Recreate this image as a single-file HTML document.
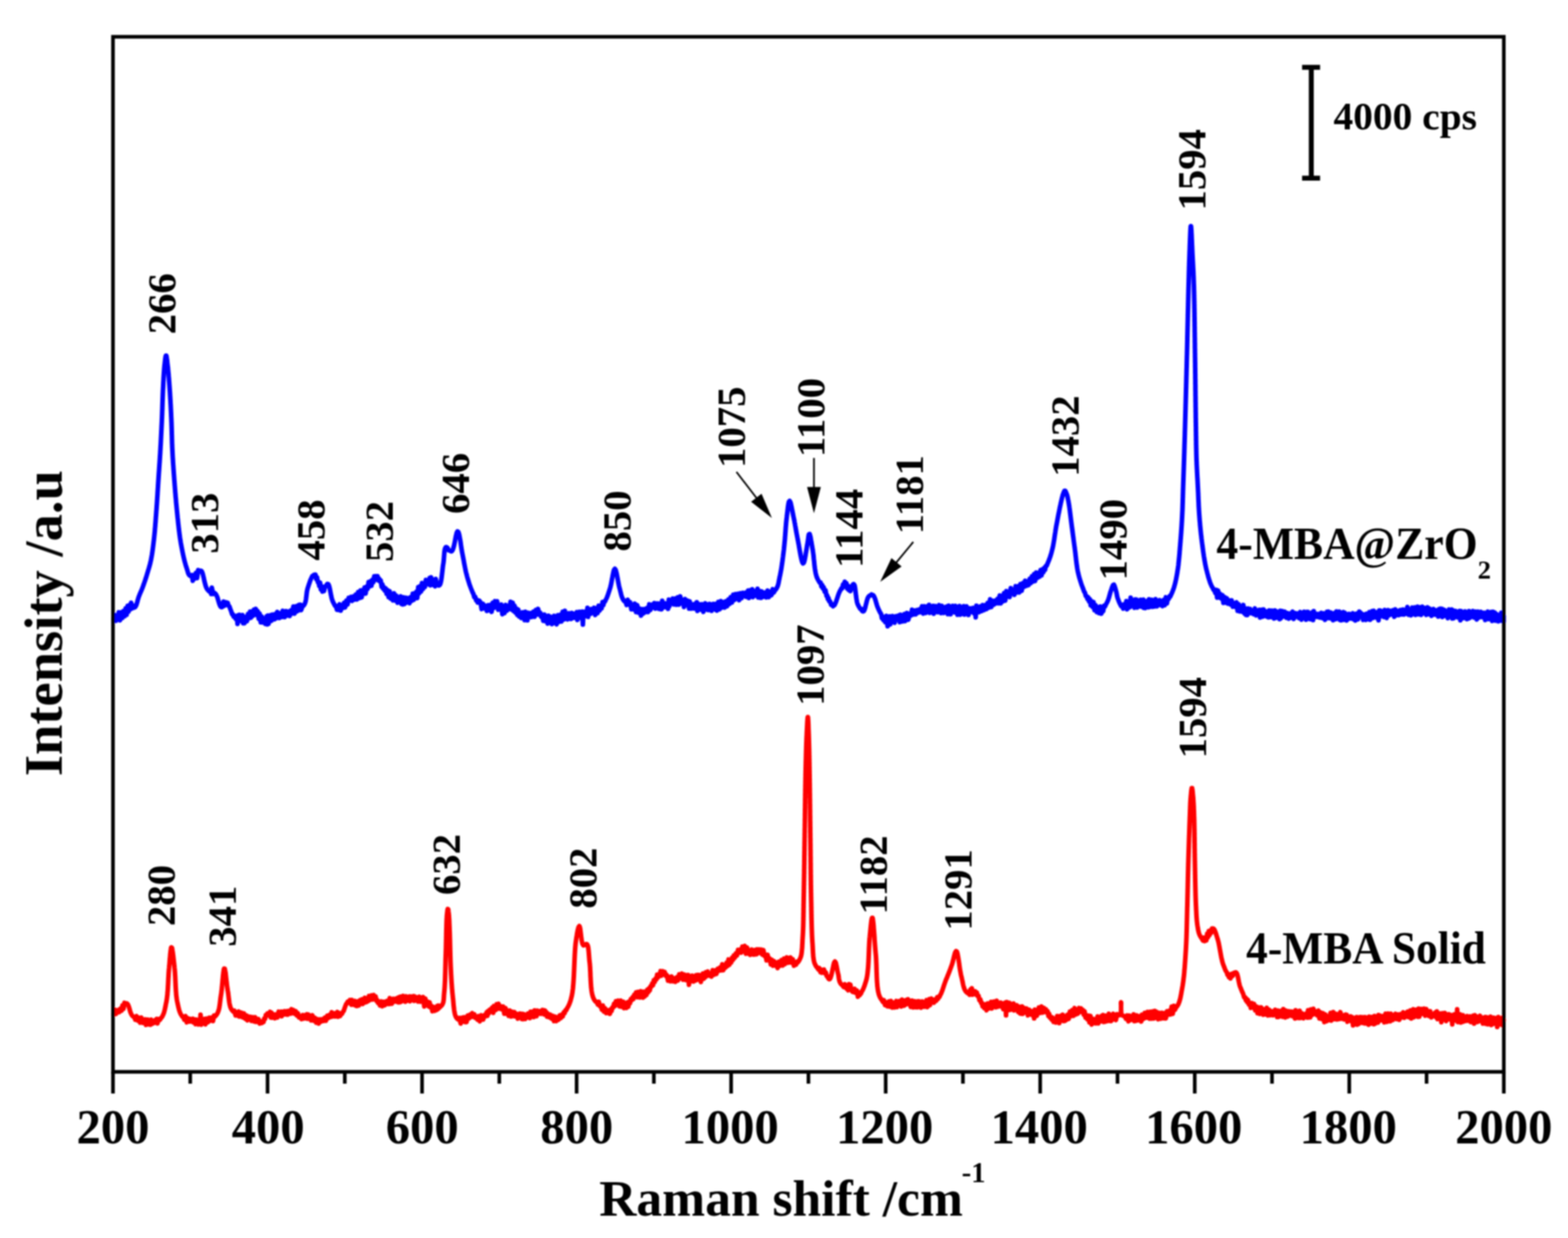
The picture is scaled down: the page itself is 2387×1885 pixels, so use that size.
<!DOCTYPE html>
<html><head><meta charset="utf-8"><title>Raman spectra</title>
<style>html,body{margin:0;padding:0;background:#fff;width:2387px;height:1885px;overflow:hidden}
text{font-family:'Liberation Serif','Times New Roman',serif;font-weight:bold;fill:#000}</style></head>
<body>
<svg width="2387" height="1885" viewBox="0 0 2387 1885" style="display:block;font-family:'Liberation Serif','Times New Roman',serif;font-weight:bold">
<defs><filter id="soft" filterUnits="userSpaceOnUse" x="0" y="0" width="2387" height="1885"><feGaussianBlur stdDeviation="1"/></filter></defs>
<rect width="2387" height="1885" fill="#fff"/>
<g filter="url(#soft)">
<path d="M172.0,940.0 L174.0,943.2 L175.2,936.6 L176.5,945.3 L177.8,938.4 L179.0,943.1 L180.8,932.4 L182.6,944.6 L184.5,932.2 L186.3,941.0 L188.1,930.4 L189.8,938.3 L191.3,926.2 L192.8,936.0 L194.3,922.6 L195.7,931.4 L197.2,921.2 L198.6,927.9 L199.7,917.7 L200.8,926.6 L201.9,921.6 L203.0,925.0 L204.0,925.2 L205.5,924.6 L206.8,922.8 L207.6,921.0 L207.9,920.1 L208.2,919.0 L208.6,917.9 L208.9,916.8 L209.2,915.6 L209.5,914.5 L209.8,913.3 L210.1,912.2 L210.5,911.1 L210.8,910.0 L211.1,909.0 L211.5,908.0 L212.6,905.2 L213.8,902.4 L215.0,899.6 L216.1,897.1 L216.9,894.9 L217.3,894.0 L217.6,893.0 L218.0,892.0 L218.3,891.1 L218.7,890.1 L219.0,889.2 L219.3,888.2 L219.7,887.3 L220.0,886.3 L220.3,885.3 L220.7,884.4 L221.0,883.4 L221.3,882.4 L221.6,881.4 L222.0,880.4 L222.3,879.4 L222.6,878.4 L222.9,877.4 L223.2,876.4 L223.5,875.5 L223.8,874.5 L224.1,873.5 L224.4,872.5 L224.7,871.5 L225.0,870.6 L225.3,869.6 L225.5,868.7 L225.8,867.8 L226.1,866.8 L226.4,865.9 L226.7,865.0 L226.9,864.0 L227.2,863.1 L227.5,862.2 L227.7,861.2 L228.0,860.2 L228.3,859.3 L228.5,858.3 L228.8,857.3 L229.0,856.3 L229.2,855.2 L229.5,854.2 L229.7,853.1 L229.9,852.2 L230.1,851.3 L230.2,850.4 L230.4,849.4 L230.6,848.5 L230.8,847.6 L230.9,846.6 L231.1,845.6 L231.3,844.7 L231.4,843.7 L231.6,842.7 L231.7,841.7 L231.9,840.7 L232.0,839.7 L232.2,838.7 L232.3,837.7 L232.5,836.6 L232.6,835.6 L232.7,834.5 L232.9,833.5 L233.0,832.4 L233.1,831.4 L233.3,830.3 L233.4,829.2 L233.5,828.1 L233.7,827.0 L233.8,825.9 L233.9,824.8 L234.1,823.7 L234.2,822.6 L234.3,821.7 L234.4,820.8 L234.5,819.8 L234.6,818.9 L234.7,817.9 L234.8,817.0 L234.9,816.0 L235.0,815.1 L235.1,814.1 L235.2,813.1 L235.3,812.1 L235.4,811.1 L235.5,810.1 L235.6,809.1 L235.7,808.1 L235.8,807.1 L235.8,806.1 L235.9,805.0 L236.0,804.0 L236.1,803.0 L236.2,801.9 L236.3,800.9 L236.4,799.9 L236.4,798.8 L236.5,797.8 L236.6,796.7 L236.7,795.7 L236.8,794.6 L236.9,793.6 L236.9,792.5 L237.0,791.5 L237.1,790.5 L237.2,789.4 L237.2,788.4 L237.3,787.3 L237.4,786.3 L237.5,785.2 L237.6,784.2 L237.6,783.2 L237.7,782.1 L237.8,781.1 L237.9,780.1 L237.9,779.0 L238.0,778.0 L238.1,777.0 L238.2,776.0 L238.3,775.0 L238.3,774.0 L238.4,772.9 L238.5,771.9 L238.5,770.9 L238.6,769.9 L238.7,768.9 L238.8,767.9 L238.8,766.8 L238.9,765.8 L239.0,764.8 L239.0,763.8 L239.1,762.8 L239.2,761.8 L239.2,760.8 L239.3,759.7 L239.4,758.7 L239.4,757.7 L239.5,756.7 L239.6,755.7 L239.6,754.7 L239.7,753.6 L239.8,752.6 L239.8,751.6 L239.9,750.6 L239.9,749.6 L240.0,748.6 L240.1,747.5 L240.1,746.5 L240.2,745.5 L240.3,744.5 L240.3,743.5 L240.4,742.5 L240.5,741.5 L240.5,740.4 L240.6,739.4 L240.6,738.4 L240.7,737.4 L240.8,736.4 L240.8,735.4 L240.9,734.3 L241.0,733.3 L241.0,732.3 L241.1,731.3 L241.2,730.3 L241.2,729.3 L241.3,728.3 L241.4,727.2 L241.4,726.2 L241.5,725.2 L241.6,724.2 L241.6,723.2 L241.7,722.2 L241.8,721.2 L241.8,720.2 L241.9,719.1 L242.0,718.1 L242.1,717.1 L242.1,716.1 L242.2,715.1 L242.3,714.1 L242.3,713.1 L242.4,712.0 L242.5,711.0 L242.5,710.0 L242.6,709.0 L242.7,708.0 L242.7,707.0 L242.8,706.0 L242.9,705.0 L243.0,703.9 L243.0,702.9 L243.1,701.9 L243.2,700.9 L243.2,699.9 L243.3,698.9 L243.4,697.9 L243.4,696.9 L243.5,695.8 L243.5,694.8 L243.6,693.8 L243.7,692.8 L243.7,691.8 L243.8,690.8 L243.9,689.8 L243.9,688.7 L244.0,687.7 L244.0,686.7 L244.1,685.7 L244.2,684.7 L244.2,683.7 L244.3,682.7 L244.3,681.6 L244.4,680.6 L244.4,679.6 L244.5,678.6 L244.6,677.6 L244.6,676.6 L244.7,675.6 L244.7,674.6 L244.8,673.6 L244.8,672.6 L244.9,671.6 L244.9,670.5 L245.0,669.5 L245.0,668.5 L245.1,667.5 L245.1,666.5 L245.2,665.5 L245.2,664.5 L245.3,663.5 L245.3,662.5 L245.4,661.5 L245.4,660.5 L245.5,659.4 L245.5,658.4 L245.6,657.4 L245.6,656.4 L245.7,655.4 L245.7,654.4 L245.8,653.4 L245.8,652.3 L245.9,651.3 L245.9,650.3 L246.0,649.3 L246.0,648.2 L246.1,647.2 L246.1,646.2 L246.2,645.2 L246.2,644.1 L246.3,643.1 L246.3,642.1 L246.4,641.0 L246.4,640.0 L246.4,639.0 L246.5,638.0 L246.5,637.0 L246.6,636.0 L246.6,635.0 L246.6,634.0 L246.7,633.0 L246.7,632.0 L246.8,631.0 L246.8,630.0 L246.8,629.0 L246.9,627.9 L246.9,626.9 L246.9,625.9 L247.0,624.9 L247.0,623.8 L247.1,622.8 L247.1,621.8 L247.1,620.7 L247.2,619.7 L247.2,618.7 L247.2,617.6 L247.3,616.6 L247.3,615.6 L247.3,614.5 L247.4,613.5 L247.4,612.5 L247.4,611.5 L247.5,610.4 L247.5,609.4 L247.5,608.4 L247.6,607.4 L247.6,606.4 L247.6,605.4 L247.7,604.4 L247.7,603.4 L247.8,602.4 L247.8,601.4 L247.8,600.4 L247.9,599.4 L247.9,598.4 L248.0,597.5 L248.0,596.5 L248.0,595.6 L248.1,594.6 L248.1,593.7 L248.2,592.7 L248.2,591.8 L248.3,590.9 L248.3,590.0 L248.4,588.9 L248.4,587.8 L248.5,586.7 L248.5,585.6 L248.6,584.5 L248.6,583.4 L248.7,582.3 L248.7,581.3 L248.8,580.2 L248.9,579.1 L248.9,578.0 L249.0,577.0 L249.0,575.9 L249.1,574.8 L249.1,573.8 L249.2,572.8 L249.3,571.7 L249.3,570.7 L249.4,569.7 L249.5,568.7 L249.5,567.7 L249.6,566.7 L249.7,565.7 L249.7,564.8 L249.8,563.8 L249.9,562.9 L249.9,562.0 L250.0,561.1 L250.1,560.2 L250.2,559.3 L250.2,558.5 L250.3,557.6 L250.4,556.8 L250.5,556.0 L250.6,554.8 L250.8,553.5 L250.9,552.1 L251.1,550.8 L251.2,549.4 L251.4,548.1 L251.5,546.9 L251.7,545.7 L251.8,544.5 L252.0,543.6 L252.2,542.7 L252.3,542.0 L252.5,541.5 L253.1,541.4 L253.3,542.0 L253.4,542.7 L253.6,543.5 L253.8,544.5 L253.9,545.6 L254.1,546.8 L254.3,548.0 L254.4,549.4 L254.6,550.7 L254.7,552.1 L254.9,553.4 L255.0,554.7 L255.2,556.0 L255.3,556.8 L255.4,557.6 L255.5,558.4 L255.6,559.2 L255.7,560.1 L255.8,561.0 L255.8,561.9 L255.9,562.8 L256.0,563.7 L256.1,564.6 L256.2,565.6 L256.3,566.6 L256.4,567.5 L256.5,568.5 L256.6,569.5 L256.7,570.5 L256.7,571.6 L256.8,572.6 L256.9,573.6 L257.0,574.7 L257.1,575.8 L257.2,576.8 L257.3,577.9 L257.3,579.0 L257.4,580.0 L257.5,581.1 L257.6,582.2 L257.7,583.3 L257.7,584.3 L257.8,585.4 L257.9,586.5 L258.0,587.6 L258.1,588.7 L258.1,589.7 L258.2,590.8 L258.3,591.9 L258.4,592.9 L258.4,594.0 L258.5,595.0 L258.6,596.0 L258.6,596.9 L258.7,597.9 L258.8,598.9 L258.8,599.9 L258.9,600.8 L258.9,601.8 L259.0,602.8 L259.1,603.8 L259.1,604.8 L259.2,605.8 L259.2,606.8 L259.3,607.8 L259.4,608.7 L259.4,609.7 L259.5,610.7 L259.5,611.7 L259.6,612.7 L259.6,613.8 L259.7,614.8 L259.8,615.8 L259.8,616.8 L259.9,617.8 L259.9,618.8 L260.0,619.8 L260.0,620.8 L260.1,621.8 L260.1,622.8 L260.2,623.8 L260.2,624.9 L260.3,625.9 L260.3,626.9 L260.4,627.9 L260.4,628.9 L260.5,629.9 L260.5,630.9 L260.5,631.9 L260.6,632.9 L260.6,634.0 L260.7,635.0 L260.7,636.0 L260.8,637.0 L260.8,638.0 L260.9,639.0 L260.9,640.0 L260.9,641.0 L261.0,642.0 L261.0,643.0 L261.1,644.0 L261.1,645.1 L261.1,646.1 L261.2,647.1 L261.2,648.1 L261.2,649.1 L261.3,650.1 L261.3,651.1 L261.3,652.2 L261.4,653.2 L261.4,654.2 L261.4,655.2 L261.4,656.2 L261.5,657.2 L261.5,658.3 L261.5,659.3 L261.5,660.3 L261.6,661.3 L261.6,662.3 L261.6,663.3 L261.7,664.4 L261.7,665.4 L261.7,666.4 L261.7,667.4 L261.8,668.4 L261.8,669.4 L261.8,670.5 L261.9,671.5 L261.9,672.5 L261.9,673.5 L261.9,674.5 L262.0,675.5 L262.0,676.6 L262.1,677.6 L262.1,678.6 L262.1,679.6 L262.2,680.6 L262.2,681.6 L262.3,682.7 L262.3,683.7 L262.4,684.7 L262.4,685.7 L262.5,686.7 L262.5,687.7 L262.6,688.7 L262.6,689.8 L262.7,690.8 L262.7,691.8 L262.8,692.8 L262.8,693.8 L262.9,694.8 L262.9,695.8 L263.0,696.9 L263.1,697.9 L263.1,698.9 L263.2,699.9 L263.3,700.9 L263.3,701.9 L263.4,702.9 L263.4,703.9 L263.5,705.0 L263.6,706.0 L263.6,707.0 L263.7,708.0 L263.8,709.0 L263.9,710.0 L263.9,711.0 L264.0,712.0 L264.1,713.1 L264.1,714.1 L264.2,715.1 L264.3,716.1 L264.4,717.1 L264.4,718.1 L264.5,719.1 L264.6,720.2 L264.6,721.2 L264.7,722.2 L264.8,723.2 L264.9,724.2 L264.9,725.2 L265.0,726.2 L265.1,727.2 L265.2,728.3 L265.2,729.3 L265.3,730.3 L265.4,731.3 L265.5,732.3 L265.6,733.3 L265.6,734.3 L265.7,735.4 L265.8,736.4 L265.9,737.4 L265.9,738.4 L266.0,739.4 L266.1,740.4 L266.2,741.5 L266.3,742.5 L266.3,743.5 L266.4,744.5 L266.5,745.5 L266.6,746.5 L266.7,747.6 L266.7,748.6 L266.8,749.6 L266.9,750.6 L267.0,751.6 L267.1,752.6 L267.2,753.6 L267.2,754.7 L267.3,755.7 L267.4,756.7 L267.5,757.7 L267.6,758.7 L267.7,759.7 L267.8,760.8 L267.9,761.8 L268.0,762.8 L268.0,763.8 L268.1,764.8 L268.2,765.8 L268.3,766.9 L268.4,767.9 L268.5,768.9 L268.6,769.9 L268.7,770.9 L268.8,771.9 L268.9,772.9 L269.0,774.0 L269.1,775.0 L269.2,776.0 L269.3,777.0 L269.4,778.0 L269.5,779.0 L269.6,780.1 L269.7,781.1 L269.8,782.1 L269.9,783.2 L270.0,784.2 L270.1,785.2 L270.2,786.3 L270.3,787.3 L270.4,788.4 L270.6,789.4 L270.7,790.5 L270.8,791.5 L270.9,792.6 L271.0,793.6 L271.1,794.7 L271.2,795.7 L271.3,796.7 L271.4,797.8 L271.5,798.8 L271.7,799.9 L271.8,800.9 L271.9,801.9 L272.0,803.0 L272.1,804.0 L272.2,805.0 L272.4,806.1 L272.5,807.1 L272.6,808.1 L272.7,809.1 L272.9,810.1 L273.0,811.1 L273.1,812.1 L273.2,813.1 L273.4,814.1 L273.5,815.1 L273.6,816.0 L273.8,817.0 L273.9,817.9 L274.0,818.9 L274.2,819.8 L274.3,820.8 L274.5,821.7 L274.6,822.6 L274.8,823.7 L275.0,824.8 L275.1,825.9 L275.3,826.9 L275.5,828.0 L275.7,829.1 L275.9,830.2 L276.1,831.2 L276.3,832.3 L276.5,833.4 L276.7,834.4 L276.9,835.5 L277.1,836.5 L277.3,837.5 L277.5,838.6 L277.7,839.6 L277.9,840.6 L278.1,841.6 L278.3,842.5 L278.5,843.5 L278.7,844.5 L278.9,845.4 L279.1,846.3 L279.3,847.2 L279.5,848.1 L279.7,849.0 L279.9,849.9 L280.1,850.7 L280.3,851.5 L280.5,852.3 L280.7,853.1 L281.0,854.3 L281.3,855.4 L281.6,856.5 L281.9,857.5 L282.2,858.6 L282.4,859.5 L282.7,860.5 L283.0,861.4 L283.3,862.4 L283.6,863.3 L283.9,864.2 L284.2,865.1 L284.5,866.0 L284.8,867.1 L285.2,868.2 L285.5,869.3 L285.8,870.5 L286.1,871.5 L286.4,872.6 L287.7,875.2 L289.2,876.6 L291.2,877.6 L292.3,875.7 L293.4,884.3 L294.4,875.8 L296.3,881.1 L298.2,872.3 L300.0,880.3 L301.7,868.0 L303.5,870.3 L305.2,869.0 L306.4,869.2 L307.4,870.5 L308.0,871.9 L308.3,872.7 L308.6,873.7 L308.9,874.7 L309.2,875.7 L309.4,876.9 L309.7,878.0 L310.0,879.2 L310.3,880.5 L310.5,881.8 L310.8,883.1 L311.1,884.4 L311.4,885.6 L311.7,886.9 L312.0,888.2 L312.4,889.4 L312.7,890.6 L313.0,891.8 L313.4,892.9 L313.8,894.0 L315.1,896.7 L316.8,898.8 L318.6,900.7 L320.5,899.2 L321.5,904.4 L322.5,894.8 L324.5,904.4 L326.4,902.7 L328.0,904.0 L329.1,905.5 L330.5,908.4 L330.9,909.5 L331.3,910.7 L331.6,911.9 L332.0,913.1 L332.3,914.3 L332.7,915.5 L333.0,916.7 L333.4,917.9 L333.7,919.0 L334.1,920.0 L334.4,921.0 L335.6,923.4 L337.0,924.5 L338.6,924.1 L340.3,916.0 L342.1,922.2 L343.9,917.1 L345.6,919.9 L346.6,917.8 L348.0,922.4 L349.3,923.3 L349.7,924.9 L350.2,926.0 L350.6,927.2 L351.0,928.3 L351.5,929.5 L351.9,930.7 L353.4,935.4 L354.5,935.3 L355.7,939.0 L357.0,937.8 L358.7,942.1 L360.6,937.9 L361.6,949.9 L362.7,936.8 L363.7,945.2 L364.8,936.1 L365.9,945.0 L367.0,937.0 L368.1,946.0 L369.1,936.5 L370.2,948.9 L371.2,939.1 L372.2,948.9 L374.1,939.3 L375.9,945.9 L377.6,934.8 L379.2,941.3 L380.7,931.2 L382.1,940.6 L383.5,931.1 L385.0,937.8 L386.6,928.4 L388.0,935.9 L389.5,927.1 L390.9,936.4 L392.4,930.6 L393.8,942.2 L395.3,934.3 L396.9,947.5 L398.5,938.8 L400.1,947.8 L401.9,942.2 L403.8,949.9 L405.8,938.6 L406.8,950.8 L407.8,937.3 L408.8,949.9 L409.9,941.2 L410.9,945.2 L411.9,936.8 L413.0,945.4 L414.0,936.0 L415.0,943.6 L416.1,935.8 L418.0,942.9 L420.1,934.2 L421.1,941.1 L422.2,931.7 L423.2,938.4 L424.2,935.9 L425.3,941.0 L426.3,933.7 L427.3,937.3 L428.3,935.3 L429.3,939.5 L430.4,930.0 L431.4,938.8 L432.4,932.9 L433.5,939.6 L435.3,930.5 L437.2,937.2 L439.1,931.1 L441.0,938.0 L442.9,929.3 L444.8,934.1 L446.6,923.5 L448.4,934.3 L450.2,923.4 L452.1,930.9 L453.2,922.2 L454.2,929.9 L455.3,920.9 L456.3,927.2 L457.4,920.8 L458.4,929.0 L460.3,923.6 L462.0,922.3 L463.1,920.9 L464.2,918.7 L464.5,917.9 L464.8,917.0 L465.1,916.1 L465.3,915.1 L465.5,914.1 L465.7,913.1 L465.8,912.0 L466.0,910.9 L466.1,909.8 L466.3,908.7 L466.4,907.6 L466.5,906.5 L466.7,905.4 L466.8,904.3 L466.9,903.1 L467.1,902.0 L467.2,901.0 L467.4,899.9 L467.6,898.9 L467.8,897.8 L468.1,896.9 L468.3,895.9 L468.6,895.0 L469.0,893.9 L469.3,892.8 L469.7,891.6 L470.1,890.4 L470.5,889.1 L471.0,887.9 L471.4,886.6 L471.8,885.4 L472.3,884.1 L472.7,883.0 L474.1,880.1 L475.5,877.0 L476.9,877.3 L477.9,875.3 L479.1,877.8 L480.3,874.9 L481.4,881.7 L482.6,878.9 L483.8,886.1 L484.9,885.8 L486.0,892.2 L487.3,887.2 L488.4,897.4 L489.6,892.5 L490.8,900.7 L492.0,896.8 L493.2,900.0 L494.6,893.2 L495.9,892.8 L497.2,890.5 L498.4,889.1 L499.7,889.4 L500.6,891.1 L500.9,891.8 L501.1,892.7 L501.4,893.7 L501.7,894.7 L501.9,895.8 L502.1,896.9 L502.4,898.2 L502.6,899.4 L502.9,900.7 L503.1,902.0 L503.4,903.3 L503.6,904.6 L503.9,905.9 L504.1,907.2 L504.4,908.4 L504.7,909.7 L504.9,910.8 L505.2,912.0 L505.6,913.0 L505.9,914.0 L507.1,916.8 L508.2,918.9 L509.2,921.0 L510.4,923.0 L511.6,922.6 L512.9,928.4 L514.3,922.5 L515.7,928.8 L517.1,920.1 L518.7,929.8 L520.3,921.7 L521.9,925.7 L523.7,917.8 L525.4,924.9 L527.3,914.5 L529.1,920.3 L530.8,910.4 L532.5,912.1 L534.2,909.0 L536.0,915.0 L537.8,908.0 L539.6,913.0 L541.5,905.3 L543.3,912.8 L545.2,901.5 L547.0,910.7 L548.8,899.0 L550.6,909.6 L552.1,898.6 L553.5,904.2 L555.0,894.6 L556.6,903.8 L558.1,893.4 L559.6,896.7 L561.1,886.2 L562.6,893.2 L564.1,885.1 L565.5,891.9 L567.0,882.8 L568.3,886.7 L569.7,877.6 L571.0,883.2 L572.2,877.3 L573.4,882.4 L574.7,877.2 L575.9,883.6 L577.1,881.0 L578.1,885.2 L579.6,883.8 L581.0,893.5 L582.1,889.5 L583.2,896.1 L584.4,893.8 L585.7,899.5 L587.1,895.8 L588.5,904.1 L590.0,898.4 L591.6,909.2 L593.2,900.3 L594.8,911.5 L596.5,905.0 L598.2,914.1 L600.0,903.4 L601.7,914.5 L603.4,906.9 L605.2,917.7 L607.0,909.7 L609.0,915.6 L610.0,908.0 L611.1,919.4 L612.1,910.8 L613.2,920.3 L614.2,909.6 L615.3,919.8 L616.3,910.4 L617.4,918.4 L618.4,910.1 L619.4,915.9 L621.4,910.9 L623.3,918.5 L625.0,909.3 L626.7,915.0 L628.3,904.0 L629.8,913.4 L631.2,903.3 L632.5,909.9 L633.9,901.0 L635.2,910.8 L636.7,894.0 L638.1,903.6 L639.5,892.5 L641.0,900.9 L642.4,887.8 L643.9,896.9 L645.4,888.6 L646.9,893.8 L648.3,882.9 L649.8,888.9 L651.3,883.3 L653.1,889.9 L654.1,880.0 L655.2,891.2 L656.3,879.1 L657.4,887.3 L658.5,882.7 L659.5,890.6 L660.5,883.0 L662.4,892.7 L663.4,881.6 L665.3,889.7 L667.0,891.2 L668.6,891.5 L669.8,890.2 L670.3,889.0 L670.5,888.3 L670.8,887.5 L671.0,886.6 L671.2,885.7 L671.4,884.8 L671.6,883.8 L671.8,882.7 L671.9,881.6 L672.1,880.4 L672.3,879.3 L672.4,878.1 L672.6,876.8 L672.7,875.6 L672.9,874.3 L673.0,873.1 L673.2,871.8 L673.3,870.5 L673.5,869.3 L673.6,868.0 L673.7,866.8 L673.9,865.6 L674.0,864.4 L674.1,863.2 L674.3,862.1 L674.4,861.0 L674.6,859.9 L674.7,858.9 L674.9,858.0 L675.1,856.9 L675.2,855.8 L675.4,854.6 L675.5,853.3 L675.6,852.1 L675.7,850.8 L675.8,849.5 L675.9,848.3 L676.0,847.0 L676.1,845.7 L676.2,844.4 L676.3,843.2 L676.4,842.0 L676.5,840.9 L676.6,839.8 L676.8,838.7 L676.9,837.7 L677.1,836.8 L677.3,836.0 L677.5,835.2 L678.6,833.2 L679.7,833.0 L681.3,834.2 L683.1,838.1 L684.9,838.2 L686.6,839.5 L687.8,839.3 L688.9,837.7 L689.7,836.0 L690.0,835.0 L690.3,833.9 L690.7,832.7 L691.0,831.4 L691.3,830.1 L691.6,828.7 L691.9,827.3 L692.2,825.9 L692.5,824.4 L692.8,823.0 L693.0,821.5 L693.3,820.1 L693.6,818.8 L693.8,817.4 L694.1,816.1 L694.4,814.9 L694.6,813.8 L694.9,812.8 L695.1,811.8 L695.4,811.0 L696.4,809.1 L697.7,809.9 L698.1,810.9 L698.3,811.6 L698.6,812.3 L698.8,813.1 L699.0,813.9 L699.2,814.9 L699.4,815.9 L699.6,816.9 L699.8,818.0 L700.0,819.1 L700.2,820.3 L700.5,821.5 L700.7,822.8 L700.9,824.0 L701.1,825.3 L701.3,826.6 L701.4,827.9 L701.6,829.2 L701.8,830.5 L702.0,831.8 L702.2,833.1 L702.4,834.4 L702.6,835.7 L702.8,836.9 L703.0,838.2 L703.2,839.3 L703.4,840.5 L703.6,841.6 L703.8,842.6 L704.0,843.6 L704.2,844.6 L704.4,845.7 L704.6,846.7 L704.8,847.7 L705.0,848.8 L705.2,849.8 L705.4,850.8 L705.6,851.9 L705.8,852.9 L706.0,853.9 L706.2,854.9 L706.3,856.0 L706.5,857.0 L706.7,858.0 L706.9,859.0 L707.1,860.0 L707.3,861.1 L707.5,862.1 L707.7,863.1 L707.9,864.1 L708.1,865.1 L708.3,866.1 L708.5,867.1 L708.7,868.0 L708.9,869.0 L709.1,870.0 L709.3,871.0 L709.6,871.9 L709.8,872.9 L710.1,873.9 L710.3,874.8 L710.6,875.8 L710.8,876.8 L711.1,877.9 L711.4,878.9 L711.7,879.9 L712.0,880.9 L712.3,881.9 L712.6,882.9 L712.9,883.9 L713.2,884.9 L713.5,885.8 L713.8,886.8 L714.1,887.8 L714.4,888.7 L714.7,889.7 L715.0,890.7 L715.4,891.6 L715.7,892.5 L716.1,893.5 L716.4,894.4 L716.8,895.3 L717.1,896.2 L718.2,898.9 L719.5,902.2 L720.7,904.3 L722.0,909.5 L723.4,908.7 L724.9,914.4 L725.9,913.1 L727.1,917.4 L728.3,916.3 L729.8,914.7 L731.4,917.0 L733.2,927.4 L735.2,919.3 L737.1,926.2 L739.1,922.4 L741.1,930.3 L743.0,921.5 L744.8,929.2 L746.6,921.1 L748.4,931.6 L750.1,917.7 L751.8,925.8 L753.5,915.4 L755.2,924.2 L756.8,915.5 L758.4,928.4 L760.0,921.1 L761.5,927.2 L763.1,920.5 L764.7,935.2 L766.4,923.0 L768.1,933.5 L769.9,921.1 L771.7,929.8 L773.5,922.7 L775.4,927.2 L777.2,916.2 L779.0,928.3 L780.5,917.6 L781.9,930.3 L783.3,922.1 L784.7,932.8 L786.1,926.4 L787.5,936.3 L789.0,928.1 L790.4,938.7 L791.9,936.0 L793.5,941.0 L795.5,932.3 L796.5,940.8 L797.6,932.8 L798.6,944.3 L799.7,931.6 L800.8,941.5 L801.9,935.8 L802.9,944.6 L804.0,932.9 L805.0,939.7 L806.1,934.3 L808.0,939.6 L809.0,933.3 L810.0,939.3 L812.0,931.4 L813.9,939.2 L815.7,928.8 L817.5,935.6 L819.2,927.1 L820.8,936.0 L822.3,932.7 L823.8,939.3 L825.3,935.8 L827.0,945.2 L828.8,935.7 L830.6,945.8 L832.6,938.8 L833.7,949.4 L834.8,937.5 L835.8,948.4 L836.9,938.5 L838.0,947.8 L839.1,942.3 L840.2,950.2 L841.3,939.5 L842.4,947.6 L843.5,937.7 L844.5,948.6 L845.5,941.6 L847.4,950.6 L849.3,936.8 L851.2,946.9 L853.0,936.1 L854.8,946.2 L856.5,931.6 L858.3,943.3 L860.0,930.0 L861.1,940.2 L862.1,934.3 L864.1,943.1 L866.0,933.7 L867.1,940.5 L868.1,935.6 L869.2,942.5 L870.4,933.3 L872.1,941.1 L874.0,934.6 L875.9,940.6 L877.9,932.0 L878.9,944.0 L880.0,933.0 L881.0,939.8 L882.1,931.5 L883.1,939.3 L884.2,932.0 L885.2,941.3 L886.2,931.2 L887.3,951.1 L888.3,931.4 L890.2,937.8 L892.2,930.7 L893.3,938.3 L894.3,925.4 L895.3,939.3 L896.4,928.0 L897.4,933.8 L898.4,929.4 L899.4,934.6 L900.4,927.4 L902.4,933.0 L904.3,925.4 L906.1,936.4 L907.9,926.0 L909.6,933.7 L911.3,922.3 L912.8,929.9 L914.4,922.2 L915.8,926.4 L917.2,916.7 L918.5,921.4 L919.8,915.8 L920.9,916.1 L922.3,913.0 L923.6,910.5 L924.3,908.6 L924.7,907.7 L925.0,906.7 L925.4,905.7 L925.7,904.8 L926.1,903.8 L926.4,902.8 L926.7,901.8 L927.1,900.8 L927.4,899.7 L927.7,898.7 L928.0,897.7 L928.4,896.6 L928.7,895.6 L929.0,894.7 L929.3,893.7 L929.5,892.6 L929.8,891.5 L930.1,890.3 L930.3,889.1 L930.6,887.9 L930.8,886.6 L931.1,885.3 L931.3,884.0 L931.6,882.6 L931.8,881.3 L932.0,880.0 L932.3,878.7 L932.5,877.5 L932.7,876.2 L933.0,875.0 L933.2,873.9 L933.4,872.7 L933.7,871.7 L933.9,870.7 L934.1,869.8 L934.4,869.0 L934.6,868.2 L934.8,867.6 L936.0,866.0 L937.2,867.6 L937.4,868.2 L937.7,869.0 L937.9,869.8 L938.1,870.8 L938.4,871.7 L938.6,872.8 L938.9,873.9 L939.1,875.1 L939.3,876.3 L939.6,877.5 L939.8,878.8 L940.0,880.1 L940.3,881.4 L940.5,882.7 L940.8,884.1 L941.0,885.4 L941.2,886.7 L941.5,887.9 L941.7,889.2 L942.0,890.4 L942.2,891.6 L942.5,892.7 L942.7,893.7 L942.9,894.7 L943.2,895.6 L943.5,896.7 L943.8,897.8 L944.1,898.9 L944.3,900.0 L944.6,901.1 L944.9,902.2 L945.1,903.2 L945.4,904.3 L945.6,905.3 L945.9,906.3 L946.2,907.3 L946.5,908.3 L946.9,909.3 L948.0,911.9 L949.5,914.3 L950.8,915.8 L952.3,915.8 L953.9,921.2 L955.6,913.2 L957.4,920.5 L959.2,916.9 L961.1,927.7 L962.9,920.9 L964.6,928.0 L966.4,919.1 L968.3,931.9 L970.1,921.4 L972.0,932.8 L973.9,926.5 L975.8,937.3 L977.7,927.5 L979.5,934.2 L981.3,927.4 L983.1,931.9 L984.8,925.9 L986.6,932.0 L988.4,920.1 L990.2,928.7 L992.1,920.7 L994.0,925.1 L995.9,918.2 L997.8,926.7 L999.8,918.8 L1000.8,924.2 L1001.8,919.0 L1002.9,926.9 L1003.9,919.1 L1004.9,927.3 L1006.0,918.8 L1007.0,927.8 L1008.1,914.7 L1009.1,925.2 L1010.1,917.6 L1011.1,924.5 L1012.1,918.7 L1014.1,924.6 L1016.0,918.4 L1017.0,927.0 L1018.1,913.1 L1019.1,923.2 L1020.1,914.8 L1022.1,917.6 L1024.0,911.3 L1025.9,920.3 L1027.9,911.2 L1029.8,920.8 L1031.7,909.5 L1033.7,920.6 L1035.5,908.0 L1037.4,918.1 L1039.3,913.5 L1041.2,924.2 L1043.1,912.1 L1045.0,921.3 L1047.0,914.5 L1049.0,926.6 L1050.0,915.8 L1051.9,926.7 L1053.8,920.0 L1055.8,926.4 L1057.7,919.6 L1059.7,927.3 L1060.7,916.9 L1061.7,930.2 L1062.8,920.8 L1063.8,927.3 L1064.8,919.9 L1065.8,927.9 L1066.8,921.2 L1067.8,928.6 L1068.8,920.0 L1070.8,931.6 L1071.8,920.7 L1072.9,926.9 L1073.9,918.6 L1075.0,926.9 L1076.0,921.1 L1077.1,928.6 L1078.1,920.3 L1079.2,928.9 L1080.2,919.4 L1081.2,928.2 L1082.3,921.0 L1083.3,930.0 L1084.4,919.9 L1085.4,927.5 L1086.5,919.5 L1087.5,926.6 L1088.5,926.7 L1089.6,928.6 L1090.6,919.3 L1091.6,929.7 L1093.5,916.5 L1095.5,927.7 L1097.4,915.3 L1099.3,925.1 L1101.3,916.7 L1103.2,925.1 L1105.1,915.5 L1106.9,923.2 L1108.8,912.9 L1110.6,919.6 L1112.4,909.2 L1114.3,917.4 L1116.2,905.5 L1118.0,913.5 L1119.8,904.6 L1121.5,911.8 L1123.3,904.1 L1125.2,913.9 L1127.0,903.2 L1129.0,910.8 L1130.9,902.6 L1132.8,907.1 L1134.8,902.6 L1135.8,908.8 L1136.9,901.9 L1137.9,908.1 L1138.9,899.2 L1140.0,910.5 L1141.0,898.9 L1142.0,906.6 L1143.1,900.8 L1144.1,908.1 L1145.1,897.2 L1146.1,909.2 L1148.1,900.0 L1150.0,906.8 L1151.1,900.1 L1152.2,905.8 L1153.2,896.4 L1154.3,909.8 L1155.4,900.6 L1156.4,905.7 L1157.5,900.2 L1158.5,910.3 L1159.5,900.6 L1160.5,907.4 L1161.5,901.7 L1162.6,908.6 L1164.5,902.3 L1166.5,909.7 L1168.5,899.2 L1170.4,909.3 L1172.4,900.7 L1174.4,906.3 L1176.3,897.1 L1178.0,902.1 L1179.6,899.1 L1181.0,897.6 L1182.0,896.2 L1183.3,893.7 L1183.7,892.8 L1184.0,891.9 L1184.3,891.0 L1184.6,890.0 L1184.8,889.0 L1185.1,888.0 L1185.3,886.9 L1185.5,885.9 L1185.7,884.8 L1185.9,883.7 L1186.1,882.6 L1186.4,881.4 L1186.6,880.3 L1186.8,879.1 L1187.0,878.0 L1187.3,876.8 L1187.5,876.0 L1187.7,875.1 L1187.8,874.3 L1188.0,873.4 L1188.2,872.5 L1188.4,871.6 L1188.5,870.7 L1188.7,869.8 L1188.9,868.9 L1189.0,867.9 L1189.2,867.0 L1189.4,866.0 L1189.5,865.1 L1189.7,864.1 L1189.8,863.1 L1190.0,862.1 L1190.1,861.1 L1190.3,860.1 L1190.4,859.1 L1190.6,858.0 L1190.7,857.0 L1190.9,856.0 L1191.0,854.9 L1191.2,853.9 L1191.3,852.9 L1191.4,851.8 L1191.6,850.8 L1191.7,849.7 L1191.8,848.6 L1192.0,847.6 L1192.1,846.5 L1192.2,845.5 L1192.4,844.4 L1192.5,843.4 L1192.6,842.3 L1192.8,841.3 L1192.9,840.2 L1193.0,839.2 L1193.1,838.1 L1193.3,837.1 L1193.4,836.0 L1193.5,835.0 L1193.6,834.0 L1193.7,833.0 L1193.8,832.0 L1193.9,831.0 L1194.0,830.0 L1194.1,829.0 L1194.2,827.9 L1194.3,826.9 L1194.4,825.9 L1194.5,824.8 L1194.6,823.8 L1194.7,822.7 L1194.8,821.6 L1194.9,820.6 L1195.0,819.5 L1195.0,818.4 L1195.1,817.4 L1195.2,816.3 L1195.3,815.2 L1195.4,814.2 L1195.4,813.1 L1195.5,812.0 L1195.6,811.0 L1195.7,809.9 L1195.8,808.8 L1195.8,807.8 L1195.9,806.7 L1196.0,805.7 L1196.1,804.6 L1196.1,803.6 L1196.2,802.6 L1196.3,801.6 L1196.4,800.5 L1196.5,799.5 L1196.6,798.5 L1196.6,797.5 L1196.7,796.6 L1196.8,795.6 L1196.9,794.6 L1197.0,793.7 L1197.1,792.7 L1197.2,791.8 L1197.3,790.9 L1197.4,790.0 L1197.5,789.1 L1197.6,788.3 L1197.7,787.4 L1197.8,786.2 L1198.0,785.0 L1198.1,783.7 L1198.3,782.4 L1198.4,781.1 L1198.6,779.8 L1198.8,778.4 L1198.9,777.1 L1199.1,775.8 L1199.2,774.5 L1199.4,773.2 L1199.5,772.0 L1199.7,770.8 L1199.9,769.6 L1200.0,768.5 L1200.2,767.5 L1200.4,766.5 L1200.6,765.7 L1200.7,764.9 L1200.9,764.2 L1201.1,763.6 L1202.1,762.6 L1203.0,764.2 L1203.3,764.9 L1203.5,765.7 L1203.8,766.6 L1204.0,767.6 L1204.3,768.7 L1204.5,769.8 L1204.8,771.0 L1205.1,772.2 L1205.3,773.5 L1205.6,774.8 L1205.8,776.1 L1206.1,777.4 L1206.4,778.7 L1206.6,780.1 L1206.9,781.4 L1207.1,782.7 L1207.4,783.9 L1207.6,785.1 L1207.9,786.3 L1208.1,787.4 L1208.3,788.3 L1208.5,789.3 L1208.7,790.2 L1208.9,791.2 L1209.1,792.2 L1209.3,793.1 L1209.5,794.1 L1209.6,795.1 L1209.8,796.1 L1210.0,797.1 L1210.2,798.1 L1210.4,799.1 L1210.5,800.1 L1210.7,801.1 L1210.9,802.1 L1211.1,803.1 L1211.2,804.1 L1211.4,805.2 L1211.6,806.2 L1211.8,807.2 L1212.0,808.3 L1212.1,809.3 L1212.3,810.3 L1212.5,811.4 L1212.7,812.4 L1212.9,813.4 L1213.1,814.5 L1213.3,815.5 L1213.5,816.5 L1213.7,817.6 L1213.9,818.6 L1214.1,819.7 L1214.3,820.7 L1214.5,821.7 L1214.7,822.7 L1214.9,823.8 L1215.1,824.9 L1215.3,826.1 L1215.5,827.3 L1215.8,828.5 L1216.0,829.7 L1216.2,831.0 L1216.4,832.3 L1216.6,833.6 L1216.9,834.9 L1217.1,836.2 L1217.3,837.5 L1217.5,838.8 L1217.8,840.1 L1218.0,841.4 L1218.2,842.6 L1218.5,843.9 L1218.7,845.1 L1218.9,846.3 L1219.2,847.5 L1219.4,848.6 L1219.6,849.7 L1219.9,850.7 L1220.1,851.7 L1220.3,852.6 L1220.5,853.5 L1220.8,854.3 L1221.0,855.0 L1221.2,855.7 L1221.4,856.3 L1222.5,857.9 L1223.6,856.9 L1223.9,856.3 L1224.1,855.6 L1224.4,854.8 L1224.6,854.0 L1224.8,853.0 L1225.1,852.0 L1225.3,850.9 L1225.5,849.7 L1225.7,848.5 L1226.0,847.3 L1226.2,846.0 L1226.4,844.7 L1226.6,843.3 L1226.8,842.0 L1227.1,840.7 L1227.3,839.3 L1227.5,838.0 L1227.7,836.7 L1227.9,835.5 L1228.1,834.2 L1228.3,833.1 L1228.5,831.9 L1228.6,830.9 L1228.8,829.9 L1229.0,829.0 L1229.2,827.8 L1229.4,826.5 L1229.6,825.2 L1229.8,823.8 L1230.0,822.4 L1230.2,821.0 L1230.4,819.7 L1230.5,818.4 L1230.7,817.2 L1230.9,816.1 L1231.0,815.1 L1231.2,814.2 L1231.4,813.5 L1232.5,813.1 L1232.7,813.6 L1232.9,814.2 L1233.1,814.9 L1233.3,815.7 L1233.6,816.5 L1233.8,817.5 L1234.0,818.5 L1234.2,819.6 L1234.4,820.8 L1234.6,822.0 L1234.8,823.2 L1235.1,824.5 L1235.3,825.8 L1235.5,827.1 L1235.7,828.5 L1235.9,829.8 L1236.2,831.1 L1236.4,832.4 L1236.6,833.7 L1236.8,834.9 L1237.0,836.1 L1237.2,837.3 L1237.4,838.2 L1237.5,839.1 L1237.6,840.0 L1237.8,840.9 L1237.9,841.9 L1238.0,842.9 L1238.2,843.9 L1238.3,844.9 L1238.4,845.9 L1238.5,846.9 L1238.6,848.0 L1238.7,849.0 L1238.8,850.1 L1238.9,851.2 L1239.0,852.2 L1239.2,853.3 L1239.3,854.4 L1239.4,855.5 L1239.5,856.6 L1239.6,857.7 L1239.7,858.8 L1239.8,859.8 L1239.9,860.9 L1240.1,862.0 L1240.2,863.1 L1240.3,864.1 L1240.5,865.2 L1240.6,866.2 L1240.8,867.3 L1240.9,868.3 L1241.1,869.3 L1241.3,870.3 L1241.5,871.2 L1241.6,872.2 L1241.8,873.1 L1242.0,874.0 L1242.3,874.9 L1242.5,875.8 L1242.7,876.6 L1243.0,877.5 L1243.2,878.2 L1243.5,879.0 L1244.9,882.1 L1245.9,883.9 L1246.9,885.6 L1248.0,887.3 L1249.2,887.1 L1250.4,892.8 L1251.6,890.6 L1252.7,895.9 L1253.9,894.2 L1255.3,900.7 L1256.7,898.6 L1258.2,907.1 L1259.2,906.5 L1260.2,911.9 L1261.2,910.4 L1262.3,915.5 L1263.7,915.5 L1265.2,920.8 L1266.6,920.2 L1268.0,923.0 L1269.3,922.1 L1270.6,921.0 L1271.9,918.1 L1272.3,917.3 L1272.7,916.2 L1273.1,915.1 L1273.5,913.9 L1273.9,912.7 L1274.3,911.5 L1274.7,910.3 L1275.1,909.1 L1275.5,907.9 L1275.9,906.7 L1276.3,905.5 L1276.7,904.4 L1277.1,903.3 L1278.4,900.3 L1279.4,898.8 L1280.7,896.1 L1282.0,896.0 L1283.4,889.8 L1284.7,892.8 L1286.0,885.7 L1287.2,893.3 L1288.5,887.8 L1289.8,896.3 L1291.0,891.9 L1292.2,898.4 L1293.4,893.5 L1294.7,900.0 L1296.0,894.6 L1297.3,892.1 L1298.5,890.0 L1299.6,889.3 L1300.6,890.6 L1300.9,891.2 L1301.1,891.9 L1301.3,892.8 L1301.4,893.7 L1301.6,894.6 L1301.8,895.7 L1301.9,896.8 L1302.1,898.0 L1302.2,899.2 L1302.4,900.5 L1302.5,901.8 L1302.7,903.1 L1302.8,904.4 L1303.0,905.7 L1303.2,907.1 L1303.3,908.4 L1303.5,909.7 L1303.7,911.0 L1303.9,912.3 L1304.1,913.5 L1304.3,914.7 L1304.5,915.9 L1304.7,917.0 L1305.0,918.0 L1305.3,918.9 L1305.6,919.7 L1307.0,922.8 L1308.3,925.0 L1309.6,927.1 L1311.0,927.0 L1312.3,930.2 L1313.6,930.9 L1315.0,930.4 L1316.1,928.5 L1316.4,927.6 L1316.7,926.6 L1317.0,925.5 L1317.3,924.3 L1317.6,923.1 L1317.9,921.8 L1318.2,920.5 L1318.6,919.2 L1318.9,917.9 L1319.2,916.6 L1319.5,915.4 L1319.8,914.1 L1320.2,913.0 L1320.5,911.9 L1320.9,910.9 L1322.1,908.5 L1323.5,907.2 L1324.5,906.5 L1325.6,906.5 L1326.7,905.1 L1327.8,905.7 L1329.3,906.3 L1330.5,907.9 L1331.6,910.4 L1332.0,911.3 L1332.3,912.4 L1332.7,913.4 L1333.0,914.6 L1333.3,915.7 L1333.6,916.9 L1334.0,918.1 L1334.3,919.3 L1334.7,920.4 L1335.0,921.6 L1335.4,922.7 L1335.8,923.8 L1337.0,926.7 L1338.4,929.7 L1339.9,932.8 L1341.4,935.0 L1342.5,941.1 L1343.6,938.6 L1344.8,944.2 L1346.1,939.9 L1347.5,947.1 L1349.3,937.7 L1351.2,953.5 L1352.2,940.1 L1353.2,951.4 L1354.3,938.6 L1355.4,950.4 L1356.4,939.0 L1357.5,947.1 L1358.7,938.0 L1359.8,946.7 L1360.9,941.3 L1362.0,948.2 L1363.9,938.2 L1365.8,943.1 L1367.7,937.4 L1369.7,947.3 L1370.7,936.0 L1371.7,945.4 L1372.7,937.2 L1373.7,946.2 L1374.7,937.6 L1375.8,944.3 L1376.8,935.1 L1377.8,945.8 L1378.8,934.8 L1379.8,940.5 L1380.8,933.4 L1382.8,943.6 L1384.7,934.5 L1386.6,937.3 L1388.4,928.4 L1390.3,935.8 L1392.1,929.6 L1394.0,935.5 L1395.9,928.9 L1397.8,932.8 L1399.7,927.9 L1401.6,932.0 L1403.6,923.1 L1405.5,934.2 L1407.4,923.1 L1409.4,933.2 L1411.4,923.4 L1413.4,929.8 L1414.4,921.1 L1415.4,933.2 L1416.4,923.9 L1417.4,930.2 L1418.4,924.6 L1419.4,930.8 L1420.5,922.5 L1421.5,934.5 L1422.5,924.9 L1423.6,929.8 L1424.6,922.9 L1425.6,930.8 L1426.7,925.5 L1427.7,932.2 L1429.7,921.4 L1430.7,931.4 L1431.7,925.9 L1432.7,933.6 L1433.7,922.4 L1434.8,930.9 L1435.8,925.3 L1436.8,933.2 L1437.9,925.9 L1438.9,932.5 L1439.9,923.9 L1441.0,931.2 L1442.0,923.3 L1443.0,935.1 L1444.1,922.2 L1445.1,934.2 L1446.2,926.3 L1447.2,935.3 L1448.2,924.0 L1449.3,932.2 L1450.3,922.5 L1451.4,931.6 L1452.4,923.0 L1453.4,932.5 L1454.5,922.5 L1455.5,931.0 L1456.5,925.8 L1457.6,936.1 L1458.6,927.1 L1459.7,932.4 L1460.7,922.7 L1461.8,935.9 L1462.8,926.2 L1463.9,934.1 L1465.0,925.8 L1466.0,933.0 L1467.1,923.0 L1468.1,935.8 L1469.2,926.7 L1470.3,932.4 L1471.3,923.3 L1472.4,934.5 L1473.4,925.8 L1474.4,936.3 L1475.4,926.6 L1476.5,932.6 L1477.5,926.4 L1479.4,931.9 L1481.3,925.6 L1483.2,934.4 L1484.3,925.9 L1485.3,940.0 L1486.4,922.3 L1487.4,931.0 L1488.4,925.7 L1490.4,932.1 L1492.3,923.4 L1494.2,930.5 L1496.0,921.4 L1497.9,929.0 L1499.8,921.3 L1501.7,927.5 L1503.6,918.0 L1505.4,925.3 L1507.3,912.5 L1509.2,924.2 L1511.0,914.7 L1512.9,920.7 L1514.7,914.7 L1516.5,918.7 L1518.4,911.9 L1520.2,918.6 L1521.9,906.8 L1523.6,918.8 L1525.3,907.1 L1527.0,915.5 L1528.6,902.9 L1530.3,914.5 L1532.0,900.0 L1533.6,907.4 L1535.3,901.9 L1537.0,909.1 L1538.7,895.4 L1540.5,903.8 L1542.4,898.0 L1544.2,905.7 L1546.1,892.6 L1548.0,902.1 L1549.8,892.6 L1551.7,902.1 L1553.5,889.4 L1555.4,899.5 L1557.2,887.7 L1558.9,893.6 L1560.6,884.2 L1562.4,892.2 L1564.1,885.3 L1565.8,890.8 L1567.6,881.2 L1569.3,887.9 L1570.9,877.6 L1572.6,885.5 L1574.2,874.4 L1575.7,884.7 L1577.4,871.7 L1579.1,880.0 L1580.8,872.2 L1582.5,878.1 L1584.1,868.1 L1585.6,876.1 L1587.0,866.9 L1588.4,871.3 L1589.6,864.7 L1590.9,867.8 L1592.0,861.9 L1593.4,861.4 L1594.7,858.1 L1596.0,855.0 L1596.7,853.3 L1597.0,852.4 L1597.4,851.5 L1597.7,850.6 L1598.0,849.7 L1598.4,848.8 L1598.7,847.8 L1599.0,846.9 L1599.3,845.9 L1599.6,844.9 L1599.9,843.9 L1600.2,842.9 L1600.5,841.9 L1600.8,840.8 L1601.1,839.8 L1601.4,838.7 L1601.6,837.6 L1601.9,836.5 L1602.2,835.4 L1602.4,834.5 L1602.6,833.7 L1602.8,832.8 L1603.0,831.9 L1603.2,830.9 L1603.3,830.0 L1603.5,829.1 L1603.7,828.1 L1603.9,827.1 L1604.0,826.1 L1604.2,825.1 L1604.4,824.1 L1604.5,823.1 L1604.7,822.1 L1604.9,821.1 L1605.0,820.1 L1605.2,819.0 L1605.3,818.0 L1605.5,816.9 L1605.6,815.9 L1605.8,814.8 L1605.9,813.8 L1606.1,812.7 L1606.3,811.7 L1606.4,810.6 L1606.6,809.6 L1606.7,808.5 L1606.9,807.5 L1607.1,806.4 L1607.2,805.4 L1607.4,804.4 L1607.6,803.3 L1607.7,802.3 L1607.9,801.3 L1608.1,800.3 L1608.3,799.3 L1608.5,798.3 L1608.7,797.2 L1608.9,796.2 L1609.1,795.1 L1609.3,794.1 L1609.5,793.0 L1609.7,791.9 L1609.9,790.8 L1610.1,789.7 L1610.3,788.7 L1610.5,787.6 L1610.7,786.5 L1610.9,785.4 L1611.1,784.3 L1611.3,783.2 L1611.5,782.2 L1611.8,781.1 L1612.0,780.0 L1612.2,779.0 L1612.4,777.9 L1612.6,776.9 L1612.8,775.9 L1613.0,774.9 L1613.2,773.9 L1613.4,772.9 L1613.6,772.0 L1613.8,771.0 L1614.0,770.1 L1614.2,769.2 L1614.4,768.4 L1614.6,767.5 L1614.7,766.7 L1614.9,765.9 L1615.1,765.1 L1615.4,763.9 L1615.7,762.7 L1615.9,761.5 L1616.2,760.4 L1616.4,759.3 L1616.7,758.2 L1616.9,757.2 L1617.2,756.3 L1617.4,755.3 L1617.7,754.4 L1618.0,753.6 L1618.2,752.8 L1618.5,752.0 L1619.0,750.7 L1619.5,749.3 L1620.5,747.3 L1621.6,747.3 L1622.7,749.3 L1623.8,752.0 L1624.1,752.8 L1624.3,753.6 L1624.6,754.4 L1624.8,755.3 L1625.1,756.3 L1625.3,757.2 L1625.5,758.2 L1625.7,759.3 L1625.9,760.4 L1626.1,761.5 L1626.4,762.7 L1626.6,763.9 L1626.8,765.1 L1626.9,765.9 L1627.1,766.7 L1627.2,767.5 L1627.3,768.4 L1627.5,769.2 L1627.6,770.1 L1627.8,771.0 L1627.9,772.0 L1628.0,772.9 L1628.2,773.9 L1628.3,774.9 L1628.4,775.9 L1628.6,776.9 L1628.7,777.9 L1628.8,779.0 L1629.0,780.0 L1629.1,781.1 L1629.2,782.2 L1629.4,783.2 L1629.5,784.3 L1629.6,785.4 L1629.8,786.5 L1629.9,787.6 L1630.0,788.7 L1630.2,789.7 L1630.3,790.8 L1630.4,791.9 L1630.6,793.0 L1630.7,794.1 L1630.8,795.1 L1631.0,796.2 L1631.1,797.2 L1631.2,798.3 L1631.4,799.3 L1631.5,800.3 L1631.6,801.3 L1631.8,802.3 L1631.9,803.3 L1632.0,804.3 L1632.2,805.3 L1632.3,806.3 L1632.4,807.3 L1632.6,808.3 L1632.7,809.3 L1632.8,810.3 L1633.0,811.3 L1633.1,812.3 L1633.2,813.3 L1633.4,814.3 L1633.5,815.3 L1633.6,816.3 L1633.8,817.4 L1633.9,818.4 L1634.1,819.4 L1634.2,820.4 L1634.3,821.4 L1634.5,822.4 L1634.6,823.4 L1634.7,824.4 L1634.9,825.4 L1635.0,826.4 L1635.1,827.4 L1635.3,828.4 L1635.4,829.4 L1635.5,830.4 L1635.7,831.4 L1635.8,832.4 L1635.9,833.4 L1636.1,834.4 L1636.2,835.4 L1636.3,836.4 L1636.5,837.4 L1636.6,838.4 L1636.7,839.5 L1636.8,840.5 L1637.0,841.5 L1637.1,842.5 L1637.2,843.6 L1637.3,844.6 L1637.4,845.6 L1637.5,846.7 L1637.7,847.7 L1637.8,848.8 L1637.9,849.8 L1638.0,850.8 L1638.1,851.9 L1638.2,852.9 L1638.4,853.9 L1638.5,855.0 L1638.6,856.0 L1638.7,857.0 L1638.9,858.0 L1639.0,859.0 L1639.1,860.0 L1639.3,861.0 L1639.4,862.0 L1639.6,863.0 L1639.7,864.0 L1639.9,864.9 L1640.0,865.9 L1640.2,866.8 L1640.4,867.8 L1640.5,868.7 L1640.7,869.6 L1640.9,870.5 L1641.1,871.6 L1641.4,872.7 L1641.6,873.7 L1641.9,874.8 L1642.1,875.8 L1642.4,876.8 L1642.7,877.8 L1642.9,878.9 L1643.2,879.9 L1643.5,880.8 L1643.8,881.8 L1644.1,882.8 L1644.4,883.8 L1644.7,884.7 L1645.0,885.7 L1645.3,886.6 L1645.6,887.6 L1645.9,888.5 L1646.2,889.4 L1646.5,890.4 L1646.9,891.3 L1647.2,892.2 L1647.6,893.1 L1647.9,894.0 L1648.3,895.0 L1648.7,896.1 L1649.1,897.1 L1650.3,900.5 L1651.6,902.4 L1653.0,907.7 L1654.4,908.0 L1655.5,912.2 L1656.5,909.2 L1657.8,915.6 L1659.1,912.2 L1660.4,921.7 L1661.9,915.4 L1663.3,924.2 L1664.7,916.7 L1666.2,929.1 L1667.9,921.5 L1669.7,932.0 L1671.5,924.3 L1673.3,933.5 L1675.1,923.5 L1676.6,934.4 L1678.0,925.6 L1679.4,930.8 L1680.8,922.2 L1682.1,923.6 L1683.4,920.7 L1684.5,918.6 L1685.6,916.6 L1686.8,913.8 L1687.2,912.9 L1687.5,911.8 L1687.9,910.8 L1688.2,909.8 L1688.5,908.8 L1688.7,907.7 L1689.0,906.7 L1689.3,905.7 L1689.6,904.7 L1689.8,903.7 L1690.1,902.7 L1690.4,901.8 L1690.7,900.9 L1691.0,900.0 L1691.4,898.8 L1691.9,897.5 L1692.3,896.2 L1692.7,894.8 L1693.2,893.6 L1694.5,890.7 L1695.7,890.2 L1696.9,892.5 L1697.2,893.7 L1697.6,895.0 L1698.0,896.3 L1698.3,897.6 L1698.7,898.9 L1699.0,900.0 L1699.3,900.9 L1699.5,901.9 L1699.7,902.9 L1699.9,903.9 L1700.1,904.9 L1700.3,905.9 L1700.4,906.9 L1700.7,907.9 L1700.9,908.9 L1701.1,909.9 L1701.5,910.8 L1701.8,911.8 L1702.2,912.8 L1702.6,913.9 L1703.0,915.0 L1704.4,918.4 L1705.5,920.4 L1706.8,923.1 L1708.3,921.3 L1709.9,926.7 L1711.7,919.8 L1713.7,926.0 L1714.7,915.2 L1715.7,927.7 L1716.8,917.0 L1717.9,925.8 L1719.0,916.0 L1720.1,924.4 L1721.2,909.9 L1723.1,921.8 L1725.0,914.8 L1727.0,925.4 L1728.0,912.8 L1729.1,921.8 L1730.1,913.1 L1731.2,925.1 L1732.2,916.6 L1733.3,922.4 L1734.3,914.8 L1735.4,923.3 L1736.4,913.3 L1737.5,923.6 L1738.5,915.8 L1739.6,924.4 L1740.6,913.0 L1741.6,925.6 L1742.7,917.1 L1743.8,925.9 L1744.8,916.9 L1745.9,924.2 L1747.0,914.8 L1748.1,924.7 L1749.2,912.6 L1750.3,924.2 L1751.4,914.2 L1752.4,921.6 L1753.5,913.3 L1754.5,924.0 L1755.5,914.1 L1757.4,923.5 L1759.2,912.3 L1761.2,923.2 L1762.3,915.3 L1763.3,921.8 L1765.2,913.7 L1767.1,921.5 L1768.1,917.3 L1769.7,922.8 L1771.4,913.6 L1773.1,921.5 L1774.8,909.4 L1776.4,918.8 L1777.9,910.9 L1779.3,911.6 L1780.5,907.6 L1781.6,908.2 L1783.1,904.8 L1784.4,902.0 L1785.2,900.0 L1785.6,898.9 L1786.0,897.8 L1786.4,896.7 L1786.7,895.9 L1787.0,895.0 L1787.3,894.2 L1787.5,893.3 L1787.8,892.4 L1788.0,891.5 L1788.3,890.6 L1788.6,889.6 L1788.8,888.7 L1789.0,887.7 L1789.3,886.7 L1789.5,885.7 L1789.7,884.7 L1789.9,883.7 L1790.2,882.7 L1790.4,881.6 L1790.6,880.6 L1790.8,879.5 L1791.0,878.4 L1791.2,877.4 L1791.4,876.3 L1791.6,875.2 L1791.8,874.1 L1792.0,873.0 L1792.2,871.9 L1792.3,870.8 L1792.5,869.7 L1792.7,868.6 L1792.8,867.7 L1793.0,866.8 L1793.1,865.9 L1793.3,864.9 L1793.4,864.0 L1793.5,863.0 L1793.6,862.1 L1793.8,861.1 L1793.9,860.1 L1794.0,859.2 L1794.1,858.2 L1794.2,857.2 L1794.3,856.2 L1794.4,855.2 L1794.5,854.2 L1794.6,853.2 L1794.7,852.2 L1794.8,851.1 L1794.9,850.1 L1795.0,849.1 L1795.1,848.1 L1795.2,847.0 L1795.3,846.0 L1795.4,845.0 L1795.5,843.9 L1795.6,842.9 L1795.7,841.8 L1795.7,840.8 L1795.8,839.8 L1795.9,838.7 L1796.0,837.7 L1796.1,836.6 L1796.2,835.6 L1796.2,834.6 L1796.3,833.5 L1796.4,832.5 L1796.5,831.5 L1796.6,830.5 L1796.7,829.4 L1796.7,828.4 L1796.8,827.4 L1796.9,826.4 L1797.0,825.4 L1797.1,824.4 L1797.1,823.4 L1797.2,822.4 L1797.3,821.4 L1797.4,820.4 L1797.5,819.4 L1797.5,818.4 L1797.6,817.4 L1797.7,816.4 L1797.8,815.4 L1797.8,814.4 L1797.9,813.4 L1798.0,812.4 L1798.1,811.4 L1798.1,810.4 L1798.2,809.4 L1798.3,808.4 L1798.3,807.4 L1798.4,806.4 L1798.5,805.4 L1798.5,804.4 L1798.6,803.4 L1798.7,802.3 L1798.7,801.3 L1798.8,800.3 L1798.9,799.3 L1798.9,798.3 L1799.0,797.3 L1799.0,796.3 L1799.1,795.3 L1799.2,794.3 L1799.2,793.3 L1799.3,792.3 L1799.3,791.3 L1799.4,790.3 L1799.4,789.3 L1799.5,788.3 L1799.5,787.3 L1799.6,786.3 L1799.6,785.3 L1799.7,784.3 L1799.7,783.3 L1799.8,782.3 L1799.8,781.3 L1799.9,780.3 L1799.9,779.3 L1800.0,778.3 L1800.0,777.3 L1800.1,776.3 L1800.1,775.3 L1800.1,774.3 L1800.2,773.3 L1800.2,772.2 L1800.2,771.2 L1800.3,770.2 L1800.3,769.2 L1800.3,768.2 L1800.4,767.2 L1800.4,766.2 L1800.4,765.2 L1800.5,764.2 L1800.5,763.2 L1800.5,762.2 L1800.5,761.2 L1800.6,760.2 L1800.6,759.2 L1800.6,758.2 L1800.7,757.2 L1800.7,756.2 L1800.7,755.2 L1800.7,754.2 L1800.8,753.2 L1800.8,752.1 L1800.8,751.1 L1800.9,750.1 L1800.9,749.1 L1800.9,748.1 L1800.9,747.1 L1801.0,746.1 L1801.0,745.1 L1801.0,744.1 L1801.1,743.1 L1801.1,742.1 L1801.1,741.1 L1801.2,740.1 L1801.2,739.1 L1801.2,738.1 L1801.3,737.1 L1801.3,736.1 L1801.3,735.1 L1801.4,734.2 L1801.4,733.2 L1801.4,732.2 L1801.5,731.2 L1801.5,730.2 L1801.5,729.2 L1801.6,728.2 L1801.6,727.3 L1801.6,726.3 L1801.7,725.3 L1801.7,724.3 L1801.7,723.3 L1801.8,722.3 L1801.8,721.4 L1801.8,720.4 L1801.9,719.4 L1801.9,718.4 L1801.9,717.4 L1802.0,716.4 L1802.0,715.4 L1802.0,714.4 L1802.1,713.4 L1802.1,712.4 L1802.1,711.4 L1802.2,710.4 L1802.2,709.4 L1802.2,708.3 L1802.3,707.3 L1802.3,706.3 L1802.3,705.2 L1802.4,704.2 L1802.4,703.2 L1802.4,702.1 L1802.5,701.1 L1802.5,700.0 L1802.5,699.1 L1802.6,698.1 L1802.6,697.2 L1802.6,696.2 L1802.6,695.3 L1802.7,694.3 L1802.7,693.4 L1802.7,692.4 L1802.8,691.5 L1802.8,690.6 L1802.8,689.6 L1802.9,688.7 L1802.9,687.7 L1802.9,686.8 L1802.9,685.8 L1803.0,684.9 L1803.0,683.9 L1803.0,683.0 L1803.1,682.0 L1803.1,681.1 L1803.1,680.1 L1803.1,679.2 L1803.2,678.2 L1803.2,677.2 L1803.2,676.2 L1803.3,675.3 L1803.3,674.3 L1803.3,673.3 L1803.4,672.3 L1803.4,671.3 L1803.4,670.3 L1803.4,669.3 L1803.5,668.3 L1803.5,667.3 L1803.5,666.2 L1803.6,665.2 L1803.6,664.2 L1803.6,663.1 L1803.7,662.1 L1803.7,661.0 L1803.7,660.0 L1803.7,658.9 L1803.8,657.8 L1803.8,656.7 L1803.8,655.6 L1803.9,654.5 L1803.9,653.4 L1803.9,652.3 L1804.0,651.1 L1804.0,650.0 L1804.0,648.8 L1804.1,647.7 L1804.1,646.5 L1804.1,645.7 L1804.1,644.8 L1804.2,644.0 L1804.2,643.1 L1804.2,642.2 L1804.2,641.4 L1804.3,640.5 L1804.3,639.6 L1804.3,638.7 L1804.3,637.8 L1804.4,636.9 L1804.4,636.0 L1804.4,635.1 L1804.4,634.2 L1804.5,633.3 L1804.5,632.4 L1804.5,631.4 L1804.5,630.5 L1804.6,629.6 L1804.6,628.6 L1804.6,627.7 L1804.6,626.7 L1804.7,625.8 L1804.7,624.8 L1804.7,623.8 L1804.8,622.9 L1804.8,621.9 L1804.8,620.9 L1804.8,619.9 L1804.9,618.9 L1804.9,618.0 L1804.9,617.0 L1804.9,616.0 L1805.0,615.0 L1805.0,614.0 L1805.0,613.0 L1805.1,611.9 L1805.1,610.9 L1805.1,609.9 L1805.1,608.9 L1805.2,607.9 L1805.2,606.9 L1805.2,605.8 L1805.2,604.8 L1805.3,603.8 L1805.3,602.7 L1805.3,601.7 L1805.4,600.7 L1805.4,599.6 L1805.4,598.6 L1805.4,597.5 L1805.5,596.5 L1805.5,595.4 L1805.5,594.4 L1805.5,593.3 L1805.6,592.3 L1805.6,591.2 L1805.6,590.2 L1805.7,589.1 L1805.7,588.1 L1805.7,587.0 L1805.7,586.0 L1805.8,584.9 L1805.8,583.8 L1805.8,582.8 L1805.9,581.7 L1805.9,580.7 L1805.9,579.6 L1805.9,578.5 L1806.0,577.5 L1806.0,576.4 L1806.0,575.4 L1806.0,574.3 L1806.1,573.2 L1806.1,572.2 L1806.1,571.1 L1806.2,570.1 L1806.2,569.0 L1806.2,567.9 L1806.2,566.9 L1806.3,565.8 L1806.3,564.8 L1806.3,563.7 L1806.3,562.7 L1806.4,561.6 L1806.4,560.6 L1806.4,559.5 L1806.5,558.5 L1806.5,557.4 L1806.5,556.4 L1806.5,555.3 L1806.6,554.3 L1806.6,553.3 L1806.6,552.2 L1806.6,551.2 L1806.7,550.2 L1806.7,549.1 L1806.7,548.1 L1806.7,547.1 L1806.8,546.1 L1806.8,545.0 L1806.8,544.0 L1806.8,543.0 L1806.9,542.0 L1806.9,541.0 L1806.9,540.0 L1807.0,539.0 L1807.0,538.0 L1807.0,537.0 L1807.0,535.9 L1807.1,534.9 L1807.1,533.9 L1807.1,532.9 L1807.1,531.8 L1807.2,530.8 L1807.2,529.8 L1807.2,528.7 L1807.2,527.7 L1807.3,526.6 L1807.3,525.6 L1807.3,524.5 L1807.3,523.5 L1807.4,522.4 L1807.4,521.4 L1807.4,520.3 L1807.4,519.3 L1807.5,518.2 L1807.5,517.2 L1807.5,516.1 L1807.5,515.1 L1807.5,514.0 L1807.6,512.9 L1807.6,511.9 L1807.6,510.8 L1807.6,509.7 L1807.7,508.7 L1807.7,507.6 L1807.7,506.5 L1807.7,505.5 L1807.8,504.4 L1807.8,503.3 L1807.8,502.3 L1807.8,501.2 L1807.9,500.1 L1807.9,499.1 L1807.9,498.0 L1807.9,497.0 L1808.0,495.9 L1808.0,494.8 L1808.0,493.8 L1808.0,492.7 L1808.1,491.6 L1808.1,490.6 L1808.1,489.5 L1808.1,488.5 L1808.2,487.4 L1808.2,486.4 L1808.2,485.3 L1808.2,484.3 L1808.3,483.2 L1808.3,482.2 L1808.3,481.1 L1808.3,480.1 L1808.3,479.1 L1808.4,478.0 L1808.4,477.0 L1808.4,476.0 L1808.4,474.9 L1808.5,473.9 L1808.5,472.9 L1808.5,471.9 L1808.5,470.8 L1808.6,469.8 L1808.6,468.8 L1808.6,467.8 L1808.6,466.8 L1808.7,465.8 L1808.7,464.8 L1808.7,463.8 L1808.7,462.8 L1808.7,461.9 L1808.8,460.9 L1808.8,459.9 L1808.8,458.9 L1808.8,458.0 L1808.9,457.0 L1808.9,456.0 L1808.9,455.1 L1808.9,454.1 L1809.0,453.2 L1809.0,452.3 L1809.0,451.3 L1809.0,450.4 L1809.0,449.5 L1809.1,448.6 L1809.1,447.6 L1809.1,446.7 L1809.1,445.8 L1809.2,444.9 L1809.2,444.0 L1809.2,443.2 L1809.2,442.3 L1809.2,441.4 L1809.3,440.6 L1809.3,439.7 L1809.3,438.8 L1809.3,438.0 L1809.4,437.2 L1809.4,436.3 L1809.4,435.5 L1809.4,434.3 L1809.5,433.1 L1809.5,432.0 L1809.5,430.8 L1809.6,429.7 L1809.6,428.6 L1809.6,427.4 L1809.6,426.3 L1809.7,425.2 L1809.7,424.1 L1809.7,423.1 L1809.8,422.0 L1809.8,420.9 L1809.8,419.9 L1809.8,418.8 L1809.9,417.8 L1809.9,416.8 L1809.9,415.7 L1809.9,414.7 L1810.0,413.7 L1810.0,412.7 L1810.0,411.7 L1810.1,410.7 L1810.1,409.7 L1810.1,408.8 L1810.1,407.8 L1810.2,406.8 L1810.2,405.9 L1810.2,404.9 L1810.3,403.9 L1810.3,403.0 L1810.3,402.0 L1810.3,401.1 L1810.4,400.1 L1810.4,399.2 L1810.4,398.2 L1810.5,397.3 L1810.5,396.4 L1810.5,395.4 L1810.6,394.5 L1810.6,393.5 L1810.6,392.6 L1810.7,391.6 L1810.7,390.7 L1810.7,389.8 L1810.8,388.8 L1810.8,387.9 L1810.8,386.9 L1810.9,386.0 L1810.9,385.0 L1810.9,383.9 L1811.0,382.8 L1811.0,381.7 L1811.1,380.5 L1811.1,379.3 L1811.2,378.0 L1811.2,376.8 L1811.2,375.5 L1811.3,374.2 L1811.3,372.9 L1811.4,371.5 L1811.4,370.2 L1811.5,368.9 L1811.5,367.5 L1811.6,366.2 L1811.6,364.9 L1811.7,363.6 L1811.7,362.3 L1811.8,361.0 L1811.8,359.7 L1811.9,358.5 L1811.9,357.3 L1812.0,356.1 L1812.0,355.0 L1812.1,353.9 L1812.1,352.8 L1812.2,351.8 L1812.2,350.8 L1812.3,349.9 L1812.3,349.0 L1812.4,348.2 L1812.4,347.4 L1812.5,346.8 L1812.5,346.1 L1812.6,345.6 L1812.6,345.1 L1812.7,344.7 L1812.7,344.4 L1812.8,344.2 L1813.0,344.2 L1813.1,344.4 L1813.1,344.7 L1813.2,345.1 L1813.2,345.6 L1813.3,346.1 L1813.3,346.8 L1813.4,347.4 L1813.4,348.2 L1813.5,349.0 L1813.6,349.9 L1813.6,350.8 L1813.7,351.8 L1813.7,352.8 L1813.8,353.9 L1813.8,355.0 L1813.9,356.1 L1814.0,357.3 L1814.0,358.5 L1814.1,359.7 L1814.1,361.0 L1814.2,362.3 L1814.2,363.6 L1814.3,364.9 L1814.4,366.2 L1814.4,367.5 L1814.5,368.9 L1814.5,370.2 L1814.6,371.5 L1814.6,372.9 L1814.7,374.2 L1814.8,375.5 L1814.8,376.8 L1814.9,378.0 L1814.9,379.3 L1815.0,380.5 L1815.0,381.7 L1815.1,382.8 L1815.1,383.9 L1815.2,385.0 L1815.2,386.0 L1815.3,386.9 L1815.3,387.9 L1815.4,388.8 L1815.4,389.8 L1815.5,390.7 L1815.5,391.6 L1815.6,392.6 L1815.6,393.5 L1815.7,394.5 L1815.7,395.4 L1815.8,396.4 L1815.8,397.3 L1815.9,398.2 L1815.9,399.2 L1816.0,400.1 L1816.0,401.1 L1816.1,402.0 L1816.1,403.0 L1816.2,403.9 L1816.2,404.9 L1816.3,405.9 L1816.3,406.8 L1816.4,407.8 L1816.4,408.8 L1816.5,409.7 L1816.5,410.7 L1816.6,411.7 L1816.6,412.7 L1816.7,413.7 L1816.7,414.7 L1816.8,415.7 L1816.8,416.8 L1816.8,417.8 L1816.9,418.8 L1816.9,419.9 L1817.0,420.9 L1817.0,422.0 L1817.1,423.1 L1817.1,424.1 L1817.1,425.2 L1817.2,426.3 L1817.2,427.4 L1817.3,428.6 L1817.3,429.7 L1817.3,430.8 L1817.4,432.0 L1817.4,433.1 L1817.5,434.3 L1817.5,435.5 L1817.5,436.3 L1817.6,437.2 L1817.6,438.0 L1817.6,438.8 L1817.6,439.7 L1817.6,440.6 L1817.7,441.4 L1817.7,442.3 L1817.7,443.2 L1817.7,444.0 L1817.8,444.9 L1817.8,445.8 L1817.8,446.7 L1817.8,447.6 L1817.8,448.6 L1817.9,449.5 L1817.9,450.4 L1817.9,451.3 L1817.9,452.3 L1817.9,453.2 L1818.0,454.1 L1818.0,455.1 L1818.0,456.0 L1818.0,457.0 L1818.0,458.0 L1818.1,458.9 L1818.1,459.9 L1818.1,460.9 L1818.1,461.9 L1818.1,462.8 L1818.2,463.8 L1818.2,464.8 L1818.2,465.8 L1818.2,466.8 L1818.2,467.8 L1818.2,468.8 L1818.3,469.8 L1818.3,470.8 L1818.3,471.9 L1818.3,472.9 L1818.3,473.9 L1818.3,474.9 L1818.4,476.0 L1818.4,477.0 L1818.4,478.0 L1818.4,479.1 L1818.4,480.1 L1818.4,481.1 L1818.4,482.2 L1818.5,483.2 L1818.5,484.3 L1818.5,485.3 L1818.5,486.4 L1818.5,487.4 L1818.5,488.5 L1818.5,489.5 L1818.6,490.6 L1818.6,491.6 L1818.6,492.7 L1818.6,493.8 L1818.6,494.8 L1818.6,495.9 L1818.6,497.0 L1818.7,498.0 L1818.7,499.1 L1818.7,500.1 L1818.7,501.2 L1818.7,502.3 L1818.7,503.3 L1818.7,504.4 L1818.7,505.5 L1818.8,506.5 L1818.8,507.6 L1818.8,508.7 L1818.8,509.7 L1818.8,510.8 L1818.8,511.9 L1818.8,512.9 L1818.9,514.0 L1818.9,515.1 L1818.9,516.1 L1818.9,517.2 L1818.9,518.2 L1818.9,519.3 L1818.9,520.3 L1818.9,521.4 L1819.0,522.4 L1819.0,523.5 L1819.0,524.5 L1819.0,525.6 L1819.0,526.6 L1819.0,527.7 L1819.0,528.7 L1819.0,529.8 L1819.1,530.8 L1819.1,531.8 L1819.1,532.9 L1819.1,533.9 L1819.1,534.9 L1819.1,535.9 L1819.1,537.0 L1819.2,538.0 L1819.2,539.0 L1819.2,540.0 L1819.2,541.0 L1819.2,542.0 L1819.2,543.0 L1819.2,544.0 L1819.3,545.0 L1819.3,546.1 L1819.3,547.1 L1819.3,548.1 L1819.3,549.1 L1819.3,550.2 L1819.3,551.2 L1819.4,552.2 L1819.4,553.3 L1819.4,554.3 L1819.4,555.3 L1819.4,556.4 L1819.4,557.4 L1819.4,558.5 L1819.4,559.5 L1819.5,560.6 L1819.5,561.6 L1819.5,562.7 L1819.5,563.7 L1819.5,564.8 L1819.5,565.8 L1819.5,566.9 L1819.5,567.9 L1819.6,569.0 L1819.6,570.1 L1819.6,571.1 L1819.6,572.2 L1819.6,573.2 L1819.6,574.3 L1819.6,575.4 L1819.6,576.4 L1819.7,577.5 L1819.7,578.5 L1819.7,579.6 L1819.7,580.7 L1819.7,581.7 L1819.7,582.8 L1819.7,583.8 L1819.7,584.9 L1819.8,586.0 L1819.8,587.0 L1819.8,588.1 L1819.8,589.1 L1819.8,590.2 L1819.8,591.2 L1819.8,592.3 L1819.8,593.3 L1819.8,594.4 L1819.9,595.4 L1819.9,596.5 L1819.9,597.5 L1819.9,598.6 L1819.9,599.6 L1819.9,600.7 L1819.9,601.7 L1819.9,602.7 L1820.0,603.8 L1820.0,604.8 L1820.0,605.8 L1820.0,606.9 L1820.0,607.9 L1820.0,608.9 L1820.0,609.9 L1820.0,610.9 L1820.0,611.9 L1820.1,613.0 L1820.1,614.0 L1820.1,615.0 L1820.1,616.0 L1820.1,617.0 L1820.1,618.0 L1820.1,618.9 L1820.1,619.9 L1820.2,620.9 L1820.2,621.9 L1820.2,622.9 L1820.2,623.8 L1820.2,624.8 L1820.2,625.8 L1820.2,626.7 L1820.2,627.7 L1820.3,628.6 L1820.3,629.6 L1820.3,630.5 L1820.3,631.4 L1820.3,632.4 L1820.3,633.3 L1820.3,634.2 L1820.3,635.1 L1820.3,636.0 L1820.4,636.9 L1820.4,637.8 L1820.4,638.7 L1820.4,639.6 L1820.4,640.5 L1820.4,641.4 L1820.4,642.2 L1820.4,643.1 L1820.5,644.0 L1820.5,644.8 L1820.5,645.7 L1820.5,646.5 L1820.5,647.7 L1820.5,648.8 L1820.6,650.0 L1820.6,651.1 L1820.6,652.3 L1820.6,653.4 L1820.6,654.5 L1820.6,655.6 L1820.6,656.7 L1820.7,657.8 L1820.7,658.9 L1820.7,660.0 L1820.7,661.0 L1820.7,662.1 L1820.7,663.1 L1820.8,664.2 L1820.8,665.2 L1820.8,666.2 L1820.8,667.3 L1820.8,668.3 L1820.8,669.3 L1820.8,670.3 L1820.9,671.3 L1820.9,672.3 L1820.9,673.3 L1820.9,674.3 L1820.9,675.3 L1820.9,676.2 L1820.9,677.2 L1821.0,678.2 L1821.0,679.2 L1821.0,680.1 L1821.0,681.1 L1821.0,682.0 L1821.1,683.0 L1821.1,683.9 L1821.1,684.9 L1821.1,685.8 L1821.1,686.8 L1821.2,687.7 L1821.2,688.7 L1821.2,689.6 L1821.2,690.6 L1821.2,691.5 L1821.3,692.4 L1821.3,693.4 L1821.3,694.3 L1821.3,695.3 L1821.4,696.2 L1821.4,697.2 L1821.4,698.1 L1821.5,699.1 L1821.5,700.0 L1821.5,701.1 L1821.6,702.1 L1821.6,703.2 L1821.7,704.2 L1821.7,705.2 L1821.7,706.3 L1821.8,707.3 L1821.8,708.3 L1821.9,709.4 L1821.9,710.4 L1822.0,711.4 L1822.0,712.4 L1822.1,713.4 L1822.1,714.4 L1822.2,715.4 L1822.2,716.4 L1822.3,717.4 L1822.3,718.4 L1822.4,719.4 L1822.4,720.4 L1822.5,721.4 L1822.5,722.3 L1822.6,723.3 L1822.6,724.3 L1822.7,725.3 L1822.7,726.3 L1822.8,727.3 L1822.9,728.3 L1822.9,729.2 L1823.0,730.2 L1823.0,731.2 L1823.1,732.2 L1823.1,733.2 L1823.2,734.2 L1823.2,735.1 L1823.3,736.1 L1823.3,737.1 L1823.4,738.1 L1823.4,739.1 L1823.5,740.1 L1823.5,741.1 L1823.6,742.1 L1823.6,743.1 L1823.7,744.1 L1823.7,745.1 L1823.8,746.1 L1823.8,747.1 L1823.9,748.1 L1823.9,749.1 L1824.0,750.1 L1824.0,751.1 L1824.1,752.1 L1824.1,753.2 L1824.1,754.2 L1824.2,755.2 L1824.2,756.2 L1824.3,757.2 L1824.3,758.2 L1824.3,759.2 L1824.4,760.2 L1824.4,761.2 L1824.5,762.2 L1824.5,763.2 L1824.6,764.2 L1824.6,765.2 L1824.7,766.2 L1824.7,767.2 L1824.7,768.2 L1824.8,769.2 L1824.8,770.2 L1824.9,771.2 L1824.9,772.3 L1825.0,773.3 L1825.1,774.3 L1825.1,775.3 L1825.2,776.3 L1825.2,777.3 L1825.3,778.3 L1825.4,779.3 L1825.4,780.3 L1825.5,781.3 L1825.6,782.3 L1825.6,783.3 L1825.7,784.3 L1825.8,785.3 L1825.9,786.3 L1825.9,787.3 L1826.0,788.3 L1826.1,789.3 L1826.2,790.3 L1826.2,791.3 L1826.3,792.3 L1826.4,793.3 L1826.5,794.3 L1826.6,795.3 L1826.7,796.3 L1826.8,797.3 L1826.8,798.3 L1826.9,799.4 L1827.0,800.4 L1827.1,801.4 L1827.2,802.4 L1827.3,803.4 L1827.4,804.4 L1827.5,805.4 L1827.6,806.4 L1827.7,807.4 L1827.8,808.4 L1827.9,809.4 L1828.0,810.4 L1828.1,811.4 L1828.2,812.4 L1828.3,813.4 L1828.4,814.4 L1828.6,815.4 L1828.7,816.4 L1828.8,817.4 L1828.9,818.4 L1829.0,819.4 L1829.1,820.4 L1829.3,821.4 L1829.4,822.4 L1829.5,823.4 L1829.6,824.4 L1829.8,825.4 L1829.9,826.4 L1830.0,827.4 L1830.2,828.4 L1830.3,829.4 L1830.4,830.5 L1830.6,831.5 L1830.7,832.5 L1830.8,833.5 L1831.0,834.6 L1831.1,835.6 L1831.3,836.7 L1831.4,837.7 L1831.5,838.7 L1831.7,839.8 L1831.8,840.8 L1832.0,841.9 L1832.1,842.9 L1832.3,843.9 L1832.4,845.0 L1832.6,846.0 L1832.7,847.1 L1832.9,848.1 L1833.1,849.1 L1833.2,850.1 L1833.4,851.2 L1833.6,852.2 L1833.7,853.2 L1833.9,854.2 L1834.1,855.2 L1834.3,856.2 L1834.4,857.2 L1834.6,858.2 L1834.8,859.2 L1835.0,860.2 L1835.2,861.1 L1835.4,862.1 L1835.6,863.1 L1835.8,864.0 L1836.0,864.9 L1836.2,865.9 L1836.4,866.8 L1836.7,867.7 L1836.9,868.6 L1837.2,869.7 L1837.5,870.8 L1837.7,871.8 L1838.0,872.9 L1838.3,874.0 L1838.6,875.0 L1838.9,876.1 L1839.1,877.2 L1839.4,878.2 L1839.7,879.2 L1840.0,880.3 L1840.3,881.3 L1840.6,882.3 L1841.0,883.3 L1841.3,884.3 L1841.6,885.3 L1841.9,886.3 L1842.3,887.2 L1842.6,888.2 L1843.8,890.9 L1845.0,893.5 L1846.3,895.3 L1847.4,898.1 L1848.7,898.2 L1850.0,902.8 L1851.4,898.2 L1852.8,909.9 L1854.3,899.1 L1855.9,909.6 L1857.5,904.2 L1859.1,911.4 L1860.8,906.0 L1862.4,918.0 L1864.1,908.9 L1865.8,917.7 L1867.6,910.8 L1869.4,919.2 L1871.2,914.1 L1873.1,920.3 L1875.0,914.2 L1876.8,923.8 L1878.7,918.4 L1880.5,923.9 L1882.3,917.1 L1884.0,930.1 L1885.7,920.0 L1887.4,931.0 L1889.1,925.1 L1890.9,931.4 L1892.7,921.1 L1894.6,934.3 L1895.6,926.1 L1896.7,936.2 L1897.7,927.3 L1898.9,936.5 L1900.0,926.5 L1901.6,933.1 L1903.2,927.2 L1904.9,933.7 L1906.6,929.9 L1908.4,935.2 L1910.3,926.4 L1912.2,937.0 L1914.2,929.7 L1916.2,935.6 L1917.2,928.5 L1918.2,940.2 L1919.3,931.5 L1920.3,935.6 L1921.4,928.4 L1922.4,939.0 L1923.5,928.0 L1924.5,937.9 L1925.6,931.7 L1926.7,937.2 L1927.7,931.0 L1928.8,939.1 L1929.9,932.0 L1931.0,940.1 L1932.1,929.5 L1933.1,938.7 L1934.2,930.0 L1935.3,939.5 L1936.4,929.8 L1937.5,939.6 L1938.5,931.1 L1939.6,941.8 L1940.7,929.4 L1941.7,940.9 L1942.8,930.6 L1943.8,938.3 L1944.9,932.0 L1945.9,940.6 L1947.0,931.7 L1948.0,942.8 L1949.0,930.0 L1950.0,941.5 L1952.0,930.5 L1954.0,938.4 L1955.9,931.4 L1957.9,940.6 L1959.8,933.5 L1961.8,942.0 L1963.7,934.0 L1965.6,940.4 L1967.6,931.2 L1969.5,942.4 L1971.5,933.5 L1973.4,938.9 L1975.4,934.1 L1977.3,941.1 L1979.3,931.9 L1981.3,943.5 L1983.3,938.5 L1984.3,939.2 L1985.3,931.4 L1986.3,940.6 L1987.3,933.3 L1988.3,943.6 L1989.4,931.8 L1990.4,940.3 L1991.4,931.7 L1992.5,941.2 L1993.5,934.1 L1994.6,942.8 L1995.7,933.9 L1996.7,939.1 L1997.8,932.2 L1998.9,944.1 L2000.0,930.4 L2001.8,939.5 L2003.7,934.5 L2005.5,939.4 L2007.4,934.8 L2009.3,940.3 L2011.3,933.2 L2013.2,941.2 L2015.2,933.8 L2017.2,943.7 L2018.2,934.8 L2019.2,940.9 L2020.2,931.5 L2021.2,941.1 L2022.2,931.3 L2023.3,941.2 L2024.3,934.7 L2025.3,940.1 L2026.3,932.7 L2027.4,942.1 L2028.4,935.0 L2029.4,944.3 L2030.4,934.8 L2031.5,940.7 L2032.5,932.9 L2033.6,942.7 L2034.6,931.1 L2035.6,941.6 L2036.7,932.1 L2037.7,940.2 L2038.7,931.3 L2039.8,944.0 L2040.8,936.1 L2041.9,944.6 L2042.9,934.8 L2044.0,942.3 L2045.0,932.0 L2046.0,943.7 L2047.1,932.9 L2048.1,942.6 L2049.1,934.9 L2050.2,944.8 L2051.2,936.0 L2052.2,942.7 L2053.3,934.8 L2054.3,941.8 L2055.3,935.1 L2056.3,941.7 L2057.3,935.6 L2058.3,940.8 L2059.4,933.8 L2060.4,942.9 L2061.4,934.9 L2063.4,944.8 L2065.3,934.3 L2067.3,943.0 L2069.2,931.2 L2071.2,932.9 L2073.1,934.8 L2075.1,943.9 L2076.1,936.1 L2077.2,940.0 L2078.3,935.3 L2079.3,943.9 L2080.4,934.4 L2081.5,943.0 L2082.6,934.5 L2083.6,941.8 L2084.7,932.1 L2085.8,943.7 L2086.9,934.2 L2087.9,939.4 L2089.0,930.5 L2090.1,940.9 L2091.2,929.9 L2092.2,939.6 L2093.3,932.1 L2094.4,940.0 L2095.4,933.3 L2096.5,941.1 L2097.6,931.8 L2098.6,944.4 L2099.7,929.6 L2100.7,939.2 L2101.8,929.8 L2102.8,937.3 L2103.8,931.2 L2104.9,937.4 L2105.9,932.0 L2106.9,939.5 L2108.0,928.7 L2109.0,936.9 L2110.0,932.5 L2111.0,940.9 L2113.0,929.0 L2115.0,936.9 L2116.9,930.0 L2118.8,935.3 L2120.7,929.2 L2122.5,939.1 L2124.3,927.9 L2126.1,936.7 L2127.8,930.4 L2129.5,936.6 L2131.2,929.0 L2133.2,935.5 L2134.3,928.5 L2135.4,935.5 L2136.5,928.1 L2137.6,935.8 L2138.6,929.1 L2140.6,934.5 L2142.5,924.2 L2144.3,936.1 L2146.2,928.2 L2148.0,936.9 L2149.9,925.1 L2151.8,934.8 L2153.8,924.9 L2154.8,936.3 L2155.8,927.2 L2156.9,934.8 L2158.0,923.7 L2159.8,935.4 L2161.6,924.7 L2163.4,936.2 L2165.3,923.8 L2167.2,933.7 L2169.2,925.7 L2171.1,936.2 L2173.1,924.7 L2175.1,935.3 L2176.1,926.4 L2177.1,934.8 L2178.1,929.7 L2179.2,937.8 L2180.2,929.7 L2181.2,935.7 L2182.2,927.3 L2183.3,935.7 L2184.3,930.6 L2185.4,935.9 L2186.4,929.3 L2187.4,936.5 L2188.5,929.4 L2189.5,938.8 L2190.6,927.4 L2191.6,936.2 L2192.7,926.7 L2193.7,935.9 L2194.8,926.9 L2195.8,939.5 L2196.9,927.9 L2197.9,938.1 L2199.0,928.7 L2200.0,937.3 L2201.9,931.9 L2203.9,941.3 L2205.8,928.0 L2207.8,937.0 L2209.8,928.0 L2210.8,941.7 L2211.8,929.3 L2212.8,941.4 L2213.9,933.0 L2214.9,936.8 L2215.9,930.2 L2216.9,938.2 L2217.9,931.5 L2219.0,940.1 L2220.0,933.2 L2221.0,937.5 L2222.0,930.3 L2223.1,944.6 L2224.1,930.5 L2225.1,941.2 L2226.1,932.4 L2227.2,941.2 L2228.2,933.2 L2229.2,940.5 L2230.2,931.0 L2231.3,941.0 L2232.3,932.6 L2233.3,942.7 L2234.3,934.2 L2235.3,941.9 L2236.3,930.6 L2237.3,940.8 L2238.3,931.4 L2240.3,939.2 L2242.3,930.3 L2244.3,940.2 L2246.2,931.2 L2248.1,943.2 L2250.0,931.3 L2251.1,940.8 L2252.2,933.4 L2253.4,939.0 L2254.6,931.6 L2255.8,939.5 L2257.0,934.6 L2258.3,940.3 L2259.6,933.0 L2260.9,944.0 L2262.3,933.4 L2263.6,941.8 L2264.9,931.3 L2266.2,942.7 L2267.6,933.2 L2268.9,940.5 L2270.2,931.9 L2271.5,945.4 L2272.8,931.6 L2274.1,941.9 L2275.3,932.4 L2276.5,944.9 L2277.7,934.4 L2278.8,945.1 L2279.9,935.9 L2281.0,946.0 L2282.0,937.5 L2283.8,944.6 L2285.4,933.0 L2286.8,945.1 L2287.8,935.2 L2289.0,946.4 L2289.0,936.7" fill="none" stroke="#0000ff" stroke-width="7" stroke-linejoin="round" stroke-linecap="butt"/>
<path d="M172.0,1542.3 L173.4,1544.2 L175.4,1537.6 L176.6,1543.9 L177.9,1538.8 L179.2,1541.1 L180.4,1537.8 L181.5,1541.1 L183.3,1535.9 L184.9,1539.0 L186.5,1530.7 L188.0,1536.1 L189.5,1526.9 L190.9,1528.5 L192.3,1527.7 L193.4,1527.9 L194.7,1529.5 L195.5,1531.2 L195.9,1532.2 L196.3,1533.3 L196.6,1534.5 L197.0,1535.7 L197.3,1536.9 L197.7,1538.2 L198.0,1539.4 L198.4,1540.6 L198.8,1541.8 L200.2,1544.9 L201.2,1546.4 L202.7,1547.9 L204.3,1548.3 L206.0,1552.6 L207.8,1547.0 L209.6,1554.0 L211.6,1549.6 L213.3,1557.2 L215.2,1549.4 L217.1,1557.5 L219.1,1553.7 L220.1,1557.1 L221.2,1552.1 L222.2,1560.6 L223.2,1552.7 L224.2,1559.9 L225.2,1552.5 L226.2,1559.7 L228.2,1555.4 L229.2,1560.3 L230.2,1552.5 L231.3,1559.1 L232.3,1555.1 L233.4,1557.9 L234.5,1554.5 L235.5,1557.3 L236.6,1552.7 L237.6,1556.5 L238.7,1551.4 L239.7,1558.3 L241.6,1551.5 L243.3,1552.9 L244.9,1550.6 L246.0,1549.3 L247.4,1547.1 L248.6,1544.6 L248.9,1543.8 L249.3,1542.8 L249.6,1541.9 L249.9,1540.9 L250.1,1539.9 L250.4,1538.9 L250.7,1537.9 L250.9,1536.8 L251.2,1535.7 L251.4,1534.7 L251.6,1533.6 L251.9,1532.4 L252.1,1531.3 L252.3,1530.2 L252.5,1529.0 L252.7,1527.9 L253.0,1526.8 L253.2,1525.6 L253.4,1524.8 L253.5,1523.9 L253.7,1523.1 L253.8,1522.2 L253.9,1521.3 L254.1,1520.4 L254.2,1519.5 L254.3,1518.6 L254.4,1517.6 L254.5,1516.6 L254.7,1515.7 L254.8,1514.7 L254.9,1513.7 L254.9,1512.7 L255.0,1511.7 L255.1,1510.6 L255.2,1509.6 L255.3,1508.5 L255.4,1507.5 L255.4,1506.4 L255.5,1505.4 L255.6,1504.3 L255.6,1503.2 L255.7,1502.2 L255.7,1501.1 L255.8,1500.0 L255.9,1498.9 L255.9,1497.9 L256.0,1496.8 L256.0,1495.7 L256.1,1494.6 L256.1,1493.6 L256.2,1492.5 L256.2,1491.4 L256.3,1490.3 L256.3,1489.3 L256.4,1488.2 L256.5,1487.2 L256.5,1486.1 L256.6,1485.1 L256.6,1484.1 L256.7,1483.1 L256.7,1482.1 L256.8,1481.1 L256.9,1480.1 L256.9,1479.1 L257.0,1478.2 L257.1,1477.2 L257.2,1476.3 L257.2,1475.4 L257.3,1474.5 L257.4,1473.6 L257.5,1472.4 L257.6,1471.2 L257.7,1470.0 L257.9,1468.7 L258.0,1467.4 L258.1,1466.0 L258.2,1464.7 L258.3,1463.3 L258.4,1462.0 L258.5,1460.6 L258.6,1459.2 L258.8,1457.9 L258.9,1456.6 L259.0,1455.3 L259.1,1454.0 L259.2,1452.7 L259.3,1451.5 L259.5,1450.4 L259.6,1449.3 L259.7,1448.2 L259.8,1447.2 L259.9,1446.3 L260.1,1445.5 L260.2,1444.7 L260.3,1444.0 L260.4,1443.4 L260.6,1442.9 L260.7,1442.5 L261.7,1442.9 L261.8,1443.4 L262.0,1444.0 L262.1,1444.7 L262.3,1445.5 L262.4,1446.3 L262.6,1447.2 L262.7,1448.2 L262.9,1449.3 L263.0,1450.4 L263.2,1451.5 L263.3,1452.7 L263.5,1454.0 L263.7,1455.2 L263.8,1456.6 L264.0,1457.9 L264.1,1459.2 L264.3,1460.6 L264.4,1461.9 L264.6,1463.3 L264.7,1464.7 L264.9,1466.0 L265.0,1467.4 L265.2,1468.7 L265.3,1470.0 L265.4,1471.2 L265.6,1472.4 L265.7,1473.6 L265.8,1474.5 L265.9,1475.4 L266.0,1476.3 L266.1,1477.2 L266.1,1478.2 L266.2,1479.1 L266.3,1480.1 L266.4,1481.1 L266.4,1482.1 L266.5,1483.1 L266.5,1484.1 L266.6,1485.2 L266.7,1486.2 L266.7,1487.2 L266.8,1488.3 L266.8,1489.4 L266.9,1490.4 L266.9,1491.5 L267.0,1492.6 L267.0,1493.7 L267.1,1494.7 L267.1,1495.8 L267.2,1496.9 L267.2,1498.0 L267.3,1499.1 L267.3,1500.2 L267.4,1501.2 L267.4,1502.3 L267.5,1503.4 L267.6,1504.5 L267.6,1505.5 L267.7,1506.6 L267.8,1507.7 L267.8,1508.7 L267.9,1509.8 L268.0,1510.8 L268.1,1511.8 L268.1,1512.8 L268.2,1513.8 L268.3,1514.8 L268.4,1515.8 L268.5,1516.8 L268.6,1517.7 L268.8,1518.7 L268.9,1519.6 L269.0,1520.5 L269.1,1521.4 L269.3,1522.3 L269.4,1523.1 L269.6,1524.0 L269.7,1524.8 L269.9,1525.6 L270.2,1526.8 L270.4,1527.9 L270.6,1529.1 L270.9,1530.2 L271.1,1531.3 L271.4,1532.4 L271.6,1533.5 L271.9,1534.6 L272.2,1535.7 L272.4,1536.7 L272.7,1537.7 L273.0,1538.7 L273.3,1539.7 L273.7,1540.7 L274.0,1541.6 L275.2,1544.2 L276.6,1546.5 L277.6,1547.9 L278.9,1548.5 L280.6,1552.7 L282.4,1547.1 L284.3,1556.6 L285.3,1550.0 L286.3,1554.5 L287.3,1551.8 L288.4,1555.4 L289.5,1551.3 L290.5,1555.1 L291.6,1552.6 L292.7,1555.6 L293.7,1551.1 L294.8,1556.8 L296.8,1552.5 L297.8,1559.4 L298.9,1552.5 L299.9,1557.0 L301.0,1553.1 L302.1,1559.9 L303.2,1554.5 L304.3,1558.9 L305.3,1544.9 L306.4,1560.2 L307.5,1553.7 L308.6,1557.6 L309.7,1552.7 L310.7,1558.1 L311.7,1551.4 L312.7,1559.7 L314.7,1550.8 L316.6,1556.4 L318.6,1549.7 L320.5,1554.0 L322.4,1549.5 L324.2,1554.7 L325.9,1546.2 L327.4,1547.7 L328.9,1546.1 L330.2,1544.3 L331.4,1542.1 L332.1,1540.4 L332.4,1539.5 L332.7,1538.6 L333.0,1537.7 L333.2,1536.7 L333.5,1535.8 L333.7,1534.8 L333.9,1533.8 L334.0,1532.8 L334.2,1531.7 L334.4,1530.7 L334.5,1529.6 L334.7,1528.5 L334.8,1527.4 L334.9,1526.3 L335.1,1525.2 L335.2,1524.1 L335.3,1523.0 L335.5,1521.9 L335.6,1520.7 L335.7,1519.6 L335.9,1518.5 L336.1,1517.4 L336.2,1516.3 L336.4,1515.2 L336.6,1514.3 L336.7,1513.3 L336.9,1512.2 L337.0,1511.1 L337.1,1510.0 L337.3,1508.8 L337.4,1507.6 L337.6,1506.4 L337.7,1505.1 L337.8,1503.8 L337.9,1502.5 L338.1,1501.2 L338.2,1499.9 L338.3,1498.5 L338.5,1497.2 L338.6,1495.8 L338.7,1494.5 L338.8,1493.2 L338.9,1491.9 L339.1,1490.6 L339.2,1489.3 L339.3,1488.0 L339.4,1486.8 L339.5,1485.6 L339.6,1484.5 L339.8,1483.3 L339.9,1482.3 L340.0,1481.2 L340.1,1480.3 L340.2,1479.3 L340.4,1478.5 L340.5,1477.7 L340.6,1477.0 L340.7,1476.3 L340.8,1475.7 L341.0,1475.2 L341.1,1474.8 L342.2,1474.9 L342.3,1475.4 L342.4,1475.9 L342.6,1476.6 L342.7,1477.3 L342.9,1478.1 L343.0,1479.0 L343.2,1479.9 L343.3,1480.9 L343.4,1482.0 L343.6,1483.1 L343.7,1484.3 L343.9,1485.5 L344.0,1486.7 L344.1,1488.0 L344.3,1489.3 L344.4,1490.6 L344.6,1491.9 L344.7,1493.2 L344.9,1494.5 L345.0,1495.9 L345.2,1497.2 L345.3,1498.5 L345.5,1499.8 L345.6,1501.1 L345.8,1502.4 L346.0,1503.6 L346.1,1504.7 L346.3,1505.9 L346.5,1507.0 L346.6,1508.0 L346.8,1509.0 L347.0,1510.1 L347.2,1511.1 L347.3,1512.2 L347.5,1513.3 L347.6,1514.4 L347.7,1515.5 L347.9,1516.7 L348.0,1517.8 L348.1,1518.9 L348.3,1520.0 L348.4,1521.1 L348.5,1522.2 L348.7,1523.3 L348.8,1524.4 L349.0,1525.5 L349.1,1526.6 L349.3,1527.6 L349.5,1528.6 L349.7,1529.6 L349.9,1530.6 L350.2,1531.6 L350.4,1532.5 L350.7,1533.4 L351.0,1534.2 L352.1,1536.6 L353.7,1538.8 L355.2,1540.3 L356.8,1539.0 L358.6,1546.2 L360.5,1541.7 L362.5,1546.8 L363.5,1540.1 L364.5,1547.8 L365.6,1541.7 L366.6,1547.6 L367.6,1541.9 L369.4,1548.9 L371.4,1543.1 L372.4,1550.6 L373.4,1550.9 L374.5,1551.9 L375.5,1546.3 L376.6,1553.6 L377.6,1547.6 L378.7,1552.0 L379.8,1548.1 L380.8,1552.2 L381.8,1548.3 L382.9,1554.4 L384.8,1548.9 L386.7,1555.1 L388.4,1548.9 L389.5,1555.9 L390.6,1552.4 L391.6,1556.0 L393.5,1551.6 L395.4,1558.5 L397.1,1555.3 L398.8,1557.5 L400.1,1555.0 L401.2,1556.2 L402.2,1550.9 L403.6,1551.1 L404.7,1545.5 L405.8,1546.7 L407.2,1543.0 L409.0,1545.5 L411.1,1540.6 L412.1,1549.2 L413.2,1541.7 L414.3,1549.6 L415.4,1544.1 L416.5,1547.5 L417.6,1544.8 L418.6,1550.4 L420.6,1544.5 L422.4,1549.2 L424.2,1540.4 L426.1,1545.8 L427.9,1540.3 L428.9,1547.4 L430.0,1540.5 L431.9,1544.9 L432.9,1539.8 L434.0,1542.4 L435.1,1540.0 L436.2,1544.6 L437.3,1539.5 L438.4,1544.9 L439.5,1539.2 L440.6,1542.0 L441.7,1538.5 L442.8,1543.4 L443.8,1536.6 L444.8,1542.6 L446.7,1537.9 L448.6,1543.6 L450.3,1539.6 L451.9,1546.3 L453.5,1542.8 L455.1,1549.1 L457.0,1547.1 L458.9,1551.7 L460.9,1545.7 L462.0,1551.0 L463.0,1545.7 L464.1,1550.2 L465.2,1547.1 L466.3,1550.7 L467.4,1544.4 L468.4,1551.3 L469.5,1544.8 L470.6,1550.1 L471.6,1546.6 L473.6,1553.7 L475.5,1545.9 L477.5,1554.1 L479.4,1549.7 L481.3,1557.1 L483.2,1551.8 L485.2,1558.4 L487.1,1552.0 L488.9,1555.5 L490.7,1551.9 L492.6,1554.4 L494.4,1549.6 L496.2,1554.2 L498.1,1546.5 L500.0,1549.9 L501.9,1545.0 L503.8,1548.3 L504.9,1541.3 L506.0,1547.9 L507.1,1543.5 L508.2,1547.0 L509.3,1542.9 L510.4,1547.7 L511.5,1544.6 L512.6,1547.4 L513.7,1540.9 L514.8,1548.1 L515.8,1542.3 L517.7,1547.0 L519.5,1543.6 L520.8,1543.6 L521.9,1540.6 L523.3,1539.2 L523.8,1537.4 L524.2,1536.3 L524.6,1535.1 L525.0,1534.0 L525.4,1532.9 L525.8,1531.8 L527.1,1528.6 L528.1,1528.0 L529.2,1525.3 L530.8,1525.8 L532.6,1522.7 L534.6,1529.6 L535.6,1522.5 L536.7,1529.8 L537.7,1526.3 L538.8,1528.4 L539.9,1524.0 L541.1,1530.9 L542.2,1526.7 L543.3,1531.8 L544.5,1524.7 L546.3,1530.9 L548.1,1522.9 L550.1,1527.4 L551.2,1521.6 L552.2,1528.8 L553.3,1521.4 L554.3,1526.8 L555.4,1519.3 L556.5,1526.2 L557.5,1520.4 L558.6,1525.5 L559.6,1519.9 L560.7,1524.2 L561.7,1516.4 L563.6,1522.3 L565.5,1515.7 L567.2,1521.9 L568.7,1515.0 L570.3,1519.5 L571.8,1517.2 L573.1,1523.8 L574.2,1522.6 L575.4,1527.2 L576.8,1526.1 L578.5,1531.0 L580.1,1524.7 L581.9,1532.2 L583.8,1525.4 L585.9,1530.6 L586.9,1525.2 L587.9,1528.9 L589.0,1524.0 L590.1,1527.7 L591.2,1523.8 L592.2,1528.8 L593.3,1519.7 L594.4,1528.4 L595.4,1521.2 L596.5,1528.3 L598.4,1520.7 L600.4,1525.0 L601.5,1521.1 L602.5,1524.7 L603.5,1520.2 L604.5,1525.2 L605.6,1519.4 L606.6,1526.2 L607.7,1518.2 L608.7,1526.1 L609.8,1517.6 L610.8,1525.1 L611.8,1517.2 L612.9,1523.2 L613.9,1516.4 L615.0,1523.7 L616.0,1518.4 L617.0,1525.3 L618.0,1517.0 L620.0,1523.6 L621.0,1518.5 L622.1,1522.2 L623.1,1517.2 L624.2,1524.6 L625.3,1517.3 L626.3,1522.0 L627.4,1517.6 L628.4,1522.0 L629.5,1516.7 L630.5,1523.9 L631.5,1517.3 L632.5,1522.5 L634.5,1518.7 L636.4,1525.0 L638.3,1517.6 L640.0,1525.3 L641.1,1519.2 L642.1,1524.4 L644.0,1518.0 L645.9,1532.5 L647.6,1520.5 L649.3,1530.0 L650.9,1525.0 L652.5,1532.5 L654.0,1526.2 L655.4,1533.8 L656.8,1531.4 L658.2,1539.7 L659.9,1533.1 L661.6,1539.1 L663.6,1534.7 L664.6,1537.8 L665.6,1531.9 L666.7,1536.6 L667.7,1531.1 L668.7,1534.6 L670.6,1532.6 L672.1,1531.2 L673.3,1529.7 L674.4,1527.5 L674.6,1526.7 L674.9,1525.8 L675.0,1524.9 L675.2,1524.0 L675.3,1523.0 L675.5,1522.0 L675.6,1521.0 L675.6,1519.9 L675.7,1518.8 L675.8,1517.7 L675.8,1516.6 L675.9,1515.4 L676.0,1514.2 L676.1,1513.0 L676.2,1511.8 L676.3,1510.5 L676.4,1509.7 L676.5,1509.0 L676.5,1508.2 L676.6,1507.4 L676.7,1506.6 L676.7,1505.7 L676.8,1504.9 L676.9,1504.0 L676.9,1503.1 L677.0,1502.2 L677.0,1501.3 L677.1,1500.4 L677.1,1499.5 L677.2,1498.5 L677.2,1497.6 L677.3,1496.6 L677.3,1495.6 L677.4,1494.6 L677.4,1493.6 L677.5,1492.6 L677.5,1491.6 L677.5,1490.6 L677.6,1489.5 L677.6,1488.5 L677.6,1487.5 L677.7,1486.4 L677.7,1485.3 L677.7,1484.3 L677.8,1483.2 L677.8,1482.1 L677.8,1481.0 L677.9,1479.9 L677.9,1478.9 L677.9,1477.8 L677.9,1476.7 L678.0,1475.6 L678.0,1474.5 L678.0,1473.4 L678.0,1472.3 L678.1,1471.2 L678.1,1470.1 L678.1,1469.0 L678.2,1467.9 L678.2,1466.8 L678.2,1465.7 L678.2,1464.6 L678.3,1463.6 L678.3,1462.5 L678.3,1461.4 L678.3,1460.3 L678.4,1459.3 L678.4,1458.2 L678.4,1457.2 L678.5,1456.1 L678.5,1455.1 L678.5,1454.0 L678.6,1453.0 L678.6,1452.0 L678.6,1451.0 L678.7,1450.0 L678.7,1448.9 L678.7,1447.9 L678.8,1446.8 L678.8,1445.7 L678.8,1444.6 L678.9,1443.5 L678.9,1442.4 L678.9,1441.3 L678.9,1440.2 L679.0,1439.0 L679.0,1437.9 L679.0,1436.8 L679.0,1435.6 L679.1,1434.5 L679.1,1433.3 L679.1,1432.2 L679.1,1431.0 L679.2,1429.9 L679.2,1428.7 L679.2,1427.6 L679.2,1426.4 L679.3,1425.3 L679.3,1424.2 L679.3,1423.0 L679.3,1421.9 L679.3,1420.8 L679.4,1419.6 L679.4,1418.5 L679.4,1417.4 L679.4,1416.3 L679.5,1415.2 L679.5,1414.2 L679.5,1413.1 L679.6,1412.0 L679.6,1411.0 L679.6,1410.0 L679.6,1409.0 L679.7,1408.0 L679.7,1407.0 L679.7,1406.0 L679.8,1405.1 L679.8,1404.1 L679.8,1403.2 L679.9,1402.3 L679.9,1401.5 L679.9,1400.6 L680.0,1399.8 L680.0,1399.0 L680.1,1398.2 L680.1,1397.4 L680.2,1396.7 L680.2,1396.0 L680.2,1395.3 L680.3,1394.6 L680.3,1394.0 L680.4,1393.4 L680.5,1392.0 L680.7,1390.6 L680.8,1389.2 L681.0,1387.9 L681.1,1386.7 L681.3,1385.6 L681.4,1384.7 L681.6,1384.1 L682.2,1384.3 L682.4,1385.2 L682.6,1386.3 L682.7,1387.6 L682.9,1389.1 L683.0,1390.5 L683.2,1392.0 L683.3,1393.4 L683.4,1394.2 L683.4,1395.0 L683.5,1395.9 L683.6,1396.7 L683.6,1397.6 L683.7,1398.5 L683.8,1399.4 L683.8,1400.4 L683.9,1401.3 L683.9,1402.3 L684.0,1403.3 L684.0,1404.3 L684.0,1405.4 L684.1,1406.4 L684.1,1407.5 L684.2,1408.6 L684.2,1409.7 L684.3,1410.8 L684.3,1412.0 L684.4,1413.2 L684.4,1414.3 L684.4,1415.6 L684.5,1416.8 L684.5,1417.6 L684.6,1418.4 L684.6,1419.2 L684.6,1420.1 L684.7,1420.9 L684.7,1421.8 L684.7,1422.7 L684.7,1423.6 L684.8,1424.5 L684.8,1425.5 L684.8,1426.4 L684.8,1427.4 L684.9,1428.4 L684.9,1429.3 L684.9,1430.3 L685.0,1431.3 L685.0,1432.4 L685.0,1433.4 L685.0,1434.4 L685.1,1435.5 L685.1,1436.5 L685.1,1437.6 L685.1,1438.6 L685.2,1439.7 L685.2,1440.8 L685.2,1441.8 L685.2,1442.9 L685.3,1444.0 L685.3,1445.1 L685.3,1446.2 L685.3,1447.3 L685.4,1448.4 L685.4,1449.5 L685.4,1450.6 L685.5,1451.7 L685.5,1452.8 L685.5,1453.8 L685.5,1454.9 L685.6,1456.0 L685.6,1457.1 L685.6,1458.2 L685.7,1459.3 L685.7,1460.3 L685.7,1461.4 L685.8,1462.5 L685.8,1463.5 L685.8,1464.6 L685.9,1465.6 L685.9,1466.6 L686.0,1467.6 L686.0,1468.6 L686.0,1469.6 L686.1,1470.6 L686.1,1471.6 L686.2,1472.6 L686.2,1473.5 L686.3,1474.5 L686.3,1475.4 L686.4,1476.5 L686.4,1477.6 L686.5,1478.6 L686.5,1479.7 L686.6,1480.8 L686.6,1481.8 L686.7,1482.9 L686.7,1483.9 L686.8,1485.0 L686.9,1486.0 L686.9,1487.1 L687.0,1488.1 L687.0,1489.1 L687.1,1490.2 L687.2,1491.2 L687.2,1492.2 L687.3,1493.2 L687.3,1494.2 L687.4,1495.2 L687.5,1496.2 L687.5,1497.2 L687.6,1498.2 L687.7,1499.2 L687.8,1500.2 L687.8,1501.1 L687.9,1502.1 L688.0,1503.1 L688.0,1504.1 L688.1,1505.0 L688.2,1506.0 L688.3,1506.9 L688.4,1507.9 L688.5,1508.9 L688.5,1509.8 L688.6,1510.8 L688.7,1511.7 L688.8,1512.6 L688.9,1513.6 L689.0,1514.5 L689.1,1515.5 L689.2,1516.4 L689.3,1517.5 L689.4,1518.6 L689.5,1519.7 L689.7,1520.9 L689.8,1522.1 L689.9,1523.2 L690.0,1524.4 L690.1,1525.6 L690.2,1526.8 L690.3,1527.9 L690.4,1529.1 L690.5,1530.3 L690.6,1531.4 L690.8,1532.6 L690.9,1533.7 L691.0,1534.9 L691.2,1536.0 L691.3,1537.0 L691.4,1538.1 L691.6,1539.1 L691.8,1540.1 L691.9,1541.1 L692.1,1542.0 L692.3,1542.9 L692.5,1543.8 L692.7,1544.6 L692.9,1545.4 L693.1,1546.1 L693.4,1546.8 L694.5,1549.2 L695.9,1551.0 L697.5,1552.3 L699.3,1550.0 L701.3,1558.5 L702.4,1550.1 L703.6,1555.8 L704.7,1549.3 L705.9,1553.2 L707.1,1548.8 L708.2,1556.3 L709.3,1548.8 L710.3,1556.2 L712.1,1546.2 L713.9,1550.8 L715.6,1544.8 L717.2,1548.5 L718.8,1542.7 L720.4,1548.2 L722.0,1544.3 L723.6,1549.8 L725.2,1548.2 L726.9,1552.6 L728.7,1547.2 L730.5,1555.1 L732.5,1545.8 L733.6,1551.8 L734.6,1548.0 L735.6,1552.4 L737.5,1545.5 L739.2,1547.2 L740.8,1541.3 L742.0,1546.8 L743.0,1539.6 L744.1,1543.0 L745.6,1537.2 L747.2,1539.1 L749.0,1534.4 L750.9,1542.1 L751.9,1531.7 L753.0,1538.0 L754.0,1532.3 L755.0,1537.9 L756.1,1529.1 L757.1,1535.5 L759.0,1528.4 L760.7,1535.9 L762.4,1532.2 L764.2,1537.0 L765.9,1532.5 L767.7,1543.5 L769.6,1535.0 L771.6,1543.6 L772.7,1538.6 L774.4,1546.7 L776.2,1538.6 L778.1,1547.7 L780.1,1540.7 L782.1,1547.2 L783.1,1541.0 L784.1,1547.4 L785.1,1543.5 L786.2,1547.3 L787.2,1543.8 L788.2,1551.0 L789.3,1544.4 L790.3,1548.5 L791.4,1543.2 L792.4,1549.3 L793.5,1543.8 L794.5,1551.5 L795.5,1543.8 L796.6,1551.9 L797.6,1544.2 L799.6,1551.5 L801.6,1545.1 L802.6,1548.8 L803.6,1543.4 L804.6,1549.2 L805.6,1543.1 L806.7,1550.1 L807.7,1540.6 L808.7,1548.2 L809.7,1540.4 L810.7,1545.9 L811.8,1542.4 L812.8,1548.6 L813.8,1538.6 L814.8,1547.5 L815.8,1540.5 L816.8,1547.2 L817.9,1538.7 L819.8,1543.8 L821.8,1539.7 L823.7,1543.6 L825.7,1537.8 L826.7,1543.0 L827.7,1538.2 L828.7,1544.8 L829.8,1538.6 L830.8,1544.8 L831.8,1541.1 L832.8,1548.0 L833.8,1543.1 L835.8,1548.9 L837.7,1544.9 L839.6,1550.9 L841.5,1546.8 L843.3,1554.7 L845.1,1548.0 L846.8,1554.8 L848.5,1549.2 L850.3,1552.7 L852.0,1546.0 L853.6,1550.3 L855.2,1544.8 L856.7,1547.6 L858.2,1541.4 L859.6,1542.5 L860.9,1538.1 L862.1,1538.1 L863.1,1535.6 L864.6,1533.2 L865.8,1530.8 L866.9,1528.2 L867.3,1527.3 L867.6,1526.3 L867.9,1525.4 L868.3,1524.4 L868.6,1523.4 L868.9,1522.3 L869.2,1521.2 L869.5,1520.1 L869.8,1518.9 L870.1,1517.7 L870.4,1516.4 L870.6,1515.7 L870.7,1515.0 L870.8,1514.3 L871.0,1513.6 L871.1,1512.8 L871.2,1512.0 L871.4,1511.2 L871.5,1510.4 L871.6,1509.6 L871.7,1508.7 L871.8,1507.8 L871.9,1506.9 L872.1,1506.0 L872.2,1505.1 L872.3,1504.1 L872.4,1503.1 L872.4,1502.2 L872.5,1501.2 L872.6,1500.2 L872.7,1499.1 L872.8,1498.1 L872.9,1497.1 L872.9,1496.0 L873.0,1494.9 L873.1,1493.9 L873.2,1492.8 L873.2,1491.7 L873.3,1490.6 L873.4,1489.5 L873.4,1488.3 L873.5,1487.2 L873.6,1486.1 L873.6,1484.9 L873.7,1483.8 L873.7,1482.7 L873.8,1481.5 L873.8,1480.3 L873.9,1479.2 L873.9,1478.0 L874.0,1476.9 L874.0,1475.7 L874.1,1474.5 L874.1,1473.4 L874.2,1472.2 L874.2,1471.0 L874.3,1469.9 L874.3,1468.7 L874.4,1467.5 L874.4,1466.4 L874.5,1465.2 L874.5,1464.1 L874.6,1463.0 L874.6,1461.8 L874.7,1460.7 L874.7,1459.6 L874.8,1458.5 L874.8,1457.3 L874.9,1456.2 L874.9,1455.2 L875.0,1454.1 L875.0,1453.0 L875.1,1451.9 L875.2,1450.9 L875.2,1449.9 L875.3,1448.8 L875.3,1447.8 L875.4,1446.8 L875.5,1445.9 L875.5,1444.9 L875.6,1443.9 L875.7,1443.0 L875.7,1442.1 L875.8,1441.2 L875.9,1440.3 L876.0,1439.4 L876.1,1438.6 L876.1,1437.7 L876.2,1436.9 L876.3,1436.1 L876.4,1435.4 L876.5,1434.6 L876.6,1433.9 L876.7,1433.2 L876.9,1431.9 L877.1,1430.5 L877.3,1429.1 L877.5,1427.7 L877.7,1426.3 L878.0,1424.9 L878.2,1423.6 L878.4,1422.2 L878.6,1420.9 L878.9,1419.6 L879.1,1418.4 L879.3,1417.2 L879.6,1416.1 L879.8,1415.0 L880.0,1414.0 L880.3,1413.2 L880.5,1412.4 L880.7,1411.7 L881.9,1410.0 L882.5,1410.8 L882.6,1411.4 L882.8,1412.1 L883.0,1412.9 L883.2,1413.8 L883.3,1414.9 L883.5,1416.0 L883.6,1417.2 L883.8,1418.5 L884.0,1419.9 L884.1,1421.2 L884.3,1422.6 L884.5,1424.1 L884.6,1425.5 L884.8,1426.9 L885.0,1428.3 L885.2,1429.7 L885.4,1431.0 L885.6,1432.3 L885.9,1433.5 L886.1,1434.7 L886.3,1435.7 L886.6,1436.7 L886.9,1437.5 L888.1,1439.5 L890.2,1438.9 L891.3,1438.0 L892.4,1437.4 L893.6,1437.6 L894.7,1439.6 L894.9,1440.3 L895.1,1441.1 L895.3,1441.9 L895.4,1442.8 L895.6,1443.8 L895.7,1444.8 L895.8,1445.9 L896.0,1447.0 L896.1,1448.1 L896.2,1449.3 L896.3,1450.6 L896.4,1451.8 L896.5,1453.1 L896.6,1454.3 L896.7,1455.6 L896.8,1456.9 L896.9,1458.2 L897.0,1459.5 L897.1,1460.7 L897.2,1462.0 L897.3,1463.2 L897.5,1464.4 L897.6,1465.2 L897.7,1466.1 L897.8,1467.0 L897.9,1467.9 L898.0,1468.8 L898.0,1469.8 L898.1,1470.7 L898.2,1471.7 L898.3,1472.7 L898.3,1473.8 L898.4,1474.8 L898.4,1475.9 L898.5,1476.9 L898.5,1478.0 L898.6,1479.1 L898.7,1480.2 L898.7,1481.4 L898.8,1482.5 L898.8,1483.6 L898.8,1484.7 L898.9,1485.9 L898.9,1487.0 L899.0,1488.2 L899.1,1489.3 L899.1,1490.5 L899.2,1491.6 L899.2,1492.8 L899.3,1493.9 L899.4,1495.1 L899.4,1496.2 L899.5,1497.4 L899.6,1498.5 L899.7,1499.6 L899.7,1500.7 L899.8,1501.8 L899.9,1502.9 L900.0,1504.0 L900.2,1505.0 L900.3,1506.1 L900.4,1507.1 L900.5,1508.1 L900.7,1509.1 L900.8,1510.1 L901.0,1511.1 L901.2,1512.0 L901.3,1512.9 L901.5,1513.8 L901.7,1514.7 L901.9,1515.5 L902.1,1516.3 L902.4,1517.1 L902.6,1517.9 L902.9,1518.6 L903.1,1519.3 L904.3,1521.7 L905.5,1523.6 L906.9,1525.3 L908.4,1525.3 L910.0,1529.6 L911.6,1525.3 L913.2,1532.0 L914.7,1531.0 L916.2,1537.5 L917.8,1531.0 L919.4,1540.1 L921.0,1535.2 L922.6,1542.6 L924.2,1537.9 L925.8,1542.5 L927.3,1538.8 L928.5,1543.6 L929.8,1536.7 L931.0,1539.5 L932.3,1533.7 L933.5,1534.1 L934.8,1528.4 L936.2,1531.8 L937.6,1524.5 L939.1,1529.3 L940.9,1523.6 L942.8,1532.2 L944.8,1523.5 L945.8,1532.8 L946.9,1527.1 L947.9,1532.9 L948.9,1525.3 L949.9,1535.0 L951.8,1529.6 L953.7,1534.7 L955.1,1526.4 L956.5,1532.8 L957.8,1525.0 L959.1,1527.6 L960.4,1521.3 L961.6,1523.1 L962.9,1518.4 L964.2,1521.3 L965.5,1514.9 L966.8,1516.6 L968.2,1511.1 L970.2,1518.4 L971.3,1510.2 L972.3,1515.7 L973.4,1510.3 L974.5,1518.8 L975.5,1509.3 L976.6,1517.5 L977.7,1511.8 L978.7,1519.1 L979.7,1510.1 L981.4,1517.4 L982.8,1509.8 L984.1,1515.2 L985.4,1507.1 L986.7,1511.1 L987.9,1505.1 L989.2,1508.2 L990.4,1501.7 L991.6,1502.2 L992.8,1497.2 L994.1,1500.2 L995.3,1492.5 L996.6,1495.4 L997.9,1490.1 L999.2,1491.3 L1000.4,1484.1 L1001.7,1488.5 L1003.0,1483.3 L1004.3,1485.8 L1005.6,1478.6 L1007.0,1485.6 L1008.5,1478.7 L1010.1,1483.1 L1011.8,1479.8 L1013.5,1485.9 L1015.2,1484.8 L1016.9,1493.1 L1018.7,1487.5 L1020.5,1494.2 L1022.3,1486.9 L1024.2,1494.1 L1026.1,1489.6 L1028.1,1494.9 L1030.1,1488.2 L1032.0,1493.0 L1034.0,1483.6 L1035.9,1489.6 L1037.9,1482.3 L1039.9,1491.7 L1041.8,1483.9 L1043.7,1492.3 L1045.7,1484.8 L1046.7,1492.0 L1047.7,1484.6 L1048.8,1499.5 L1050.0,1487.6 L1051.7,1494.3 L1053.6,1485.5 L1055.5,1494.5 L1057.5,1487.0 L1058.5,1493.1 L1059.5,1485.0 L1060.5,1492.1 L1061.6,1484.5 L1062.7,1491.5 L1063.7,1484.5 L1064.8,1490.1 L1065.9,1486.0 L1066.9,1495.2 L1068.0,1484.4 L1069.1,1488.3 L1070.1,1482.4 L1071.2,1490.4 L1072.2,1484.3 L1073.3,1488.4 L1074.3,1480.6 L1075.3,1486.6 L1077.2,1479.2 L1079.1,1485.4 L1081.0,1485.7 L1083.0,1486.9 L1084.9,1477.3 L1086.8,1484.3 L1088.7,1477.7 L1090.6,1483.0 L1092.5,1475.0 L1094.3,1478.1 L1096.1,1473.1 L1097.8,1477.5 L1099.5,1468.2 L1101.1,1477.3 L1102.7,1469.9 L1104.4,1473.3 L1106.0,1465.9 L1107.5,1470.9 L1109.0,1460.9 L1110.4,1469.0 L1111.7,1461.4 L1113.1,1465.7 L1114.4,1458.3 L1115.8,1461.7 L1117.1,1454.8 L1118.5,1458.4 L1120.2,1451.6 L1121.9,1454.9 L1123.5,1446.3 L1125.2,1450.8 L1126.8,1445.8 L1128.5,1450.5 L1130.1,1441.4 L1131.7,1448.0 L1133.6,1440.2 L1135.5,1452.1 L1137.3,1442.6 L1139.2,1452.0 L1141.2,1447.7 L1142.2,1453.9 L1144.1,1445.7 L1145.1,1452.9 L1146.2,1447.7 L1147.2,1453.5 L1148.2,1446.9 L1149.3,1453.2 L1150.3,1446.4 L1151.4,1453.0 L1152.4,1445.5 L1153.4,1451.9 L1155.4,1445.7 L1157.1,1450.8 L1158.8,1445.8 L1160.4,1453.4 L1162.1,1446.6 L1163.7,1455.5 L1165.3,1453.4 L1166.9,1462.3 L1168.5,1453.7 L1170.1,1461.9 L1171.8,1459.4 L1173.4,1468.5 L1175.1,1461.5 L1176.8,1470.4 L1178.4,1463.3 L1180.1,1470.3 L1181.7,1465.7 L1183.7,1474.0 L1185.7,1464.4 L1187.7,1470.5 L1189.6,1461.9 L1191.6,1470.1 L1193.6,1459.6 L1194.6,1468.1 L1195.6,1460.7 L1196.7,1464.7 L1197.7,1457.7 L1198.7,1466.0 L1199.7,1458.4 L1201.7,1465.4 L1203.5,1457.9 L1205.2,1465.8 L1206.9,1460.6 L1208.6,1470.4 L1210.2,1466.4 L1211.8,1468.9 L1213.3,1464.4 L1214.7,1465.1 L1216.1,1463.2 L1217.3,1461.0 L1218.4,1458.6 L1218.7,1457.9 L1218.9,1457.2 L1219.2,1456.4 L1219.4,1455.6 L1219.6,1454.8 L1219.8,1454.0 L1220.0,1453.1 L1220.1,1452.2 L1220.3,1451.3 L1220.4,1450.4 L1220.5,1449.4 L1220.6,1448.4 L1220.7,1447.4 L1220.8,1446.4 L1220.9,1445.4 L1221.0,1444.3 L1221.1,1443.3 L1221.2,1442.2 L1221.2,1441.1 L1221.3,1440.0 L1221.3,1438.9 L1221.4,1437.8 L1221.5,1436.6 L1221.5,1435.5 L1221.6,1434.3 L1221.6,1433.2 L1221.7,1432.0 L1221.7,1430.9 L1221.8,1429.7 L1221.9,1428.5 L1221.9,1427.4 L1222.0,1426.2 L1222.1,1425.3 L1222.1,1424.5 L1222.2,1423.6 L1222.2,1422.7 L1222.3,1421.8 L1222.3,1420.9 L1222.4,1420.0 L1222.4,1419.1 L1222.4,1418.2 L1222.5,1417.3 L1222.5,1416.4 L1222.6,1415.5 L1222.6,1414.5 L1222.6,1413.6 L1222.7,1412.7 L1222.7,1411.7 L1222.7,1410.8 L1222.8,1409.8 L1222.8,1408.8 L1222.8,1407.9 L1222.8,1406.9 L1222.9,1405.9 L1222.9,1404.9 L1222.9,1403.9 L1222.9,1403.0 L1222.9,1402.0 L1223.0,1400.9 L1223.0,1399.9 L1223.0,1398.9 L1223.0,1397.9 L1223.0,1396.9 L1223.1,1395.9 L1223.1,1394.8 L1223.1,1393.8 L1223.1,1392.8 L1223.1,1391.7 L1223.1,1390.7 L1223.2,1389.6 L1223.2,1388.6 L1223.2,1387.5 L1223.2,1386.4 L1223.2,1385.4 L1223.2,1384.3 L1223.2,1383.2 L1223.3,1382.1 L1223.3,1381.0 L1223.3,1379.9 L1223.3,1378.8 L1223.3,1377.8 L1223.3,1376.6 L1223.4,1375.5 L1223.4,1374.4 L1223.4,1373.3 L1223.4,1372.2 L1223.4,1371.1 L1223.5,1370.0 L1223.5,1368.8 L1223.5,1367.7 L1223.5,1366.8 L1223.5,1365.9 L1223.6,1365.0 L1223.6,1364.1 L1223.6,1363.2 L1223.6,1362.3 L1223.6,1361.4 L1223.6,1360.5 L1223.7,1359.5 L1223.7,1358.6 L1223.7,1357.7 L1223.7,1356.7 L1223.7,1355.8 L1223.7,1354.8 L1223.8,1353.9 L1223.8,1352.9 L1223.8,1352.0 L1223.8,1351.0 L1223.8,1350.0 L1223.8,1349.1 L1223.9,1348.1 L1223.9,1347.1 L1223.9,1346.1 L1223.9,1345.1 L1223.9,1344.1 L1223.9,1343.2 L1224.0,1342.2 L1224.0,1341.2 L1224.0,1340.2 L1224.0,1339.2 L1224.0,1338.2 L1224.0,1337.1 L1224.1,1336.1 L1224.1,1335.1 L1224.1,1334.1 L1224.1,1333.1 L1224.1,1332.1 L1224.1,1331.0 L1224.2,1330.0 L1224.2,1329.0 L1224.2,1328.0 L1224.2,1326.9 L1224.2,1325.9 L1224.2,1324.9 L1224.2,1323.8 L1224.3,1322.8 L1224.3,1321.7 L1224.3,1320.7 L1224.3,1319.7 L1224.3,1318.6 L1224.3,1317.6 L1224.4,1316.5 L1224.4,1315.5 L1224.4,1314.4 L1224.4,1313.4 L1224.4,1312.3 L1224.4,1311.3 L1224.4,1310.2 L1224.5,1309.2 L1224.5,1308.1 L1224.5,1307.1 L1224.5,1306.0 L1224.5,1305.0 L1224.5,1303.9 L1224.5,1302.9 L1224.6,1301.8 L1224.6,1300.8 L1224.6,1299.7 L1224.6,1298.7 L1224.6,1297.6 L1224.6,1296.6 L1224.7,1295.5 L1224.7,1294.5 L1224.7,1293.4 L1224.7,1292.4 L1224.7,1291.4 L1224.7,1290.3 L1224.7,1289.3 L1224.8,1288.2 L1224.8,1287.2 L1224.8,1286.2 L1224.8,1285.1 L1224.8,1284.1 L1224.8,1283.0 L1224.8,1282.0 L1224.9,1281.0 L1224.9,1280.0 L1224.9,1278.9 L1224.9,1277.9 L1224.9,1276.9 L1224.9,1275.9 L1225.0,1274.8 L1225.0,1273.8 L1225.0,1272.8 L1225.0,1271.8 L1225.0,1270.8 L1225.0,1269.8 L1225.0,1268.8 L1225.1,1267.7 L1225.1,1266.7 L1225.1,1265.7 L1225.1,1264.7 L1225.1,1263.6 L1225.1,1262.6 L1225.1,1261.6 L1225.2,1260.5 L1225.2,1259.5 L1225.2,1258.5 L1225.2,1257.4 L1225.2,1256.4 L1225.2,1255.3 L1225.2,1254.3 L1225.3,1253.3 L1225.3,1252.2 L1225.3,1251.2 L1225.3,1250.1 L1225.3,1249.1 L1225.3,1248.0 L1225.3,1247.0 L1225.4,1245.9 L1225.4,1244.9 L1225.4,1243.8 L1225.4,1242.7 L1225.4,1241.7 L1225.4,1240.6 L1225.4,1239.6 L1225.4,1238.5 L1225.5,1237.5 L1225.5,1236.4 L1225.5,1235.4 L1225.5,1234.3 L1225.5,1233.3 L1225.5,1232.2 L1225.5,1231.2 L1225.6,1230.1 L1225.6,1229.0 L1225.6,1228.0 L1225.6,1226.9 L1225.6,1225.9 L1225.6,1224.9 L1225.6,1223.8 L1225.7,1222.8 L1225.7,1221.7 L1225.7,1220.7 L1225.7,1219.6 L1225.7,1218.6 L1225.7,1217.6 L1225.7,1216.5 L1225.7,1215.5 L1225.8,1214.5 L1225.8,1213.4 L1225.8,1212.4 L1225.8,1211.4 L1225.8,1210.4 L1225.8,1209.3 L1225.8,1208.3 L1225.9,1207.3 L1225.9,1206.3 L1225.9,1205.3 L1225.9,1204.3 L1225.9,1203.3 L1225.9,1202.3 L1225.9,1201.3 L1226.0,1200.3 L1226.0,1199.3 L1226.0,1198.3 L1226.0,1197.3 L1226.0,1196.3 L1226.0,1195.4 L1226.1,1194.4 L1226.1,1193.4 L1226.1,1192.5 L1226.1,1191.5 L1226.1,1190.6 L1226.1,1189.6 L1226.2,1188.7 L1226.2,1187.7 L1226.2,1186.8 L1226.2,1185.8 L1226.2,1184.9 L1226.2,1184.0 L1226.3,1183.1 L1226.3,1182.2 L1226.3,1181.2 L1226.3,1180.3 L1226.3,1179.4 L1226.3,1178.5 L1226.4,1177.7 L1226.4,1176.8 L1226.4,1175.9 L1226.4,1174.7 L1226.4,1173.6 L1226.5,1172.5 L1226.5,1171.3 L1226.5,1170.2 L1226.5,1169.1 L1226.6,1167.9 L1226.6,1166.8 L1226.6,1165.7 L1226.6,1164.6 L1226.7,1163.5 L1226.7,1162.4 L1226.7,1161.3 L1226.7,1160.2 L1226.8,1159.1 L1226.8,1158.0 L1226.8,1156.9 L1226.9,1155.8 L1226.9,1154.7 L1226.9,1153.7 L1226.9,1152.6 L1227.0,1151.6 L1227.0,1150.5 L1227.0,1149.5 L1227.0,1148.4 L1227.1,1147.4 L1227.1,1146.4 L1227.1,1145.3 L1227.1,1144.3 L1227.2,1143.3 L1227.2,1142.3 L1227.2,1141.3 L1227.3,1140.3 L1227.3,1139.3 L1227.3,1138.3 L1227.3,1137.3 L1227.4,1136.4 L1227.4,1135.4 L1227.4,1134.4 L1227.5,1133.5 L1227.5,1132.5 L1227.5,1131.6 L1227.6,1130.7 L1227.6,1129.7 L1227.6,1128.8 L1227.7,1127.9 L1227.7,1127.0 L1227.7,1126.1 L1227.8,1125.2 L1227.8,1124.3 L1227.8,1123.4 L1227.9,1122.6 L1227.9,1121.7 L1228.0,1120.9 L1228.0,1120.0 L1228.1,1118.8 L1228.1,1117.5 L1228.2,1116.2 L1228.2,1114.9 L1228.3,1113.6 L1228.4,1112.2 L1228.4,1110.9 L1228.5,1109.5 L1228.6,1108.1 L1228.6,1106.8 L1228.7,1105.4 L1228.8,1104.1 L1228.8,1102.8 L1228.9,1101.6 L1229.0,1100.4 L1229.0,1099.2 L1229.1,1098.1 L1229.2,1097.1 L1229.2,1096.1 L1229.3,1095.2 L1229.4,1094.4 L1229.4,1093.7 L1229.5,1093.0 L1229.6,1092.5 L1229.6,1092.1 L1229.7,1091.8 L1229.9,1091.8 L1230.0,1092.1 L1230.0,1092.5 L1230.1,1093.0 L1230.1,1093.7 L1230.2,1094.4 L1230.2,1095.2 L1230.3,1096.1 L1230.3,1097.1 L1230.4,1098.1 L1230.5,1099.2 L1230.5,1100.4 L1230.6,1101.6 L1230.6,1102.8 L1230.7,1104.1 L1230.7,1105.4 L1230.7,1106.8 L1230.8,1108.1 L1230.8,1109.5 L1230.9,1110.9 L1230.9,1112.2 L1231.0,1113.6 L1231.0,1114.9 L1231.1,1116.2 L1231.1,1117.5 L1231.2,1118.8 L1231.2,1120.0 L1231.2,1120.9 L1231.3,1121.7 L1231.3,1122.6 L1231.3,1123.4 L1231.3,1124.3 L1231.4,1125.2 L1231.4,1126.1 L1231.4,1127.0 L1231.4,1127.9 L1231.5,1128.8 L1231.5,1129.7 L1231.5,1130.7 L1231.5,1131.6 L1231.6,1132.5 L1231.6,1133.5 L1231.6,1134.4 L1231.6,1135.4 L1231.7,1136.4 L1231.7,1137.3 L1231.7,1138.3 L1231.7,1139.3 L1231.8,1140.3 L1231.8,1141.3 L1231.8,1142.3 L1231.8,1143.3 L1231.8,1144.3 L1231.9,1145.3 L1231.9,1146.4 L1231.9,1147.4 L1231.9,1148.4 L1231.9,1149.5 L1232.0,1150.5 L1232.0,1151.6 L1232.0,1152.6 L1232.0,1153.7 L1232.0,1154.7 L1232.1,1155.8 L1232.1,1156.9 L1232.1,1158.0 L1232.1,1159.1 L1232.1,1160.2 L1232.2,1161.3 L1232.2,1162.4 L1232.2,1163.5 L1232.2,1164.6 L1232.2,1165.7 L1232.2,1166.8 L1232.3,1167.9 L1232.3,1169.1 L1232.3,1170.2 L1232.3,1171.3 L1232.3,1172.5 L1232.4,1173.6 L1232.4,1174.7 L1232.4,1175.9 L1232.4,1176.8 L1232.4,1177.7 L1232.4,1178.5 L1232.5,1179.4 L1232.5,1180.3 L1232.5,1181.2 L1232.5,1182.2 L1232.5,1183.1 L1232.5,1184.0 L1232.5,1184.9 L1232.6,1185.8 L1232.6,1186.8 L1232.6,1187.7 L1232.6,1188.7 L1232.6,1189.6 L1232.6,1190.6 L1232.6,1191.5 L1232.7,1192.5 L1232.7,1193.4 L1232.7,1194.4 L1232.7,1195.4 L1232.7,1196.3 L1232.7,1197.3 L1232.7,1198.3 L1232.7,1199.3 L1232.8,1200.3 L1232.8,1201.3 L1232.8,1202.3 L1232.8,1203.3 L1232.8,1204.3 L1232.8,1205.3 L1232.8,1206.3 L1232.8,1207.3 L1232.9,1208.3 L1232.9,1209.3 L1232.9,1210.4 L1232.9,1211.4 L1232.9,1212.4 L1232.9,1213.4 L1232.9,1214.5 L1232.9,1215.5 L1233.0,1216.5 L1233.0,1217.6 L1233.0,1218.6 L1233.0,1219.6 L1233.0,1220.7 L1233.0,1221.7 L1233.0,1222.8 L1233.0,1223.8 L1233.1,1224.9 L1233.1,1225.9 L1233.1,1226.9 L1233.1,1228.0 L1233.1,1229.0 L1233.1,1230.1 L1233.1,1231.2 L1233.1,1232.2 L1233.2,1233.3 L1233.2,1234.3 L1233.2,1235.4 L1233.2,1236.4 L1233.2,1237.5 L1233.2,1238.5 L1233.2,1239.6 L1233.2,1240.6 L1233.2,1241.7 L1233.3,1242.7 L1233.3,1243.8 L1233.3,1244.9 L1233.3,1245.9 L1233.3,1247.0 L1233.3,1248.0 L1233.3,1249.1 L1233.3,1250.1 L1233.4,1251.2 L1233.4,1252.2 L1233.4,1253.3 L1233.4,1254.3 L1233.4,1255.3 L1233.4,1256.4 L1233.4,1257.4 L1233.4,1258.5 L1233.5,1259.5 L1233.5,1260.5 L1233.5,1261.6 L1233.5,1262.6 L1233.5,1263.6 L1233.5,1264.7 L1233.5,1265.7 L1233.5,1266.7 L1233.5,1267.7 L1233.6,1268.8 L1233.6,1269.8 L1233.6,1270.8 L1233.6,1271.8 L1233.6,1272.8 L1233.6,1273.8 L1233.6,1274.8 L1233.6,1275.9 L1233.7,1276.9 L1233.7,1277.9 L1233.7,1278.9 L1233.7,1279.9 L1233.7,1281.0 L1233.7,1282.0 L1233.7,1283.0 L1233.7,1284.0 L1233.8,1285.1 L1233.8,1286.1 L1233.8,1287.1 L1233.8,1288.1 L1233.8,1289.2 L1233.8,1290.2 L1233.8,1291.2 L1233.8,1292.3 L1233.8,1293.3 L1233.9,1294.4 L1233.9,1295.4 L1233.9,1296.4 L1233.9,1297.5 L1233.9,1298.5 L1233.9,1299.5 L1233.9,1300.6 L1233.9,1301.6 L1233.9,1302.7 L1233.9,1303.7 L1234.0,1304.7 L1234.0,1305.8 L1234.0,1306.8 L1234.0,1307.8 L1234.0,1308.9 L1234.0,1309.9 L1234.0,1311.0 L1234.0,1312.0 L1234.0,1313.0 L1234.1,1314.1 L1234.1,1315.1 L1234.1,1316.1 L1234.1,1317.2 L1234.1,1318.2 L1234.1,1319.2 L1234.1,1320.3 L1234.1,1321.3 L1234.1,1322.3 L1234.1,1323.4 L1234.2,1324.4 L1234.2,1325.4 L1234.2,1326.4 L1234.2,1327.5 L1234.2,1328.5 L1234.2,1329.5 L1234.2,1330.5 L1234.2,1331.6 L1234.3,1332.6 L1234.3,1333.6 L1234.3,1334.6 L1234.3,1335.6 L1234.3,1336.6 L1234.3,1337.6 L1234.3,1338.6 L1234.3,1339.6 L1234.4,1340.7 L1234.4,1341.7 L1234.4,1342.7 L1234.4,1343.6 L1234.4,1344.6 L1234.4,1345.6 L1234.4,1346.6 L1234.4,1347.6 L1234.5,1348.6 L1234.5,1349.6 L1234.5,1350.6 L1234.5,1351.5 L1234.5,1352.5 L1234.5,1353.5 L1234.6,1354.5 L1234.6,1355.4 L1234.6,1356.4 L1234.6,1357.3 L1234.6,1358.3 L1234.6,1359.3 L1234.7,1360.2 L1234.7,1361.2 L1234.7,1362.1 L1234.7,1363.0 L1234.7,1364.0 L1234.7,1364.9 L1234.8,1365.8 L1234.8,1366.8 L1234.8,1367.7 L1234.8,1368.8 L1234.8,1369.9 L1234.9,1371.0 L1234.9,1372.1 L1234.9,1373.2 L1234.9,1374.3 L1235.0,1375.4 L1235.0,1376.5 L1235.0,1377.6 L1235.0,1378.7 L1235.0,1379.8 L1235.1,1380.9 L1235.1,1382.0 L1235.1,1383.1 L1235.1,1384.2 L1235.1,1385.2 L1235.1,1386.3 L1235.2,1387.4 L1235.2,1388.5 L1235.2,1389.6 L1235.2,1390.7 L1235.2,1391.7 L1235.3,1392.8 L1235.3,1393.9 L1235.3,1394.9 L1235.3,1396.0 L1235.3,1397.1 L1235.4,1398.1 L1235.4,1399.2 L1235.4,1400.2 L1235.4,1401.3 L1235.5,1402.3 L1235.5,1403.4 L1235.5,1404.4 L1235.5,1405.4 L1235.6,1406.5 L1235.6,1407.5 L1235.6,1408.5 L1235.6,1409.5 L1235.7,1410.5 L1235.7,1411.5 L1235.7,1412.5 L1235.8,1413.5 L1235.8,1414.5 L1235.8,1415.5 L1235.9,1416.5 L1235.9,1417.5 L1235.9,1418.4 L1236.0,1419.4 L1236.0,1420.3 L1236.0,1421.3 L1236.1,1422.2 L1236.1,1423.2 L1236.1,1424.1 L1236.2,1425.0 L1236.2,1425.9 L1236.3,1426.8 L1236.3,1427.7 L1236.4,1428.6 L1236.4,1429.5 L1236.5,1430.4 L1236.5,1431.3 L1236.6,1432.1 L1236.6,1433.0 L1236.7,1433.8 L1236.7,1434.7 L1236.8,1435.5 L1236.9,1436.7 L1237.0,1437.9 L1237.0,1439.1 L1237.1,1440.3 L1237.2,1441.4 L1237.2,1442.6 L1237.3,1443.8 L1237.3,1444.9 L1237.4,1446.1 L1237.5,1447.2 L1237.5,1448.3 L1237.6,1449.4 L1237.6,1450.5 L1237.7,1451.6 L1237.8,1452.7 L1237.9,1453.7 L1237.9,1454.8 L1238.0,1455.8 L1238.1,1456.8 L1238.2,1457.8 L1238.4,1458.7 L1238.5,1459.7 L1238.6,1460.6 L1238.8,1461.5 L1238.9,1462.4 L1239.1,1463.2 L1239.3,1464.1 L1239.5,1464.9 L1239.7,1465.6 L1240.0,1466.4 L1240.2,1467.1 L1241.6,1470.0 L1242.9,1472.0 L1244.3,1473.7 L1245.7,1476.0 L1247.2,1474.0 L1249.0,1480.2 L1250.0,1476.5 L1251.1,1481.1 L1252.2,1476.7 L1253.3,1480.3 L1254.3,1476.2 L1255.9,1482.0 L1257.2,1480.7 L1258.4,1485.9 L1259.5,1486.7 L1260.6,1489.1 L1261.7,1490.5 L1262.7,1491.0 L1263.7,1490.0 L1264.4,1488.5 L1264.7,1487.6 L1265.0,1486.6 L1265.4,1485.4 L1265.7,1484.2 L1266.0,1482.9 L1266.3,1481.6 L1266.6,1480.2 L1266.9,1478.7 L1267.2,1477.3 L1267.5,1475.9 L1267.8,1474.5 L1268.1,1473.1 L1268.4,1471.7 L1268.6,1470.5 L1268.9,1469.2 L1269.2,1468.1 L1269.5,1467.1 L1269.7,1466.2 L1270.0,1465.5 L1271.0,1464.0 L1272.2,1465.6 L1272.4,1466.4 L1272.7,1467.3 L1273.0,1468.4 L1273.2,1469.5 L1273.5,1470.7 L1273.7,1471.9 L1274.0,1473.2 L1274.2,1474.5 L1274.4,1475.8 L1274.7,1477.1 L1274.9,1478.4 L1275.2,1479.6 L1275.4,1480.7 L1275.7,1481.7 L1275.9,1482.7 L1276.2,1483.7 L1276.4,1484.8 L1276.5,1485.8 L1276.7,1486.9 L1276.8,1488.0 L1277.0,1489.0 L1277.1,1490.1 L1277.3,1491.1 L1277.5,1492.2 L1277.8,1493.2 L1278.0,1494.1 L1278.4,1495.1 L1279.7,1497.6 L1280.9,1499.0 L1282.4,1500.1 L1284.1,1502.7 L1286.1,1498.6 L1287.1,1503.7 L1288.2,1500.0 L1289.2,1505.7 L1290.3,1500.0 L1291.4,1507.9 L1292.5,1498.4 L1293.6,1505.9 L1294.6,1499.1 L1295.6,1506.9 L1297.5,1509.9 L1299.2,1510.6 L1301.0,1505.5 L1302.8,1511.7 L1304.5,1508.1 L1306.0,1517.6 L1307.4,1512.0 L1308.7,1515.3 L1309.7,1511.2 L1310.7,1512.8 L1311.7,1510.0 L1313.2,1507.7 L1314.6,1504.6 L1315.1,1503.4 L1315.5,1502.3 L1316.0,1501.1 L1316.4,1499.9 L1316.8,1498.7 L1317.2,1497.4 L1317.6,1496.2 L1318.0,1494.9 L1318.4,1493.7 L1318.7,1492.5 L1318.9,1491.8 L1319.1,1491.0 L1319.3,1490.3 L1319.4,1489.5 L1319.6,1488.7 L1319.8,1487.9 L1319.9,1487.0 L1320.1,1486.1 L1320.2,1485.3 L1320.3,1484.4 L1320.5,1483.4 L1320.6,1482.5 L1320.7,1481.6 L1320.8,1480.6 L1320.9,1479.6 L1321.0,1478.6 L1321.1,1477.6 L1321.2,1476.6 L1321.3,1475.6 L1321.4,1474.5 L1321.5,1473.5 L1321.6,1472.4 L1321.7,1471.3 L1321.7,1470.3 L1321.8,1469.2 L1321.9,1468.1 L1321.9,1467.0 L1322.0,1465.9 L1322.1,1464.8 L1322.1,1463.7 L1322.2,1462.6 L1322.2,1461.4 L1322.3,1460.3 L1322.3,1459.2 L1322.4,1458.1 L1322.4,1457.0 L1322.5,1455.8 L1322.5,1454.7 L1322.6,1453.6 L1322.6,1452.5 L1322.6,1451.4 L1322.7,1450.3 L1322.7,1449.2 L1322.8,1448.1 L1322.8,1447.0 L1322.8,1445.9 L1322.9,1444.8 L1322.9,1443.7 L1323.0,1442.7 L1323.0,1441.6 L1323.1,1440.6 L1323.1,1439.5 L1323.2,1438.5 L1323.2,1437.5 L1323.3,1436.5 L1323.3,1435.5 L1323.4,1434.6 L1323.4,1433.6 L1323.5,1432.7 L1323.6,1431.8 L1323.6,1430.8 L1323.7,1430.0 L1323.8,1429.1 L1323.8,1428.2 L1323.9,1427.4 L1324.0,1426.6 L1324.1,1425.4 L1324.3,1424.1 L1324.4,1422.8 L1324.5,1421.4 L1324.7,1420.1 L1324.8,1418.7 L1324.9,1417.3 L1325.1,1415.9 L1325.2,1414.6 L1325.3,1413.2 L1325.5,1411.9 L1325.6,1410.5 L1325.7,1409.2 L1325.9,1408.0 L1326.0,1406.7 L1326.1,1405.6 L1326.3,1404.4 L1326.4,1403.4 L1326.5,1402.4 L1326.7,1401.4 L1326.8,1400.5 L1327.0,1399.8 L1327.1,1399.1 L1327.2,1398.5 L1327.4,1397.9 L1327.5,1397.5 L1328.3,1397.5 L1328.4,1397.8 L1328.5,1398.2 L1328.6,1398.6 L1328.7,1399.1 L1328.7,1399.6 L1328.8,1400.2 L1328.9,1400.8 L1329.0,1401.5 L1329.1,1402.3 L1329.2,1403.0 L1329.3,1403.9 L1329.4,1404.7 L1329.5,1405.6 L1329.6,1406.6 L1329.7,1407.5 L1329.8,1408.6 L1329.9,1409.6 L1330.0,1410.7 L1330.0,1411.8 L1330.1,1412.9 L1330.2,1414.1 L1330.3,1415.3 L1330.4,1416.5 L1330.5,1417.7 L1330.6,1419.0 L1330.7,1420.2 L1330.8,1421.5 L1330.9,1422.8 L1331.0,1424.1 L1331.1,1425.4 L1331.2,1426.8 L1331.3,1428.1 L1331.3,1429.4 L1331.4,1430.7 L1331.5,1432.1 L1331.6,1433.4 L1331.7,1434.7 L1331.8,1436.1 L1331.9,1437.4 L1332.0,1438.7 L1332.1,1440.0 L1332.2,1441.3 L1332.3,1442.5 L1332.4,1443.8 L1332.5,1445.0 L1332.6,1446.2 L1332.7,1447.4 L1332.8,1448.6 L1332.9,1449.7 L1333.0,1450.9 L1333.1,1451.9 L1333.2,1453.0 L1333.3,1454.0 L1333.4,1454.9 L1333.5,1455.9 L1333.5,1456.9 L1333.6,1458.0 L1333.7,1459.0 L1333.7,1460.1 L1333.8,1461.1 L1333.8,1462.2 L1333.9,1463.3 L1333.9,1464.4 L1334.0,1465.5 L1334.0,1466.6 L1334.1,1467.7 L1334.1,1468.8 L1334.2,1469.9 L1334.2,1471.0 L1334.2,1472.2 L1334.3,1473.3 L1334.3,1474.5 L1334.3,1475.6 L1334.4,1476.8 L1334.4,1477.9 L1334.4,1479.1 L1334.5,1480.2 L1334.5,1481.4 L1334.6,1482.5 L1334.6,1483.6 L1334.6,1484.8 L1334.7,1485.9 L1334.7,1487.1 L1334.8,1488.2 L1334.8,1489.3 L1334.9,1490.4 L1334.9,1491.5 L1335.0,1492.6 L1335.1,1493.7 L1335.1,1494.8 L1335.2,1495.9 L1335.3,1497.0 L1335.4,1498.0 L1335.5,1499.1 L1335.5,1500.1 L1335.6,1501.1 L1335.7,1502.1 L1335.9,1503.1 L1336.0,1504.1 L1336.1,1505.0 L1336.2,1506.0 L1336.4,1506.9 L1336.5,1507.8 L1336.7,1508.7 L1336.8,1509.6 L1337.0,1510.4 L1337.2,1511.2 L1337.4,1512.0 L1337.6,1512.8 L1337.8,1513.6 L1338.0,1514.3 L1338.2,1515.0 L1338.5,1515.7 L1338.7,1516.4 L1339.8,1518.8 L1341.1,1520.9 L1342.5,1522.8 L1344.0,1525.4 L1345.6,1522.9 L1347.3,1530.5 L1349.1,1526.3 L1351.0,1532.2 L1353.0,1524.9 L1354.7,1532.8 L1356.5,1524.1 L1358.4,1534.1 L1360.4,1528.0 L1361.4,1534.0 L1362.5,1526.4 L1363.5,1532.9 L1364.6,1524.1 L1365.7,1533.4 L1366.7,1525.5 L1367.8,1531.4 L1368.9,1524.3 L1370.0,1530.3 L1371.1,1524.3 L1372.1,1532.6 L1373.2,1522.1 L1374.3,1530.8 L1375.3,1523.2 L1376.3,1531.2 L1377.3,1523.8 L1379.3,1529.5 L1380.4,1522.4 L1381.4,1528.5 L1382.4,1521.5 L1383.4,1528.7 L1384.4,1525.7 L1386.4,1533.1 L1388.4,1523.5 L1390.4,1533.9 L1392.3,1524.5 L1394.3,1533.7 L1396.3,1524.8 L1397.3,1533.8 L1398.3,1524.5 L1399.4,1532.9 L1400.4,1524.9 L1402.3,1534.3 L1404.3,1524.9 L1405.3,1531.6 L1406.3,1525.7 L1407.4,1532.9 L1408.4,1526.6 L1409.5,1529.9 L1410.5,1522.9 L1411.6,1533.4 L1412.7,1526.0 L1413.7,1531.5 L1414.8,1521.2 L1415.8,1530.2 L1416.8,1522.1 L1417.8,1520.5 L1419.8,1523.9 L1421.7,1526.7 L1423.5,1521.8 L1425.2,1523.9 L1426.7,1518.4 L1428.0,1520.9 L1429.2,1517.5 L1430.3,1517.7 L1431.3,1515.1 L1432.7,1512.8 L1433.9,1509.6 L1434.3,1508.6 L1434.7,1507.6 L1435.0,1506.6 L1435.4,1505.5 L1435.7,1504.5 L1436.1,1503.4 L1436.4,1502.4 L1436.8,1501.3 L1437.1,1500.3 L1437.4,1499.3 L1437.8,1498.3 L1438.1,1497.2 L1438.5,1496.3 L1438.8,1495.3 L1439.2,1494.3 L1440.3,1491.3 L1441.5,1488.7 L1442.7,1485.5 L1443.5,1483.8 L1443.9,1482.8 L1444.2,1481.9 L1444.6,1480.9 L1445.0,1480.0 L1445.3,1479.0 L1445.7,1478.1 L1446.0,1477.2 L1446.4,1476.2 L1446.7,1475.3 L1447.1,1474.4 L1447.4,1473.4 L1447.8,1472.5 L1448.1,1471.6 L1448.4,1470.6 L1448.8,1469.7 L1449.1,1468.8 L1449.5,1467.7 L1449.8,1466.6 L1450.1,1465.4 L1450.5,1464.1 L1450.8,1462.9 L1451.1,1461.5 L1451.5,1460.2 L1451.8,1458.9 L1452.1,1457.6 L1452.4,1456.3 L1452.7,1455.1 L1453.0,1453.9 L1453.3,1452.8 L1453.6,1451.8 L1453.9,1450.8 L1454.2,1450.0 L1455.4,1448.1 L1456.5,1448.9 L1457.0,1449.9 L1457.2,1450.5 L1457.4,1451.2 L1457.6,1452.0 L1457.8,1452.8 L1457.9,1453.7 L1458.1,1454.7 L1458.3,1455.7 L1458.5,1456.8 L1458.7,1457.9 L1458.9,1459.1 L1459.1,1460.3 L1459.3,1461.5 L1459.5,1462.8 L1459.7,1464.0 L1459.9,1465.4 L1460.1,1466.7 L1460.3,1468.0 L1460.4,1469.3 L1460.6,1470.7 L1460.8,1472.0 L1461.0,1473.4 L1461.2,1474.7 L1461.4,1476.0 L1461.6,1477.3 L1461.8,1478.5 L1462.1,1479.8 L1462.3,1481.0 L1462.5,1482.1 L1462.7,1483.2 L1462.9,1484.3 L1463.1,1485.3 L1463.4,1486.3 L1463.6,1487.2 L1463.9,1488.3 L1464.2,1489.5 L1464.4,1490.7 L1464.7,1491.8 L1464.9,1493.0 L1465.2,1494.2 L1465.4,1495.4 L1465.7,1496.6 L1465.9,1497.8 L1466.2,1498.9 L1466.4,1500.1 L1466.7,1501.2 L1467.0,1502.2 L1467.3,1503.3 L1467.6,1504.3 L1467.9,1505.3 L1469.1,1507.9 L1470.4,1509.9 L1471.5,1510.9 L1473.2,1512.3 L1475.2,1509.6 L1476.2,1514.6 L1477.3,1506.7 L1478.4,1514.2 L1479.5,1504.8 L1480.6,1514.5 L1481.7,1508.7 L1482.8,1513.8 L1484.7,1509.4 L1485.9,1514.5 L1487.1,1511.2 L1488.1,1516.4 L1489.6,1516.3 L1491.0,1522.9 L1492.5,1521.8 L1493.5,1526.9 L1494.6,1526.6 L1495.7,1532.1 L1497.0,1530.3 L1498.4,1535.0 L1500.1,1529.2 L1501.9,1538.2 L1503.8,1527.9 L1505.7,1535.4 L1506.8,1527.9 L1507.8,1534.2 L1508.8,1525.6 L1509.9,1535.5 L1510.9,1527.2 L1512.0,1533.3 L1513.1,1525.1 L1514.1,1531.9 L1515.2,1524.7 L1516.3,1533.8 L1517.4,1523.8 L1518.4,1533.1 L1519.5,1527.0 L1521.4,1531.9 L1523.4,1526.5 L1525.4,1533.4 L1526.4,1527.9 L1527.4,1536.5 L1528.4,1528.5 L1529.5,1535.9 L1530.5,1526.6 L1531.5,1546.1 L1532.5,1525.8 L1533.6,1535.8 L1534.6,1526.7 L1535.6,1538.0 L1536.7,1527.0 L1537.7,1537.7 L1538.7,1530.4 L1539.8,1535.1 L1540.8,1529.3 L1541.8,1537.3 L1542.9,1528.1 L1543.9,1538.5 L1544.9,1532.3 L1545.9,1537.5 L1547.9,1530.7 L1549.9,1540.6 L1551.9,1532.9 L1552.9,1543.0 L1553.9,1534.6 L1554.9,1543.5 L1555.9,1532.6 L1556.9,1543.7 L1558.9,1534.7 L1560.8,1541.8 L1562.8,1535.6 L1564.8,1546.0 L1566.7,1537.5 L1568.6,1544.3 L1570.4,1539.7 L1572.2,1546.4 L1573.3,1539.9 L1574.3,1550.6 L1575.4,1537.2 L1576.4,1543.6 L1577.4,1538.9 L1578.5,1546.7 L1579.5,1538.4 L1580.5,1542.2 L1581.5,1534.1 L1583.5,1542.4 L1585.4,1532.5 L1587.2,1541.9 L1589.0,1534.7 L1590.7,1541.0 L1592.2,1536.7 L1593.6,1541.4 L1594.8,1539.6 L1596.0,1546.9 L1597.2,1543.6 L1598.3,1549.4 L1599.5,1547.9 L1600.8,1552.3 L1602.2,1549.1 L1603.8,1556.0 L1605.5,1551.0 L1607.4,1556.9 L1609.4,1547.1 L1610.4,1555.3 L1611.4,1547.2 L1612.5,1557.8 L1613.5,1547.4 L1614.6,1551.1 L1615.7,1546.2 L1616.8,1553.8 L1617.8,1545.0 L1618.9,1554.7 L1620.0,1547.6 L1621.0,1554.5 L1622.0,1547.2 L1623.0,1553.2 L1625.0,1545.0 L1626.9,1551.5 L1628.7,1540.4 L1630.5,1547.1 L1632.3,1538.1 L1634.1,1546.8 L1635.9,1534.9 L1637.6,1544.8 L1639.3,1538.0 L1640.9,1543.4 L1642.6,1534.9 L1644.2,1540.6 L1645.7,1535.4 L1647.1,1540.9 L1648.5,1537.8 L1649.8,1544.8 L1651.1,1540.0 L1652.5,1549.5 L1653.8,1545.7 L1655.3,1552.0 L1656.8,1546.4 L1658.4,1556.6 L1660.1,1546.9 L1661.9,1560.0 L1663.8,1551.4 L1665.8,1556.5 L1666.8,1551.8 L1667.8,1558.3 L1668.9,1551.5 L1669.9,1557.3 L1670.9,1547.7 L1672.0,1558.2 L1673.0,1550.4 L1674.1,1555.9 L1675.1,1548.7 L1676.2,1554.9 L1677.2,1546.7 L1678.3,1553.2 L1679.3,1545.5 L1680.3,1556.1 L1681.3,1546.8 L1682.4,1555.8 L1683.5,1546.4 L1684.6,1555.1 L1685.7,1546.8 L1686.9,1553.0 L1688.0,1543.6 L1689.2,1554.4 L1690.4,1546.8 L1691.5,1554.7 L1692.7,1545.4 L1693.8,1552.6 L1694.9,1543.6 L1695.9,1551.2 L1696.9,1545.6 L1698.8,1553.2 L1700.5,1544.2 L1701.9,1546.2 L1703.8,1545.8 L1705.5,1545.0 L1706.0,1543.8 L1706.2,1542.9 L1706.3,1541.9 L1706.4,1540.7 L1706.5,1539.4 L1706.6,1538.1 L1706.6,1536.7 L1706.6,1535.3 L1706.6,1533.9 L1706.6,1532.5 L1706.6,1531.2 L1706.6,1530.0 L1706.5,1528.9 L1706.5,1527.9 L1706.5,1527.1 L1706.5,1526.5 L1706.6,1526.1 L1706.6,1526.1 L1706.7,1526.5 L1706.7,1527.1 L1706.7,1527.9 L1706.7,1528.8 L1706.7,1529.9 L1706.6,1531.1 L1706.6,1532.3 L1706.6,1533.7 L1706.6,1535.1 L1706.6,1536.5 L1706.7,1537.8 L1706.7,1539.2 L1706.8,1540.5 L1706.9,1541.7 L1707.0,1542.7 L1707.2,1543.7 L1707.4,1544.4 L1708.6,1546.0 L1709.6,1546.5 L1711.0,1547.0 L1712.3,1547.5 L1713.9,1551.1 L1715.8,1546.2 L1717.8,1555.2 L1718.9,1546.2 L1720.0,1553.6 L1721.1,1547.4 L1722.3,1552.9 L1723.4,1546.9 L1724.6,1552.2 L1725.8,1544.5 L1726.9,1554.8 L1728.1,1547.8 L1729.2,1554.4 L1730.3,1545.9 L1732.2,1553.6 L1734.2,1547.4 L1735.3,1553.5 L1736.3,1548.1 L1737.3,1555.4 L1738.4,1545.0 L1739.5,1552.1 L1740.6,1545.7 L1741.6,1550.9 L1742.7,1542.3 L1743.8,1549.9 L1744.9,1543.9 L1745.9,1549.5 L1747.0,1540.7 L1748.1,1549.2 L1749.1,1543.2 L1750.1,1551.0 L1751.1,1540.4 L1753.1,1551.0 L1754.9,1540.0 L1756.7,1550.8 L1757.9,1539.2 L1759.0,1548.9 L1760.1,1540.2 L1761.2,1549.9 L1762.2,1541.6 L1763.2,1551.9 L1765.2,1542.3 L1767.2,1551.1 L1769.1,1542.1 L1771.0,1550.5 L1772.9,1542.6 L1774.8,1550.7 L1776.6,1539.8 L1778.4,1545.1 L1780.2,1538.9 L1781.9,1544.6 L1783.6,1532.8 L1785.3,1543.8 L1787.0,1531.4 L1788.7,1537.6 L1790.2,1534.2 L1791.6,1532.6 L1792.7,1531.0 L1793.9,1528.9 L1794.5,1527.3 L1794.9,1526.4 L1795.2,1525.6 L1795.5,1524.7 L1795.7,1523.8 L1796.0,1522.9 L1796.3,1521.9 L1796.5,1521.0 L1796.8,1520.0 L1797.0,1519.0 L1797.2,1518.0 L1797.4,1517.0 L1797.6,1515.9 L1797.8,1514.9 L1798.1,1513.8 L1798.2,1512.7 L1798.4,1511.6 L1798.6,1510.5 L1798.8,1509.4 L1799.0,1508.3 L1799.2,1507.2 L1799.4,1506.1 L1799.6,1505.0 L1799.8,1503.8 L1800.0,1502.7 L1800.1,1501.9 L1800.3,1501.0 L1800.4,1500.1 L1800.6,1499.2 L1800.7,1498.4 L1800.8,1497.5 L1801.0,1496.6 L1801.1,1495.6 L1801.2,1494.7 L1801.4,1493.8 L1801.5,1492.8 L1801.6,1491.9 L1801.7,1490.9 L1801.8,1490.0 L1801.9,1489.0 L1802.1,1488.0 L1802.2,1487.1 L1802.3,1486.1 L1802.4,1485.1 L1802.5,1484.1 L1802.6,1483.1 L1802.7,1482.0 L1802.8,1481.0 L1802.9,1480.0 L1802.9,1479.0 L1803.0,1477.9 L1803.1,1476.9 L1803.2,1475.9 L1803.3,1474.8 L1803.4,1473.8 L1803.5,1472.7 L1803.6,1471.7 L1803.6,1470.6 L1803.7,1469.5 L1803.8,1468.5 L1803.9,1467.4 L1803.9,1466.3 L1804.0,1465.3 L1804.1,1464.2 L1804.2,1463.1 L1804.2,1462.1 L1804.3,1461.0 L1804.4,1459.9 L1804.5,1458.8 L1804.5,1457.8 L1804.6,1456.7 L1804.7,1455.6 L1804.7,1454.6 L1804.8,1453.5 L1804.9,1452.4 L1804.9,1451.4 L1805.0,1450.3 L1805.1,1449.2 L1805.1,1448.2 L1805.2,1447.1 L1805.3,1446.1 L1805.3,1445.2 L1805.4,1444.2 L1805.4,1443.2 L1805.5,1442.2 L1805.5,1441.3 L1805.6,1440.3 L1805.6,1439.3 L1805.7,1438.3 L1805.7,1437.3 L1805.8,1436.3 L1805.8,1435.3 L1805.9,1434.3 L1805.9,1433.3 L1806.0,1432.3 L1806.0,1431.3 L1806.0,1430.3 L1806.1,1429.3 L1806.1,1428.3 L1806.2,1427.3 L1806.2,1426.3 L1806.2,1425.3 L1806.3,1424.3 L1806.3,1423.3 L1806.3,1422.3 L1806.4,1421.2 L1806.4,1420.2 L1806.4,1419.2 L1806.5,1418.2 L1806.5,1417.2 L1806.5,1416.1 L1806.5,1415.1 L1806.6,1414.1 L1806.6,1413.1 L1806.6,1412.0 L1806.6,1411.0 L1806.7,1410.0 L1806.7,1409.0 L1806.7,1407.9 L1806.7,1406.9 L1806.8,1405.9 L1806.8,1404.9 L1806.8,1403.8 L1806.8,1402.8 L1806.9,1401.8 L1806.9,1400.7 L1806.9,1399.7 L1806.9,1398.7 L1807.0,1397.7 L1807.0,1396.6 L1807.0,1395.6 L1807.0,1394.6 L1807.1,1393.6 L1807.1,1392.5 L1807.1,1391.5 L1807.1,1390.5 L1807.2,1389.5 L1807.2,1388.4 L1807.2,1387.4 L1807.2,1386.4 L1807.3,1385.4 L1807.3,1384.4 L1807.3,1383.3 L1807.3,1382.3 L1807.4,1381.3 L1807.4,1380.3 L1807.4,1379.3 L1807.5,1378.3 L1807.5,1377.3 L1807.5,1376.3 L1807.5,1375.2 L1807.6,1374.2 L1807.6,1373.2 L1807.6,1372.2 L1807.6,1371.2 L1807.7,1370.2 L1807.7,1369.2 L1807.7,1368.2 L1807.7,1367.1 L1807.8,1366.1 L1807.8,1365.1 L1807.8,1364.1 L1807.8,1363.1 L1807.9,1362.1 L1807.9,1361.1 L1807.9,1360.1 L1807.9,1359.0 L1808.0,1358.0 L1808.0,1357.0 L1808.0,1356.0 L1808.0,1355.0 L1808.0,1354.0 L1808.1,1353.0 L1808.1,1352.0 L1808.1,1350.9 L1808.1,1349.9 L1808.2,1348.9 L1808.2,1347.9 L1808.2,1346.9 L1808.2,1345.9 L1808.2,1344.9 L1808.3,1343.9 L1808.3,1342.8 L1808.3,1341.8 L1808.3,1340.8 L1808.4,1339.8 L1808.4,1338.8 L1808.4,1337.8 L1808.4,1336.8 L1808.4,1335.8 L1808.5,1334.8 L1808.5,1333.7 L1808.5,1332.7 L1808.5,1331.7 L1808.6,1330.7 L1808.6,1329.7 L1808.6,1328.7 L1808.6,1327.7 L1808.7,1326.7 L1808.7,1325.6 L1808.7,1324.6 L1808.7,1323.6 L1808.8,1322.6 L1808.8,1321.6 L1808.8,1320.6 L1808.8,1319.6 L1808.9,1318.6 L1808.9,1317.5 L1808.9,1316.5 L1808.9,1315.5 L1809.0,1314.5 L1809.0,1313.5 L1809.0,1312.5 L1809.1,1311.5 L1809.1,1310.4 L1809.1,1309.4 L1809.1,1308.4 L1809.2,1307.3 L1809.2,1306.3 L1809.2,1305.3 L1809.3,1304.2 L1809.3,1303.2 L1809.3,1302.1 L1809.4,1301.0 L1809.4,1300.0 L1809.4,1298.9 L1809.5,1297.8 L1809.5,1296.8 L1809.5,1295.7 L1809.6,1294.6 L1809.6,1293.6 L1809.6,1292.5 L1809.7,1291.4 L1809.7,1290.4 L1809.7,1289.3 L1809.8,1288.2 L1809.8,1287.1 L1809.8,1286.1 L1809.9,1285.0 L1809.9,1283.9 L1809.9,1282.9 L1810.0,1281.8 L1810.0,1280.7 L1810.0,1279.7 L1810.1,1278.6 L1810.1,1277.6 L1810.1,1276.5 L1810.2,1275.5 L1810.2,1274.4 L1810.2,1273.4 L1810.3,1272.3 L1810.3,1271.3 L1810.4,1270.3 L1810.4,1269.3 L1810.4,1268.2 L1810.5,1267.2 L1810.5,1266.2 L1810.5,1265.2 L1810.6,1264.2 L1810.6,1263.2 L1810.6,1262.2 L1810.7,1261.3 L1810.7,1260.3 L1810.7,1259.3 L1810.8,1258.4 L1810.8,1257.4 L1810.8,1256.5 L1810.9,1255.6 L1810.9,1254.7 L1810.9,1253.7 L1811.0,1252.8 L1811.0,1251.9 L1811.0,1251.1 L1811.1,1250.2 L1811.1,1249.3 L1811.1,1248.5 L1811.2,1247.6 L1811.2,1246.8 L1811.2,1245.6 L1811.3,1244.4 L1811.3,1243.2 L1811.4,1242.0 L1811.4,1240.9 L1811.5,1239.7 L1811.5,1238.6 L1811.5,1237.5 L1811.6,1236.4 L1811.6,1235.3 L1811.6,1234.2 L1811.7,1233.1 L1811.7,1232.1 L1811.8,1231.0 L1811.8,1230.0 L1811.8,1228.9 L1811.9,1227.9 L1811.9,1226.9 L1812.0,1225.9 L1812.0,1225.0 L1812.0,1224.0 L1812.1,1223.1 L1812.1,1222.1 L1812.2,1221.2 L1812.2,1220.3 L1812.3,1219.4 L1812.3,1218.5 L1812.4,1217.6 L1812.5,1216.7 L1812.5,1215.8 L1812.6,1215.0 L1812.7,1213.7 L1812.8,1212.4 L1812.9,1211.0 L1813.1,1209.7 L1813.2,1208.3 L1813.3,1206.9 L1813.4,1205.6 L1813.6,1204.4 L1813.7,1203.2 L1813.8,1202.2 L1814.0,1201.3 L1814.1,1200.5 L1814.2,1200.0 L1814.8,1200.0 L1814.9,1200.5 L1815.0,1201.3 L1815.2,1202.2 L1815.3,1203.2 L1815.4,1204.4 L1815.6,1205.6 L1815.7,1206.9 L1815.8,1208.3 L1815.9,1209.7 L1816.1,1211.0 L1816.2,1212.4 L1816.3,1213.7 L1816.4,1215.0 L1816.5,1215.8 L1816.5,1216.7 L1816.6,1217.6 L1816.7,1218.5 L1816.7,1219.4 L1816.8,1220.3 L1816.8,1221.2 L1816.9,1222.1 L1817.0,1223.1 L1817.0,1224.0 L1817.1,1225.0 L1817.1,1225.9 L1817.2,1226.9 L1817.2,1227.9 L1817.3,1228.9 L1817.3,1230.0 L1817.3,1231.0 L1817.4,1232.1 L1817.4,1233.1 L1817.5,1234.2 L1817.5,1235.3 L1817.6,1236.4 L1817.6,1237.5 L1817.6,1238.6 L1817.7,1239.7 L1817.7,1240.9 L1817.7,1242.0 L1817.8,1243.2 L1817.8,1244.4 L1817.9,1245.6 L1817.9,1246.8 L1817.9,1247.6 L1818.0,1248.5 L1818.0,1249.3 L1818.0,1250.2 L1818.0,1251.1 L1818.0,1251.9 L1818.1,1252.8 L1818.1,1253.7 L1818.1,1254.7 L1818.1,1255.6 L1818.1,1256.5 L1818.2,1257.4 L1818.2,1258.4 L1818.2,1259.3 L1818.2,1260.3 L1818.2,1261.3 L1818.3,1262.2 L1818.3,1263.2 L1818.3,1264.2 L1818.3,1265.2 L1818.3,1266.2 L1818.3,1267.2 L1818.4,1268.2 L1818.4,1269.3 L1818.4,1270.3 L1818.4,1271.3 L1818.4,1272.3 L1818.4,1273.4 L1818.4,1274.4 L1818.5,1275.5 L1818.5,1276.5 L1818.5,1277.6 L1818.5,1278.6 L1818.5,1279.7 L1818.5,1280.7 L1818.5,1281.8 L1818.5,1282.9 L1818.6,1283.9 L1818.6,1285.0 L1818.6,1286.1 L1818.6,1287.1 L1818.6,1288.2 L1818.6,1289.3 L1818.6,1290.4 L1818.6,1291.4 L1818.7,1292.5 L1818.7,1293.6 L1818.7,1294.6 L1818.7,1295.7 L1818.7,1296.8 L1818.7,1297.9 L1818.7,1298.9 L1818.8,1300.0 L1818.8,1301.0 L1818.8,1302.1 L1818.8,1303.2 L1818.8,1304.2 L1818.8,1305.3 L1818.9,1306.3 L1818.9,1307.3 L1818.9,1308.4 L1818.9,1309.4 L1818.9,1310.4 L1819.0,1311.5 L1819.0,1312.5 L1819.0,1313.5 L1819.0,1314.5 L1819.0,1315.5 L1819.1,1316.6 L1819.1,1317.6 L1819.1,1318.6 L1819.1,1319.7 L1819.1,1320.7 L1819.2,1321.8 L1819.2,1322.8 L1819.2,1323.9 L1819.2,1324.9 L1819.2,1326.0 L1819.3,1327.1 L1819.3,1328.1 L1819.3,1329.2 L1819.3,1330.3 L1819.3,1331.4 L1819.4,1332.4 L1819.4,1333.5 L1819.4,1334.6 L1819.4,1335.7 L1819.4,1336.8 L1819.5,1337.8 L1819.5,1338.9 L1819.5,1340.0 L1819.5,1341.1 L1819.5,1342.1 L1819.6,1343.2 L1819.6,1344.3 L1819.6,1345.4 L1819.6,1346.4 L1819.7,1347.5 L1819.7,1348.6 L1819.7,1349.6 L1819.7,1350.7 L1819.8,1351.7 L1819.8,1352.8 L1819.8,1353.8 L1819.8,1354.9 L1819.9,1355.9 L1819.9,1357.0 L1819.9,1358.0 L1819.9,1359.0 L1820.0,1360.0 L1820.0,1361.0 L1820.0,1362.0 L1820.0,1363.0 L1820.1,1364.0 L1820.1,1365.0 L1820.1,1366.0 L1820.2,1366.9 L1820.2,1367.9 L1820.2,1368.8 L1820.3,1369.8 L1820.3,1370.7 L1820.3,1371.6 L1820.4,1372.6 L1820.4,1373.5 L1820.4,1374.3 L1820.5,1375.2 L1820.5,1376.1 L1820.5,1377.0 L1820.6,1377.8 L1820.6,1378.7 L1820.7,1379.5 L1820.7,1380.3 L1820.8,1381.5 L1820.8,1382.7 L1820.9,1383.9 L1820.9,1385.1 L1821.0,1386.3 L1821.1,1387.4 L1821.1,1388.5 L1821.2,1389.6 L1821.2,1390.7 L1821.3,1391.8 L1821.3,1392.9 L1821.4,1394.0 L1821.5,1395.0 L1821.5,1396.0 L1821.6,1397.1 L1821.7,1398.1 L1821.8,1399.1 L1821.8,1400.0 L1821.9,1401.0 L1822.0,1402.0 L1822.1,1402.9 L1822.2,1403.8 L1822.3,1404.7 L1822.4,1405.6 L1822.5,1406.5 L1822.6,1407.4 L1822.7,1408.3 L1822.9,1409.2 L1823.0,1410.0 L1823.2,1411.2 L1823.4,1412.3 L1823.6,1413.4 L1823.7,1414.5 L1823.9,1415.6 L1824.1,1416.6 L1824.4,1417.7 L1824.6,1418.7 L1824.8,1419.6 L1825.1,1420.6 L1825.4,1421.5 L1825.7,1422.4 L1826.8,1424.8 L1828.1,1426.9 L1829.5,1428.9 L1831.1,1432.0 L1832.7,1427.7 L1834.0,1432.9 L1835.3,1427.6 L1836.5,1431.9 L1837.7,1421.8 L1838.9,1427.3 L1840.1,1417.8 L1841.3,1423.9 L1842.6,1416.7 L1843.8,1420.5 L1845.1,1413.8 L1846.2,1413.8 L1847.3,1413.9 L1848.6,1415.3 L1849.9,1418.1 L1850.3,1419.2 L1850.7,1420.3 L1851.1,1421.6 L1851.5,1422.9 L1851.9,1424.2 L1852.3,1425.5 L1852.7,1426.8 L1853.1,1428.1 L1853.5,1429.3 L1853.7,1430.1 L1854.0,1430.9 L1854.2,1431.7 L1854.4,1432.6 L1854.7,1433.5 L1854.9,1434.4 L1855.1,1435.4 L1855.3,1436.3 L1855.5,1437.3 L1855.7,1438.4 L1855.9,1439.4 L1856.1,1440.4 L1856.3,1441.5 L1856.5,1442.6 L1856.7,1443.7 L1856.9,1444.8 L1857.1,1445.9 L1857.3,1447.0 L1857.5,1448.1 L1857.7,1449.2 L1857.9,1450.3 L1858.1,1451.4 L1858.3,1452.5 L1858.5,1453.6 L1858.7,1454.7 L1858.9,1455.8 L1859.1,1456.9 L1859.3,1458.0 L1859.6,1459.0 L1859.8,1460.1 L1860.0,1461.1 L1860.3,1462.1 L1860.5,1463.1 L1860.7,1464.1 L1861.0,1465.0 L1861.3,1465.9 L1861.5,1466.8 L1861.8,1467.7 L1862.1,1468.5 L1862.4,1469.3 L1862.8,1470.4 L1863.3,1471.6 L1863.7,1472.7 L1864.2,1473.9 L1864.6,1475.1 L1866.1,1478.5 L1867.6,1480.5 L1868.6,1484.3 L1869.7,1483.3 L1870.7,1487.6 L1871.8,1484.4 L1873.2,1489.8 L1874.8,1482.9 L1876.6,1485.9 L1878.3,1481.3 L1879.9,1480.8 L1881.3,1480.5 L1882.5,1481.5 L1883.5,1483.6 L1883.8,1484.5 L1884.0,1485.5 L1884.3,1486.5 L1884.5,1487.6 L1884.7,1488.7 L1885.0,1489.9 L1885.2,1491.1 L1885.4,1492.3 L1885.7,1493.5 L1885.9,1494.8 L1886.2,1496.0 L1886.4,1497.2 L1886.7,1498.4 L1887.0,1499.6 L1887.3,1500.7 L1887.6,1501.7 L1888.0,1502.7 L1888.4,1503.7 L1888.8,1504.6 L1890.0,1507.6 L1891.2,1510.6 L1892.6,1513.6 L1894.0,1518.5 L1895.5,1518.5 L1896.5,1523.1 L1897.5,1520.5 L1898.6,1525.7 L1899.8,1522.5 L1901.2,1529.3 L1902.7,1526.9 L1904.1,1534.6 L1905.7,1527.2 L1907.3,1534.3 L1909.1,1528.7 L1910.8,1538.3 L1912.5,1532.3 L1914.3,1542.7 L1916.2,1533.8 L1918.1,1543.8 L1920.0,1533.9 L1921.1,1543.3 L1922.1,1536.5 L1923.1,1545.1 L1924.2,1536.8 L1925.2,1544.5 L1926.3,1537.7 L1927.4,1544.5 L1928.5,1534.5 L1930.3,1546.1 L1932.1,1537.4 L1934.1,1545.8 L1936.0,1539.9 L1938.0,1545.9 L1939.0,1539.8 L1940.1,1541.9 L1941.1,1537.5 L1942.1,1545.1 L1943.2,1540.5 L1944.2,1548.6 L1945.2,1538.7 L1946.3,1548.5 L1947.3,1539.2 L1948.4,1546.4 L1949.4,1540.0 L1950.5,1547.1 L1951.5,1538.8 L1952.6,1548.2 L1953.6,1536.6 L1954.6,1546.5 L1955.7,1538.2 L1956.7,1549.2 L1957.7,1538.8 L1958.7,1546.2 L1959.7,1539.6 L1960.8,1547.9 L1961.8,1539.7 L1962.8,1546.1 L1963.9,1540.3 L1964.9,1546.0 L1966.0,1540.3 L1967.0,1547.1 L1968.1,1540.7 L1969.2,1546.5 L1970.2,1541.1 L1971.3,1550.7 L1972.3,1538.2 L1973.4,1546.9 L1974.4,1542.8 L1975.4,1549.8 L1976.4,1541.0 L1977.5,1550.1 L1978.5,1538.9 L1980.4,1549.9 L1982.3,1542.8 L1984.2,1550.5 L1985.9,1544.6 L1988.0,1548.1 L1989.1,1542.8 L1990.2,1549.4 L1991.3,1538.2 L1992.4,1549.3 L1993.4,1539.7 L1994.5,1549.1 L1995.5,1537.0 L1997.5,1545.6 L1999.4,1536.0 L2001.3,1543.9 L2003.3,1540.1 L2005.1,1545.9 L2006.9,1538.7 L2008.6,1550.8 L2010.4,1541.5 L2012.1,1551.4 L2014.0,1542.7 L2016.0,1556.3 L2017.8,1544.6 L2019.7,1554.9 L2021.6,1547.7 L2023.5,1553.1 L2025.5,1542.2 L2026.5,1553.9 L2027.5,1542.8 L2028.6,1550.9 L2029.6,1540.9 L2030.7,1551.8 L2031.8,1545.2 L2033.0,1550.9 L2034.1,1543.7 L2035.3,1552.3 L2037.0,1544.2 L2038.7,1551.6 L2040.5,1541.1 L2042.4,1551.1 L2044.3,1545.9 L2046.3,1552.2 L2048.3,1544.8 L2049.3,1552.2 L2050.3,1545.1 L2051.3,1555.8 L2052.4,1548.2 L2053.4,1554.3 L2054.4,1549.0 L2055.5,1554.0 L2056.5,1547.6 L2057.6,1555.2 L2058.6,1548.6 L2059.7,1561.3 L2060.7,1550.6 L2061.8,1559.6 L2062.8,1550.9 L2063.9,1557.3 L2064.9,1548.8 L2066.0,1560.2 L2067.0,1549.1 L2068.1,1559.2 L2069.1,1551.4 L2070.1,1556.3 L2071.2,1548.6 L2072.2,1557.3 L2073.2,1548.7 L2074.2,1557.4 L2076.2,1548.9 L2077.2,1558.2 L2078.2,1548.8 L2079.2,1558.3 L2080.2,1551.1 L2081.2,1557.5 L2082.2,1549.9 L2083.3,1560.2 L2084.3,1547.9 L2085.3,1558.3 L2086.3,1551.5 L2087.3,1558.5 L2088.4,1548.5 L2089.4,1557.5 L2090.4,1548.7 L2091.4,1559.5 L2092.4,1547.0 L2093.4,1558.5 L2094.4,1549.4 L2095.5,1556.7 L2096.5,1548.7 L2097.5,1557.1 L2098.5,1545.4 L2099.5,1554.8 L2101.5,1546.6 L2103.4,1553.4 L2105.4,1547.0 L2107.3,1556.6 L2109.3,1543.5 L2111.1,1555.9 L2113.0,1543.2 L2114.1,1554.0 L2115.1,1545.5 L2116.2,1555.1 L2117.2,1543.4 L2118.2,1551.7 L2119.3,1546.3 L2120.3,1553.1 L2121.3,1545.7 L2122.3,1551.3 L2124.3,1543.6 L2126.3,1551.7 L2128.2,1544.6 L2130.2,1552.8 L2132.2,1544.1 L2134.1,1549.1 L2136.1,1541.4 L2138.0,1549.7 L2140.0,1542.4 L2142.0,1547.3 L2143.0,1540.2 L2144.0,1548.5 L2145.1,1540.6 L2146.1,1548.9 L2147.1,1538.6 L2148.2,1550.8 L2149.2,1541.6 L2150.2,1547.3 L2151.3,1536.8 L2152.3,1548.9 L2153.4,1537.4 L2154.4,1545.7 L2155.5,1540.8 L2156.5,1545.2 L2157.6,1536.9 L2158.6,1548.3 L2159.6,1535.8 L2160.6,1548.1 L2161.7,1539.1 L2162.7,1544.9 L2163.7,1536.2 L2165.7,1543.5 L2167.6,1535.7 L2169.5,1546.5 L2171.3,1536.4 L2172.4,1545.8 L2173.4,1539.2 L2175.3,1547.0 L2177.2,1539.7 L2179.0,1549.0 L2180.8,1547.1 L2182.6,1547.1 L2184.5,1542.0 L2186.4,1549.5 L2187.4,1540.0 L2188.5,1551.7 L2189.6,1544.9 L2190.7,1550.4 L2192.4,1543.1 L2194.2,1556.5 L2196.0,1542.7 L2197.8,1552.3 L2199.7,1542.4 L2201.6,1554.7 L2203.6,1546.7 L2204.6,1551.7 L2205.6,1544.3 L2206.7,1551.6 L2207.7,1545.1 L2208.7,1552.9 L2209.8,1547.6 L2210.8,1559.7 L2211.9,1545.5 L2212.9,1551.5 L2214.0,1544.5 L2215.1,1552.8 L2216.2,1546.8 L2217.3,1554.3 L2218.3,1536.7 L2219.4,1556.2 L2220.5,1545.2 L2221.7,1553.8 L2222.8,1544.6 L2223.9,1556.9 L2225.0,1547.3 L2226.1,1556.1 L2227.2,1545.8 L2228.4,1555.3 L2229.5,1548.9 L2231.4,1554.4 L2233.4,1547.1 L2234.5,1554.3 L2235.6,1548.0 L2236.7,1553.3 L2237.9,1547.6 L2239.1,1556.3 L2240.3,1549.3 L2241.5,1555.2 L2242.7,1546.6 L2244.0,1558.6 L2245.3,1545.8 L2246.6,1554.5 L2247.9,1547.8 L2249.2,1556.1 L2250.6,1548.8 L2251.9,1554.8 L2253.2,1546.6 L2254.6,1553.4 L2255.9,1550.6 L2257.3,1558.5 L2258.6,1549.6 L2260.0,1558.2 L2261.3,1548.5 L2262.6,1559.1 L2263.9,1549.0 L2265.2,1559.7 L2266.5,1550.5 L2267.8,1556.7 L2269.1,1548.0 L2270.3,1560.7 L2271.5,1551.0 L2272.7,1559.4 L2273.9,1549.4 L2275.0,1556.6 L2276.1,1552.8 L2277.2,1558.2 L2278.2,1550.1 L2279.2,1563.7 L2281.1,1548.4 L2282.8,1560.1 L2284.4,1552.0 L2285.7,1557.9 L2286.9,1549.9 L2288.1,1561.5 L2289.0,1551.3" fill="none" stroke="#ff0000" stroke-width="7" stroke-linejoin="round" stroke-linecap="butt"/>
<rect x="172.0" y="56.0" width="2117.3" height="1576.0" fill="none" stroke="#000" stroke-width="5.5"/>
<path d="M172.0,1632.0 V1665.0 M289.6,1632.0 V1650.0 M407.3,1632.0 V1665.0 M524.9,1632.0 V1650.0 M642.5,1632.0 V1665.0 M760.1,1632.0 V1650.0 M877.8,1632.0 V1665.0 M995.4,1632.0 V1650.0 M1113.0,1632.0 V1665.0 M1230.7,1632.0 V1650.0 M1348.3,1632.0 V1665.0 M1465.9,1632.0 V1650.0 M1583.5,1632.0 V1665.0 M1701.2,1632.0 V1650.0 M1818.8,1632.0 V1665.0 M1936.4,1632.0 V1650.0 M2054.0,1632.0 V1665.0 M2171.7,1632.0 V1650.0 M2289.3,1632.0 V1665.0" stroke="#000" stroke-width="5.5" fill="none"/>
<text x="116.4" y="1741" font-size="74">200</text>
<text x="352.7" y="1741" font-size="74">400</text>
<text x="587.2" y="1741" font-size="74">600</text>
<text x="822.4" y="1741" font-size="74">800</text>
<text x="1037.5" y="1741" font-size="74">1000</text>
<text x="1272.7" y="1741" font-size="74">1200</text>
<text x="1508.0" y="1741" font-size="74">1400</text>
<text x="1743.2" y="1741" font-size="74">1600</text>
<text x="1978.5" y="1741" font-size="74">1800</text>
<text x="2215.2" y="1741" font-size="74">2000</text>
<text transform="translate(912.2,1851.0) scale(0.9934,1)" font-size="79" >Raman shift /cm</text>
<text transform="translate(1463.9,1799.5) scale(0.9920,1)" font-size="44" >-1</text>
<text transform="translate(94.0,1181.8) rotate(-90)" font-size="83">Intensity /a.u</text>
<path d="M1996.2,102.5 V271.3 M1982.2,102.5 H2009.6 M1982.2,271.3 H2009.6" stroke="#000" stroke-width="7.5" fill="none"/>
<text x="2030.0" y="196.5" font-size="60" >4000 cps</text>
<text transform="translate(1851.8,851.2) scale(0.9629,1)" font-size="69" >4-MBA@ZrO</text>
<text transform="translate(2249.6,880.5) scale(1.0379,1)" font-size="39" >2</text>
<text transform="translate(1897.1,1467.0) scale(0.9568,1)" font-size="69" >4-MBA Solid</text>
<text transform="translate(267.4,509.1) rotate(-90)" font-size="62">266</text>
<text transform="translate(332.1,843.0) rotate(-90)" font-size="62">313</text>
<text transform="translate(494.3,853.6) rotate(-90)" font-size="62">458</text>
<text transform="translate(597.8,855.8) rotate(-90)" font-size="62">532</text>
<text transform="translate(713.5,782.6) rotate(-90)" font-size="62">646</text>
<text transform="translate(959.5,839.7) rotate(-90)" font-size="62">850</text>
<text transform="translate(1133.8,712.4) rotate(-90)" font-size="62">1075</text>
<text transform="translate(1254.8,696.0) rotate(-90)" font-size="62">1100</text>
<text transform="translate(1313.2,864.8) rotate(-90)" font-size="62">1144</text>
<text transform="translate(1404.5,813.5) rotate(-90)" font-size="62">1181</text>
<text transform="translate(1641.5,725.9) rotate(-90)" font-size="62">1432</text>
<text transform="translate(1715.4,883.8) rotate(-90)" font-size="62">1490</text>
<text transform="translate(1835.4,320.5) rotate(-90)" font-size="62">1594</text>
<text transform="translate(266.3,1409.9) rotate(-90)" font-size="62">280</text>
<text transform="translate(359.0,1441.4) rotate(-90)" font-size="62">341</text>
<text transform="translate(699.7,1362.7) rotate(-90)" font-size="62">632</text>
<text transform="translate(907.8,1383.4) rotate(-90)" font-size="62">802</text>
<text transform="translate(1253.8,1074.8) rotate(-90)" font-size="62">1097</text>
<text transform="translate(1349.7,1392.5) rotate(-90)" font-size="62">1182</text>
<text transform="translate(1479.0,1417.1) rotate(-90)" font-size="62">1291</text>
<text transform="translate(1835.8,1154.7) rotate(-90)" font-size="62">1594</text>
<path d="M1121.1,718.5 L1152.6,759.5" stroke="#000" stroke-width="2.6" fill="none"/><path d="M1175.1,788.8 L1143.4,764.0 L1159.3,751.8 Z" fill="#000"/>
<path d="M1239.1,697.3 L1239.1,743.4" stroke="#000" stroke-width="2.6" fill="none"/><path d="M1239.1,781.4 L1228.6,741.4 L1249.6,741.4 Z" fill="#000"/>
<path d="M1390.3,825.2 L1363.5,857.6" stroke="#000" stroke-width="2.6" fill="none"/><path d="M1339.9,886.1 L1357.1,849.7 L1372.5,862.4 Z" fill="#000"/>
</g>
</svg>
</body></html>
